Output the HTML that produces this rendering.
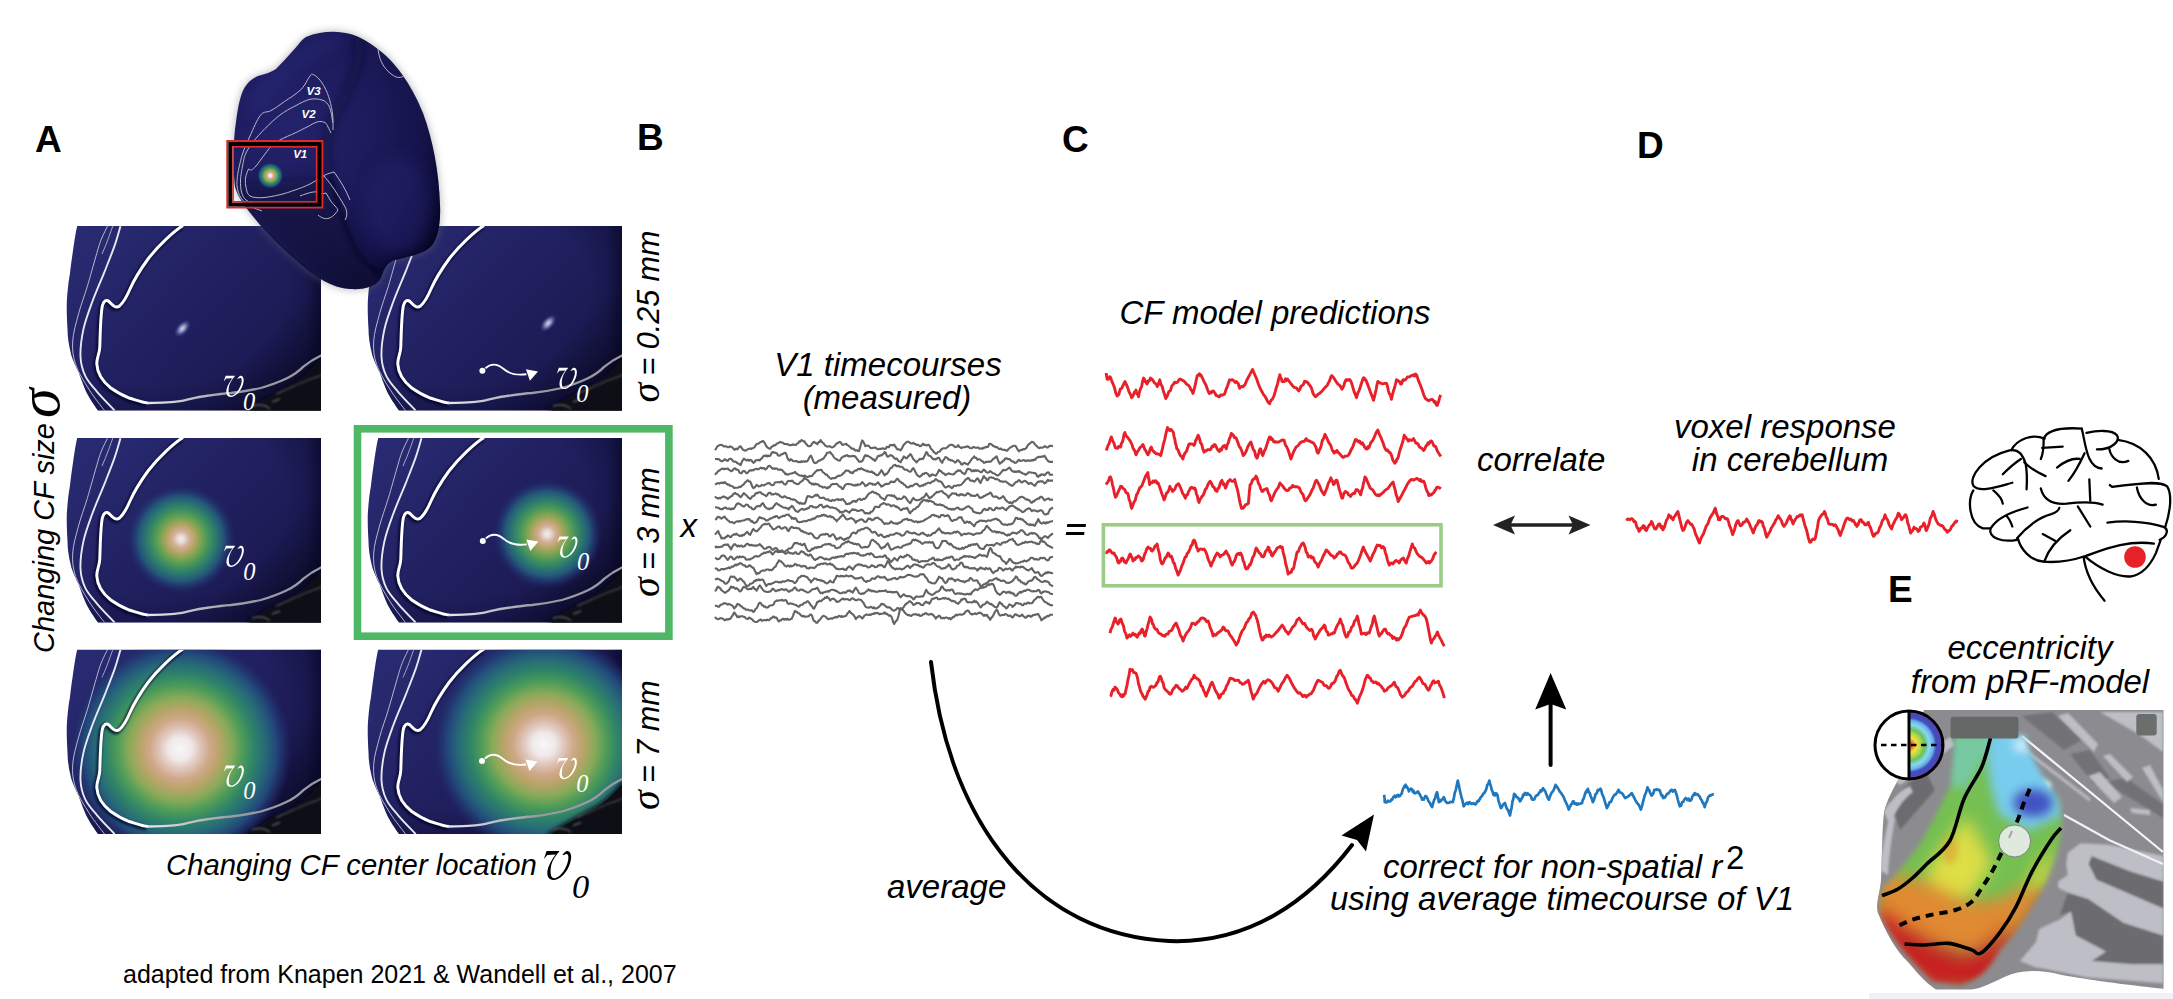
<!DOCTYPE html>
<html><head><meta charset="utf-8"><style>
html,body{margin:0;padding:0;background:#fff;width:2173px;height:999px;overflow:hidden}
svg{display:block}
</style></head><body>
<svg width="2173" height="999" viewBox="0 0 2173 999">
<defs><clipPath id="pclip"><path d="M11.2,0 H255 V184.5 H32 C26,176 21,168 19.4,163.9 C16,156 14,150 12.6,146.3 C8,137 5.5,131 4.7,126.8 C2.5,118 1.5,110 1.5,103 C0.8,92 0.6,82 0.8,76 C1.5,65 2.5,55 3.8,48.7 C5,38 6.5,28 7.7,19.4 C8.8,12 10,5 11.2,0 Z"/></clipPath><linearGradient id="navy" x1="0" y1="0" x2="1" y2="0.7">
<stop offset="0" stop-color="#2a2c74"/><stop offset="0.45" stop-color="#222263"/><stop offset="0.8" stop-color="#1c1b55"/><stop offset="1" stop-color="#121238"/></linearGradient><radialGradient id="vign" cx="0.35" cy="0.35" r="0.85">
<stop offset="0.6" stop-color="#000020" stop-opacity="0"/><stop offset="1" stop-color="#000010" stop-opacity="0.55"/></radialGradient><linearGradient id="lowg" gradientUnits="userSpaceOnUse" x1="80" y1="0" x2="170" y2="0"><stop offset="0" stop-color="#e8e8ee"/><stop offset="1" stop-color="#9a9aa2"/></linearGradient><filter id="blur1" x="-20%" y="-20%" width="140%" height="140%"><feGaussianBlur stdDeviation="1"/></filter><filter id="blur2" x="-50%" y="-50%" width="200%" height="200%"><feGaussianBlur stdDeviation="2"/></filter><filter id="blur4" x="-50%" y="-50%" width="200%" height="200%"><feGaussianBlur stdDeviation="4"/></filter><filter id="blur8" x="-50%" y="-50%" width="200%" height="200%"><feGaussianBlur stdDeviation="8"/></filter><radialGradient id="gs" cx="0.5" cy="0.5" r="0.5">
<stop offset="0" stop-color="#f8f6f6"/><stop offset="0.1" stop-color="#f0eaea"/><stop offset="0.18" stop-color="#e0c6bc"/><stop offset="0.27" stop-color="#cfa888"/><stop offset="0.36" stop-color="#b8a468"/>
<stop offset="0.46" stop-color="#88aa58"/><stop offset="0.56" stop-color="#4e9c58"/><stop offset="0.66" stop-color="#2f8468"/><stop offset="0.76" stop-color="#276a78"/><stop offset="0.86" stop-color="#22487a"/><stop offset="0.94" stop-color="#21306c" stop-opacity="0.6"/><stop offset="1" stop-color="#202264" stop-opacity="0"/></radialGradient><path id="vglyph" d="M150,228 C165,190 178,140 192,100 L402,100 L400,112 C340,180 290,260 272,330 C258,390 255,450 265,500 C275,540 300,555 330,552 C400,540 480,450 525,340 C550,280 560,230 555,190 C552,160 540,145 520,150 C495,158 470,170 455,165 C480,140 500,110 525,100 C575,90 605,140 602,210 C598,300 550,420 470,500 C410,560 350,585 300,582 C240,578 205,530 205,470 C205,390 250,290 330,175 L345,160 L205,165 C185,185 170,215 150,228 Z"/><radialGradient id="gm" cx="0.5" cy="0.5" r="0.5">
<stop offset="0" stop-color="#f2eeee"/><stop offset="0.06" stop-color="#e8dcd8"/><stop offset="0.15" stop-color="#d4ae98"/><stop offset="0.26" stop-color="#b4a464"/><stop offset="0.37" stop-color="#7aa452"/>
<stop offset="0.5" stop-color="#44955a"/><stop offset="0.63" stop-color="#2c7a6e"/><stop offset="0.77" stop-color="#245679"/><stop offset="0.9" stop-color="#21336e" stop-opacity="0.6"/><stop offset="1" stop-color="#202264" stop-opacity="0"/></radialGradient><linearGradient id="redge" x1="0" y1="0" x2="1" y2="0"><stop offset="0" stop-color="#000018" stop-opacity="0"/><stop offset="1" stop-color="#000018" stop-opacity="0.45"/></linearGradient><radialGradient id="gt" cx="0.5" cy="0.5" r="0.5">
<stop offset="0" stop-color="#d8d8e4"/><stop offset="0.4" stop-color="#9a9cc8" stop-opacity="0.85"/><stop offset="0.75" stop-color="#4a50a0" stop-opacity="0.5"/><stop offset="1" stop-color="#3a40a0" stop-opacity="0"/></radialGradient><clipPath id="bclip"><path d="M306,37 C318,32 332,31 342,32.5 C356,34 368,41 379,50 C398,64 414,90 423,113 C433,140 439,172 440,205 C441,226 437,243 428,249 C418,256 400,258 392,261 C385,265 383,272 381,278 C377,286 365,290 350,289 C333,288 316,278 299,263 C284,250 268,235 256,220 C246,208 238,197 235,187 C233,170 233,140 236,122 C238,105 241,93 245,87 C248,82 252,79 258,76 C265,74 272,72 276,69 C283,62 292,52 298,45 C301,41 303,39 306,37 Z"/></clipPath><radialGradient id="bgrad" cx="0.3" cy="0.38" r="0.75">
<stop offset="0" stop-color="#23236c"/><stop offset="0.45" stop-color="#1d1b5c"/><stop offset="0.75" stop-color="#16144c"/><stop offset="0.92" stop-color="#0f0d3a"/><stop offset="1" stop-color="#0c0a2c"/></radialGradient><clipPath id="eclip"><path d="M1924,710 H2163.5 V988.8 C2120,984 2090,980 2062,975 C2045,971 2030,969 2012,974 C1998,979 1985,988 1971,989.6 H1936 C1925,982 1919,975 1908,962 C1895,950 1885,930 1878,913 C1875,905 1880,893 1881,880 C1882,860 1882,830 1884,812 C1887,800 1893,789 1897,782 C1908,760 1917,735 1924,710 Z"/></clipPath><clipPath id="bandclip"><path d="M1954,735 L2025,735 C2030,760 2045,780 2060,800 C2064,830 2060,850 2045,885 C2030,910 2015,935 2000,950 C1990,968 1980,980 1960,985 L1933,982 C1915,965 1895,945 1880,915 C1878,895 1882,888 1888,883 C1898,872 1910,858 1920,844 C1927,832 1938,812 1950,787 C1953,770 1954,750 1955,735 Z"/></clipPath><filter id="bandblur" x="-10%" y="-10%" width="120%" height="120%"><feGaussianBlur stdDeviation="2.5"/></filter><linearGradient id="bandg" gradientUnits="userSpaceOnUse" x1="2035" y1="740" x2="1915" y2="975">
<stop offset="0" stop-color="#84d4ee"/><stop offset="0.2" stop-color="#70c8a8"/><stop offset="0.35" stop-color="#68c050"/><stop offset="0.52" stop-color="#c8dc40"/><stop offset="0.66" stop-color="#e2b030"/><stop offset="0.8" stop-color="#d05a24"/><stop offset="1" stop-color="#c41c24"/></linearGradient><radialGradient id="polg" gradientUnits="userSpaceOnUse" cx="1909" cy="745" r="34">
<stop offset="0" stop-color="#e01818"/><stop offset="0.1" stop-color="#f07020"/><stop offset="0.22" stop-color="#f4e040"/><stop offset="0.36" stop-color="#a8d848"/><stop offset="0.46" stop-color="#68c060"/><stop offset="0.6" stop-color="#88d8f0"/><stop offset="0.72" stop-color="#68b0e8"/><stop offset="0.8" stop-color="#4050c0"/><stop offset="0.9" stop-color="#4848b8"/><stop offset="1" stop-color="#7840b0"/></radialGradient></defs>
<rect width="2173" height="999" fill="#fff"/>
<g transform="translate(66,226)"><g clip-path="url(#pclip)"><rect x="-1" y="-1" width="258" height="187" fill="url(#navy)"/><rect x="-1" y="-1" width="258" height="187" fill="url(#vign)"/><rect x="240" y="-1" width="17" height="187" fill="url(#redge)"/></g><g clip-path="url(#pclip)"><ellipse cx="116.4" cy="102.5" rx="6" ry="10.5" transform="rotate(42 116.4 102.5)" fill="url(#gt)"/></g><g clip-path="url(#pclip)"><path d="M178,186 C195,174 212,166 228,157 C240,150 248,141 257,130 V186 Z" fill="#0d0d17" filter="url(#blur2)"/><path d="M182,186 C197,176 212,168 228,159 C240,152 248,143 257,132 V186 Z" fill="#0e0e16"/><path d="M186,180 C194,178 200,179 204,183 M206,176 L214,173" stroke="#5a5a60" stroke-width="1.5" fill="none" filter="url(#blur1)"/><path d="M210,168 C222,163 230,159 242,154 C248,152 252,151 257,148" stroke="#55555c" stroke-width="1.2" fill="none" filter="url(#blur1)"/><path d="M41.8,-0.5 C40.67,1.92 36.97,8.92 35,14 C33.03,19.08 32.28,22.27 30,30 C27.72,37.73 24.2,50.78 21.3,60.4 C18.4,70.02 15.03,78.6 12.6,87.7 C10.17,96.8 7.2,106.53 6.7,115 C6.2,123.47 6.83,130.35 9.6,138.5 C12.37,146.65 18.42,156.15 23.3,163.9 C28.18,171.65 36.3,181.48 38.9,185" stroke="#c8c8dc" stroke-width="0.9" fill="none"/><path d="M47,-0.5 C46,2.25 42.83,11.25 41,16 C39.17,20.75 36.83,26 36,28" stroke="#c8c8dc" stroke-width="0.8" fill="none"/><path d="M54.5,0.2 C53.53,3.4 51.3,11.97 48.7,19.4 C46.1,26.83 42.65,35.37 38.9,44.8 C35.15,54.23 29.78,66.23 26.2,76 C22.62,85.77 19.35,94.28 17.4,103.4 C15.45,112.52 14.17,122.9 14.5,130.7 C14.83,138.5 16.63,144.35 19.4,150.2 C22.17,156.05 26.22,160.07 31.1,165.8 C35.98,171.53 45.77,181.47 48.7,184.6" stroke="#e8e8f0" stroke-width="1.9" fill="none"/><path d="M117,-0.5 C108,5 92,20 82,33 C74,44 68,54 64,63 C61,70 58,76 53.5,80 C49.5,83 46.5,79 43,75.5 C40,73 37.5,75 36.3,80 C34.5,90 34.3,105 33.8,121 C33.5,128 30.5,132 30.8,138 C31.2,146 36,155 44.8,162 C52,167 58,170 62.3,171.7 C70,174 76,176.5 81.9,177" stroke="#05052a" stroke-width="5" fill="none" opacity="0.7" filter="url(#blur1)" transform="translate(-1.2,1.5)"/><path d="M117,-0.5 C108,5 92,20 82,33 C74,44 68,54 64,63 C61,70 58,76 53.5,80 C49.5,83 46.5,79 43,75.5 C40,73 37.5,75 36.3,80 C34.5,90 34.3,105 33.8,121 C33.5,128 30.5,132 30.8,138 C31.2,146 36,155 44.8,162 C52,167 58,170 62.3,171.7 C70,174 76,176.5 81.9,177" stroke="#ffffff" stroke-width="3" fill="none"/><path d="M81.9,177 C90,177 96,176.5 101,176.3 C108,176 112,175.5 114,175.2 C122,174 130,171 139.5,170 C150,168.5 157,167.5 165,167 C175,166 186,164 194.8,162 C205,159 213,156 220.4,152.5 C228,149 233,145 237.4,140.6 C243,136 249,132 257,128.5" stroke="url(#lowg)" stroke-width="2.3" fill="none"/></g><use href="#vglyph" transform="translate(157.8,149.5) scale(0.044) translate(-150,-95)" fill="#fff"/><text x="177.1" y="183.5" font-family="Liberation Serif" font-style="italic" font-size="24.5" fill="#fff">0</text></g><g transform="translate(367,226)"><g clip-path="url(#pclip)"><rect x="-1" y="-1" width="258" height="187" fill="url(#navy)"/><rect x="-1" y="-1" width="258" height="187" fill="url(#vign)"/><rect x="240" y="-1" width="17" height="187" fill="url(#redge)"/></g><g clip-path="url(#pclip)"><ellipse cx="181.2" cy="97.2" rx="6" ry="10.5" transform="rotate(42 181.2 97.2)" fill="url(#gt)"/></g><g clip-path="url(#pclip)"><path d="M178,186 C195,174 212,166 228,157 C240,150 248,141 257,130 V186 Z" fill="#0d0d17" filter="url(#blur2)"/><path d="M182,186 C197,176 212,168 228,159 C240,152 248,143 257,132 V186 Z" fill="#0e0e16"/><path d="M186,180 C194,178 200,179 204,183 M206,176 L214,173" stroke="#5a5a60" stroke-width="1.5" fill="none" filter="url(#blur1)"/><path d="M210,168 C222,163 230,159 242,154 C248,152 252,151 257,148" stroke="#55555c" stroke-width="1.2" fill="none" filter="url(#blur1)"/><path d="M41.8,-0.5 C40.67,1.92 36.97,8.92 35,14 C33.03,19.08 32.28,22.27 30,30 C27.72,37.73 24.2,50.78 21.3,60.4 C18.4,70.02 15.03,78.6 12.6,87.7 C10.17,96.8 7.2,106.53 6.7,115 C6.2,123.47 6.83,130.35 9.6,138.5 C12.37,146.65 18.42,156.15 23.3,163.9 C28.18,171.65 36.3,181.48 38.9,185" stroke="#c8c8dc" stroke-width="0.9" fill="none"/><path d="M47,-0.5 C46,2.25 42.83,11.25 41,16 C39.17,20.75 36.83,26 36,28" stroke="#c8c8dc" stroke-width="0.8" fill="none"/><path d="M54.5,0.2 C53.53,3.4 51.3,11.97 48.7,19.4 C46.1,26.83 42.65,35.37 38.9,44.8 C35.15,54.23 29.78,66.23 26.2,76 C22.62,85.77 19.35,94.28 17.4,103.4 C15.45,112.52 14.17,122.9 14.5,130.7 C14.83,138.5 16.63,144.35 19.4,150.2 C22.17,156.05 26.22,160.07 31.1,165.8 C35.98,171.53 45.77,181.47 48.7,184.6" stroke="#e8e8f0" stroke-width="1.9" fill="none"/><path d="M117,-0.5 C108,5 92,20 82,33 C74,44 68,54 64,63 C61,70 58,76 53.5,80 C49.5,83 46.5,79 43,75.5 C40,73 37.5,75 36.3,80 C34.5,90 34.3,105 33.8,121 C33.5,128 30.5,132 30.8,138 C31.2,146 36,155 44.8,162 C52,167 58,170 62.3,171.7 C70,174 76,176.5 81.9,177" stroke="#05052a" stroke-width="5" fill="none" opacity="0.7" filter="url(#blur1)" transform="translate(-1.2,1.5)"/><path d="M117,-0.5 C108,5 92,20 82,33 C74,44 68,54 64,63 C61,70 58,76 53.5,80 C49.5,83 46.5,79 43,75.5 C40,73 37.5,75 36.3,80 C34.5,90 34.3,105 33.8,121 C33.5,128 30.5,132 30.8,138 C31.2,146 36,155 44.8,162 C52,167 58,170 62.3,171.7 C70,174 76,176.5 81.9,177" stroke="#ffffff" stroke-width="3" fill="none"/><path d="M81.9,177 C90,177 96,176.5 101,176.3 C108,176 112,175.5 114,175.2 C122,174 130,171 139.5,170 C150,168.5 157,167.5 165,167 C175,166 186,164 194.8,162 C205,159 213,156 220.4,152.5 C228,149 233,145 237.4,140.6 C243,136 249,132 257,128.5" stroke="url(#lowg)" stroke-width="2.3" fill="none"/></g><use href="#vglyph" transform="translate(190,141.6) scale(0.044) translate(-150,-95)" fill="#fff"/><text x="209.3" y="175.6" font-family="Liberation Serif" font-style="italic" font-size="24.5" fill="#fff">0</text><g transform="translate(115.4,144.8)"><circle cx="0" cy="0" r="3" fill="#fff"/><path d="M3,-2.5 C9,-8 15,-7 21,-2 C26,2.5 32,5 44,3.5" stroke="#fff" stroke-width="1.9" fill="none"/><path d="M55.6,0.6 L43.5,-1.5 L47.5,10 Z" fill="#fff"/></g></g><g transform="translate(66,438)"><g clip-path="url(#pclip)"><rect x="-1" y="-1" width="258" height="187" fill="url(#navy)"/><rect x="-1" y="-1" width="258" height="187" fill="url(#vign)"/><rect x="240" y="-1" width="17" height="187" fill="url(#redge)"/></g><g clip-path="url(#pclip)"><circle cx="115" cy="101" r="55" fill="url(#gm)"/></g><g clip-path="url(#pclip)"><path d="M178,186 C195,174 212,166 228,157 C240,150 248,141 257,130 V186 Z" fill="#0d0d17" filter="url(#blur2)"/><path d="M182,186 C197,176 212,168 228,159 C240,152 248,143 257,132 V186 Z" fill="#0e0e16"/><path d="M186,180 C194,178 200,179 204,183 M206,176 L214,173" stroke="#5a5a60" stroke-width="1.5" fill="none" filter="url(#blur1)"/><path d="M210,168 C222,163 230,159 242,154 C248,152 252,151 257,148" stroke="#55555c" stroke-width="1.2" fill="none" filter="url(#blur1)"/><path d="M41.8,-0.5 C40.67,1.92 36.97,8.92 35,14 C33.03,19.08 32.28,22.27 30,30 C27.72,37.73 24.2,50.78 21.3,60.4 C18.4,70.02 15.03,78.6 12.6,87.7 C10.17,96.8 7.2,106.53 6.7,115 C6.2,123.47 6.83,130.35 9.6,138.5 C12.37,146.65 18.42,156.15 23.3,163.9 C28.18,171.65 36.3,181.48 38.9,185" stroke="#c8c8dc" stroke-width="0.9" fill="none"/><path d="M47,-0.5 C46,2.25 42.83,11.25 41,16 C39.17,20.75 36.83,26 36,28" stroke="#c8c8dc" stroke-width="0.8" fill="none"/><path d="M54.5,0.2 C53.53,3.4 51.3,11.97 48.7,19.4 C46.1,26.83 42.65,35.37 38.9,44.8 C35.15,54.23 29.78,66.23 26.2,76 C22.62,85.77 19.35,94.28 17.4,103.4 C15.45,112.52 14.17,122.9 14.5,130.7 C14.83,138.5 16.63,144.35 19.4,150.2 C22.17,156.05 26.22,160.07 31.1,165.8 C35.98,171.53 45.77,181.47 48.7,184.6" stroke="#e8e8f0" stroke-width="1.9" fill="none"/><path d="M117,-0.5 C108,5 92,20 82,33 C74,44 68,54 64,63 C61,70 58,76 53.5,80 C49.5,83 46.5,79 43,75.5 C40,73 37.5,75 36.3,80 C34.5,90 34.3,105 33.8,121 C33.5,128 30.5,132 30.8,138 C31.2,146 36,155 44.8,162 C52,167 58,170 62.3,171.7 C70,174 76,176.5 81.9,177" stroke="#05052a" stroke-width="5" fill="none" opacity="0.7" filter="url(#blur1)" transform="translate(-1.2,1.5)"/><path d="M117,-0.5 C108,5 92,20 82,33 C74,44 68,54 64,63 C61,70 58,76 53.5,80 C49.5,83 46.5,79 43,75.5 C40,73 37.5,75 36.3,80 C34.5,90 34.3,105 33.8,121 C33.5,128 30.5,132 30.8,138 C31.2,146 36,155 44.8,162 C52,167 58,170 62.3,171.7 C70,174 76,176.5 81.9,177" stroke="#ffffff" stroke-width="3" fill="none"/><path d="M81.9,177 C90,177 96,176.5 101,176.3 C108,176 112,175.5 114,175.2 C122,174 130,171 139.5,170 C150,168.5 157,167.5 165,167 C175,166 186,164 194.8,162 C205,159 213,156 220.4,152.5 C228,149 233,145 237.4,140.6 C243,136 249,132 257,128.5" stroke="url(#lowg)" stroke-width="2.3" fill="none"/></g><use href="#vglyph" transform="translate(158,107.5) scale(0.044) translate(-150,-95)" fill="#fff"/><text x="177.3" y="141.5" font-family="Liberation Serif" font-style="italic" font-size="24.5" fill="#fff">0</text></g><g transform="translate(367,438)"><g clip-path="url(#pclip)"><rect x="-1" y="-1" width="258" height="187" fill="url(#navy)"/><rect x="-1" y="-1" width="258" height="187" fill="url(#vign)"/><rect x="240" y="-1" width="17" height="187" fill="url(#redge)"/></g><g clip-path="url(#pclip)"><circle cx="180.2" cy="96" r="55" fill="url(#gm)"/></g><g clip-path="url(#pclip)"><path d="M178,186 C195,174 212,166 228,157 C240,150 248,141 257,130 V186 Z" fill="#0d0d17" filter="url(#blur2)"/><path d="M182,186 C197,176 212,168 228,159 C240,152 248,143 257,132 V186 Z" fill="#0e0e16"/><path d="M186,180 C194,178 200,179 204,183 M206,176 L214,173" stroke="#5a5a60" stroke-width="1.5" fill="none" filter="url(#blur1)"/><path d="M210,168 C222,163 230,159 242,154 C248,152 252,151 257,148" stroke="#55555c" stroke-width="1.2" fill="none" filter="url(#blur1)"/><path d="M41.8,-0.5 C40.67,1.92 36.97,8.92 35,14 C33.03,19.08 32.28,22.27 30,30 C27.72,37.73 24.2,50.78 21.3,60.4 C18.4,70.02 15.03,78.6 12.6,87.7 C10.17,96.8 7.2,106.53 6.7,115 C6.2,123.47 6.83,130.35 9.6,138.5 C12.37,146.65 18.42,156.15 23.3,163.9 C28.18,171.65 36.3,181.48 38.9,185" stroke="#c8c8dc" stroke-width="0.9" fill="none"/><path d="M47,-0.5 C46,2.25 42.83,11.25 41,16 C39.17,20.75 36.83,26 36,28" stroke="#c8c8dc" stroke-width="0.8" fill="none"/><path d="M54.5,0.2 C53.53,3.4 51.3,11.97 48.7,19.4 C46.1,26.83 42.65,35.37 38.9,44.8 C35.15,54.23 29.78,66.23 26.2,76 C22.62,85.77 19.35,94.28 17.4,103.4 C15.45,112.52 14.17,122.9 14.5,130.7 C14.83,138.5 16.63,144.35 19.4,150.2 C22.17,156.05 26.22,160.07 31.1,165.8 C35.98,171.53 45.77,181.47 48.7,184.6" stroke="#e8e8f0" stroke-width="1.9" fill="none"/><path d="M117,-0.5 C108,5 92,20 82,33 C74,44 68,54 64,63 C61,70 58,76 53.5,80 C49.5,83 46.5,79 43,75.5 C40,73 37.5,75 36.3,80 C34.5,90 34.3,105 33.8,121 C33.5,128 30.5,132 30.8,138 C31.2,146 36,155 44.8,162 C52,167 58,170 62.3,171.7 C70,174 76,176.5 81.9,177" stroke="#05052a" stroke-width="5" fill="none" opacity="0.7" filter="url(#blur1)" transform="translate(-1.2,1.5)"/><path d="M117,-0.5 C108,5 92,20 82,33 C74,44 68,54 64,63 C61,70 58,76 53.5,80 C49.5,83 46.5,79 43,75.5 C40,73 37.5,75 36.3,80 C34.5,90 34.3,105 33.8,121 C33.5,128 30.5,132 30.8,138 C31.2,146 36,155 44.8,162 C52,167 58,170 62.3,171.7 C70,174 76,176.5 81.9,177" stroke="#ffffff" stroke-width="3" fill="none"/><path d="M81.9,177 C90,177 96,176.5 101,176.3 C108,176 112,175.5 114,175.2 C122,174 130,171 139.5,170 C150,168.5 157,167.5 165,167 C175,166 186,164 194.8,162 C205,159 213,156 220.4,152.5 C228,149 233,145 237.4,140.6 C243,136 249,132 257,128.5" stroke="url(#lowg)" stroke-width="2.3" fill="none"/></g><use href="#vglyph" transform="translate(190.6,98.3) scale(0.044) translate(-150,-95)" fill="#fff"/><text x="209.9" y="132.3" font-family="Liberation Serif" font-style="italic" font-size="24.5" fill="#fff">0</text><g transform="translate(115.8,102.9)"><circle cx="0" cy="0" r="3" fill="#fff"/><path d="M3,-2.5 C9,-8 15,-7 21,-2 C26,2.5 32,5 44,3.5" stroke="#fff" stroke-width="1.9" fill="none"/><path d="M55.6,0.6 L43.5,-1.5 L47.5,10 Z" fill="#fff"/></g></g><g transform="translate(66,649.5)"><g clip-path="url(#pclip)"><rect x="-1" y="-1" width="258" height="187" fill="url(#navy)"/><rect x="-1" y="-1" width="258" height="187" fill="url(#vign)"/><rect x="240" y="-1" width="17" height="187" fill="url(#redge)"/></g><g clip-path="url(#pclip)"><circle cx="114" cy="99.5" r="112" fill="url(#gs)"/></g><g clip-path="url(#pclip)"><path d="M178,186 C195,174 212,166 228,157 C240,150 248,141 257,130 V186 Z" fill="#0d0d17" filter="url(#blur2)"/><path d="M182,186 C197,176 212,168 228,159 C240,152 248,143 257,132 V186 Z" fill="#0e0e16"/><path d="M186,180 C194,178 200,179 204,183 M206,176 L214,173" stroke="#5a5a60" stroke-width="1.5" fill="none" filter="url(#blur1)"/><path d="M210,168 C222,163 230,159 242,154 C248,152 252,151 257,148" stroke="#55555c" stroke-width="1.2" fill="none" filter="url(#blur1)"/><path d="M41.8,-0.5 C40.67,1.92 36.97,8.92 35,14 C33.03,19.08 32.28,22.27 30,30 C27.72,37.73 24.2,50.78 21.3,60.4 C18.4,70.02 15.03,78.6 12.6,87.7 C10.17,96.8 7.2,106.53 6.7,115 C6.2,123.47 6.83,130.35 9.6,138.5 C12.37,146.65 18.42,156.15 23.3,163.9 C28.18,171.65 36.3,181.48 38.9,185" stroke="#c8c8dc" stroke-width="0.9" fill="none"/><path d="M47,-0.5 C46,2.25 42.83,11.25 41,16 C39.17,20.75 36.83,26 36,28" stroke="#c8c8dc" stroke-width="0.8" fill="none"/><path d="M54.5,0.2 C53.53,3.4 51.3,11.97 48.7,19.4 C46.1,26.83 42.65,35.37 38.9,44.8 C35.15,54.23 29.78,66.23 26.2,76 C22.62,85.77 19.35,94.28 17.4,103.4 C15.45,112.52 14.17,122.9 14.5,130.7 C14.83,138.5 16.63,144.35 19.4,150.2 C22.17,156.05 26.22,160.07 31.1,165.8 C35.98,171.53 45.77,181.47 48.7,184.6" stroke="#e8e8f0" stroke-width="1.9" fill="none"/><path d="M117,-0.5 C108,5 92,20 82,33 C74,44 68,54 64,63 C61,70 58,76 53.5,80 C49.5,83 46.5,79 43,75.5 C40,73 37.5,75 36.3,80 C34.5,90 34.3,105 33.8,121 C33.5,128 30.5,132 30.8,138 C31.2,146 36,155 44.8,162 C52,167 58,170 62.3,171.7 C70,174 76,176.5 81.9,177" stroke="#05052a" stroke-width="5" fill="none" opacity="0.7" filter="url(#blur1)" transform="translate(-1.2,1.5)"/><path d="M117,-0.5 C108,5 92,20 82,33 C74,44 68,54 64,63 C61,70 58,76 53.5,80 C49.5,83 46.5,79 43,75.5 C40,73 37.5,75 36.3,80 C34.5,90 34.3,105 33.8,121 C33.5,128 30.5,132 30.8,138 C31.2,146 36,155 44.8,162 C52,167 58,170 62.3,171.7 C70,174 76,176.5 81.9,177" stroke="#ffffff" stroke-width="3" fill="none"/><path d="M81.9,177 C90,177 96,176.5 101,176.3 C108,176 112,175.5 114,175.2 C122,174 130,171 139.5,170 C150,168.5 157,167.5 165,167 C175,166 186,164 194.8,162 C205,159 213,156 220.4,152.5 C228,149 233,145 237.4,140.6 C243,136 249,132 257,128.5" stroke="url(#lowg)" stroke-width="2.3" fill="none"/></g><use href="#vglyph" transform="translate(158,115.9) scale(0.044) translate(-150,-95)" fill="#fff"/><text x="177.3" y="149.9" font-family="Liberation Serif" font-style="italic" font-size="24.5" fill="#fff">0</text></g><g transform="translate(367,649.5)"><g clip-path="url(#pclip)"><rect x="-1" y="-1" width="258" height="187" fill="url(#navy)"/><rect x="-1" y="-1" width="258" height="187" fill="url(#vign)"/><rect x="240" y="-1" width="17" height="187" fill="url(#redge)"/></g><g clip-path="url(#pclip)"><circle cx="176.8" cy="95" r="112" fill="url(#gs)"/></g><g clip-path="url(#pclip)"><path d="M178,186 C195,174 212,166 228,157 C240,150 248,141 257,130 V186 Z" fill="#0d0d17" filter="url(#blur2)"/><path d="M182,186 C197,176 212,168 228,159 C240,152 248,143 257,132 V186 Z" fill="#0e0e16"/><path d="M186,180 C194,178 200,179 204,183 M206,176 L214,173" stroke="#5a5a60" stroke-width="1.5" fill="none" filter="url(#blur1)"/><path d="M210,168 C222,163 230,159 242,154 C248,152 252,151 257,148" stroke="#55555c" stroke-width="1.2" fill="none" filter="url(#blur1)"/><path d="M41.8,-0.5 C40.67,1.92 36.97,8.92 35,14 C33.03,19.08 32.28,22.27 30,30 C27.72,37.73 24.2,50.78 21.3,60.4 C18.4,70.02 15.03,78.6 12.6,87.7 C10.17,96.8 7.2,106.53 6.7,115 C6.2,123.47 6.83,130.35 9.6,138.5 C12.37,146.65 18.42,156.15 23.3,163.9 C28.18,171.65 36.3,181.48 38.9,185" stroke="#c8c8dc" stroke-width="0.9" fill="none"/><path d="M47,-0.5 C46,2.25 42.83,11.25 41,16 C39.17,20.75 36.83,26 36,28" stroke="#c8c8dc" stroke-width="0.8" fill="none"/><path d="M54.5,0.2 C53.53,3.4 51.3,11.97 48.7,19.4 C46.1,26.83 42.65,35.37 38.9,44.8 C35.15,54.23 29.78,66.23 26.2,76 C22.62,85.77 19.35,94.28 17.4,103.4 C15.45,112.52 14.17,122.9 14.5,130.7 C14.83,138.5 16.63,144.35 19.4,150.2 C22.17,156.05 26.22,160.07 31.1,165.8 C35.98,171.53 45.77,181.47 48.7,184.6" stroke="#e8e8f0" stroke-width="1.9" fill="none"/><path d="M117,-0.5 C108,5 92,20 82,33 C74,44 68,54 64,63 C61,70 58,76 53.5,80 C49.5,83 46.5,79 43,75.5 C40,73 37.5,75 36.3,80 C34.5,90 34.3,105 33.8,121 C33.5,128 30.5,132 30.8,138 C31.2,146 36,155 44.8,162 C52,167 58,170 62.3,171.7 C70,174 76,176.5 81.9,177" stroke="#05052a" stroke-width="5" fill="none" opacity="0.7" filter="url(#blur1)" transform="translate(-1.2,1.5)"/><path d="M117,-0.5 C108,5 92,20 82,33 C74,44 68,54 64,63 C61,70 58,76 53.5,80 C49.5,83 46.5,79 43,75.5 C40,73 37.5,75 36.3,80 C34.5,90 34.3,105 33.8,121 C33.5,128 30.5,132 30.8,138 C31.2,146 36,155 44.8,162 C52,167 58,170 62.3,171.7 C70,174 76,176.5 81.9,177" stroke="#ffffff" stroke-width="3" fill="none"/><path d="M81.9,177 C90,177 96,176.5 101,176.3 C108,176 112,175.5 114,175.2 C122,174 130,171 139.5,170 C150,168.5 157,167.5 165,167 C175,166 186,164 194.8,162 C205,159 213,156 220.4,152.5 C228,149 233,145 237.4,140.6 C243,136 249,132 257,128.5" stroke="url(#lowg)" stroke-width="2.3" fill="none"/></g><use href="#vglyph" transform="translate(190,108.2) scale(0.044) translate(-150,-95)" fill="#fff"/><text x="209.3" y="142.2" font-family="Liberation Serif" font-style="italic" font-size="24.5" fill="#fff">0</text><g transform="translate(115,111.5)"><circle cx="0" cy="0" r="3" fill="#fff"/><path d="M3,-2.5 C9,-8 15,-7 21,-2 C26,2.5 32,5 44,3.5" stroke="#fff" stroke-width="1.9" fill="none"/><path d="M55.6,0.6 L43.5,-1.5 L47.5,10 Z" fill="#fff"/></g></g>
<path d="M306,37 C318,32 332,31 342,32.5 C356,34 368,41 379,50 C398,64 414,90 423,113 C433,140 439,172 440,205 C441,226 437,243 428,249 C418,256 400,258 392,261 C385,265 383,272 381,278 C377,286 365,290 350,289 C333,288 316,278 299,263 C284,250 268,235 256,220 C246,208 238,197 235,187 C233,170 233,140 236,122 C238,105 241,93 245,87 C248,82 252,79 258,76 C265,74 272,72 276,69 C283,62 292,52 298,45 C301,41 303,39 306,37 Z" fill="#707070" opacity="0.55" filter="url(#blur4)"/><g clip-path="url(#bclip)"><rect x="220" y="25" width="230" height="270" fill="url(#bgrad)"/><path d="M357,38 C366,60 346,95 334,116 C327,130 325,150 328,172" stroke="#08082a" stroke-width="8" fill="none" opacity="0.45" filter="url(#blur4)"/><path d="M330,176 C338,206 346,236 360,258 C368,268 378,272 386,272" stroke="#05051c" stroke-width="4" fill="none" opacity="0.65" filter="url(#blur2)"/><path d="M236,185 L330,178 C340,215 350,245 368,265 L380,292 L335,292 C300,262 265,230 236,200 Z" fill="#080826" opacity="0.4" filter="url(#blur8)"/><ellipse cx="398" cy="205" rx="32" ry="48" fill="#2a2a7c" opacity="0.35" filter="url(#blur8)"/><path d="M440,120 C446,170 447,220 430,250 C416,262 396,262 384,270" stroke="#06061e" stroke-width="10" fill="none" opacity="0.5" filter="url(#blur4)"/><path d="M250,110 C270,80 300,50 340,40" stroke="#2e3084" stroke-width="14" fill="none" opacity="0.4" filter="url(#blur8)"/></g><g clip-path="url(#bclip)" fill="none" stroke="#b8b8c8" stroke-width="1"><path d="M248.5,169 C249,169.15 250.25,170.4 251.5,169.9 C252.75,169.4 253.75,168.65 256,166 C258.25,163.35 262.5,157.23 265,154 C267.5,150.77 268.5,148.95 271,146.6 C273.5,144.25 276,142.17 280,139.9 C284,137.63 290.5,135.15 295,133 C299.5,130.85 303.23,128.87 307,127 C310.77,125.13 314.6,122.53 317.6,121.8 C320.6,121.07 323.27,121.73 325,122.6 C326.73,123.47 327,125.27 328,127 C329,128.73 330.5,132 331,133"/><path d="M248.5,169 C248,170.5 245.87,174.72 245.5,178 C245.13,181.28 245.55,185.7 246.3,188.7 C247.05,191.7 247.38,194.5 250,196 C252.62,197.5 257,197.92 262,197.7 C267,197.48 274.5,195.98 280,194.7 C285.5,193.42 290,191.78 295,190 C300,188.22 305,186.5 310,184 C315,181.5 321,177 325,175 C329,173 332.5,172.5 334,172"/><path d="M242.5,166 C243,164 243.75,158 245.5,154 C247.25,150 249.75,146.23 253,142 C256.25,137.77 260.5,133.1 265,128.6 C269.5,124.1 275,118.77 280,115 C285,111.23 290,108.62 295,106 C300,103.38 305.5,100.3 310,99.3 C314.5,98.3 319,99.13 322,100 C325,100.87 326.5,102.5 328,104.5 C329.5,106.5 330.22,108.98 331,112 C331.78,115.02 332.42,120.83 332.7,122.6"/><path d="M242.5,166 C242.17,168.33 240.67,175.67 240.5,180 C240.33,184.33 240.58,188.67 241.5,192 C242.42,195.33 243.58,198 246,200 C248.42,202 252,203.17 256,204 C260,204.83 267.67,204.83 270,205"/><path d="M238,172 C238.75,169 240.5,160 242.5,154 C244.5,148 246.98,142.5 250,136 C253.02,129.5 257.1,119.23 260.6,115 C264.1,110.77 267,112.85 271,110.6 C275,108.35 279.6,105.02 284.6,101.5 C289.6,97.98 296.77,93.75 301,89.5 C305.23,85.25 308,78.5 310,76 C312,73.5 311.5,74 313,74.5 C314.5,75 317,76.75 319,79 C321,81.25 323.22,84.5 325,88 C326.78,91.5 328.42,95.5 329.7,100 C330.98,104.5 332.15,110 332.7,115 C333.25,120 332.95,127.5 333,130"/><path d="M238,172 C237.83,174.33 236.5,181.67 237,186 C237.5,190.33 238.83,194.67 241,198 C243.17,201.33 246.5,203.83 250,206 C253.5,208.17 260,210.17 262,211"/><path d="M300,196 C310,192 318,190 322,194 L326,193 L329,198 C332,204 336,206 338,210 C333,218 326,222 318,215"/><path d="M324,176 C332,185 338,195 344,205 C347,210 348,215 345,220"/><path d="M334,172 C340,180 346,190 350,200"/><path d="M378,42 C377,55 382,70 396,77 C400,78 404,77 406,74"/></g><circle cx="270.3" cy="175.5" r="13" fill="url(#gs)"/><rect x="227.3" y="141" width="95.1" height="66.5" fill="none" stroke="#e02a2a" stroke-width="2"/><rect x="230.3" y="144" width="89.1" height="60.5" fill="none" stroke="#000" stroke-width="4"/><rect x="233.1" y="146.8" width="83.5" height="55" fill="none" stroke="#e02a2a" stroke-width="1.6"/><g font-family="Liberation Sans" font-weight="bold" font-style="italic" font-size="11.5" fill="#fff"><text x="293.2" y="158">V1</text><text x="301.5" y="118">V2</text><text x="306.6" y="94.8">V3</text></g><g font-family="Liberation Sans" font-weight="bold" font-size="37" fill="#000"><text x="35" y="152">A</text><text x="637" y="150">B</text><text x="1062" y="152">C</text><text x="1637" y="158">D</text><text x="1888" y="602">E</text></g><g font-family="Liberation Sans" font-style="italic" font-size="33" fill="#000"><text x="888" y="376" text-anchor="middle">V1 timecourses</text><text x="887" y="409" text-anchor="middle">(measured)</text><text x="1275" y="324" text-anchor="middle">CF model predictions</text><text x="1477" y="471">correlate</text><text x="1785" y="438" text-anchor="middle">voxel response</text><text x="1790" y="471" text-anchor="middle">in cerebellum</text><text x="2030" y="659" text-anchor="middle">eccentricity</text><text x="2030" y="693" text-anchor="middle">from pRF-model</text><text x="887" y="898">average</text><text x="1383" y="878">correct for non-spatial r</text><text x="1330" y="910">using average timecourse of V1</text><text x="680.5" y="537">x</text></g><text x="1726" y="869" font-family="Liberation Sans" font-size="33">2</text><path d="M1067.3,524 L1086,524 L1085.6,527 L1066.9,527 Z M1066.3,532 L1084.5,532 L1084.1,535 L1065.6,535 Z" fill="#000"/><text x="123" y="983" font-family="Liberation Sans" font-size="25">adapted from Knapen 2021 &amp; Wandell et al., 2007</text><text x="166" y="875" font-family="Liberation Sans" font-style="italic" font-size="29.3">Changing CF center location</text><use href="#vglyph" transform="translate(544,850.7) scale(0.06007) translate(-150,-95)" fill="#000"/><text x="572" y="898.2" font-family="Liberation Serif" font-style="italic" font-size="34.5">0</text><text transform="translate(54,653) rotate(-90)" font-family="Liberation Sans" font-style="italic" font-size="29">Changing CF size</text><text transform="translate(58.5,418) rotate(-90)" font-family="Liberation Serif" font-style="italic" font-size="60">σ</text><text transform="translate(658.5,402.5) rotate(-90)" font-family="Liberation Serif" font-style="italic" font-size="40">σ</text><text transform="translate(658.5,375.5) rotate(-90)" font-family="Liberation Sans" font-style="italic" font-size="30.5">= 0.25 mm</text><text transform="translate(658.5,597) rotate(-90)" font-family="Liberation Serif" font-style="italic" font-size="40">σ</text><text transform="translate(658.5,570) rotate(-90)" font-family="Liberation Sans" font-style="italic" font-size="30.5">= 3 mm</text><text transform="translate(658.5,810) rotate(-90)" font-family="Liberation Serif" font-style="italic" font-size="40">σ</text><text transform="translate(658.5,783) rotate(-90)" font-family="Liberation Sans" font-style="italic" font-size="30.5">= 7 mm</text><g fill="none" stroke="#636367" stroke-width="2.1" stroke-linejoin="round"><path d="M715,450.2 L716.1,448.6 L717.1,446.6 L718.2,445.9 L719.3,445.2 L720.3,445 L721.4,444.9 L722.5,445.2 L723.5,446.3 L724.6,446.6 L725.7,446.1 L726.7,446.7 L727.8,447.3 L728.9,447.3 L729.9,446.3 L731,446.7 L732.1,447.3 L733.1,448.2 L734.2,449.6 L735.3,449.4 L736.3,448.6 L737.4,449.3 L738.5,447.9 L739.5,446.6 L740.6,446.3 L741.7,447.9 L742.7,449.5 L743.8,450 L744.9,450.6 L745.9,450.4 L747,449.9 L748.1,449 L749.1,448.8 L750.2,448.4 L751.3,449 L752.3,448.2 L753.4,448 L754.5,447.1 L755.5,445.6 L756.6,444.1 L757.7,443.8 L758.7,443.6 L759.8,442.5 L760.9,441.9 L761.9,441.6 L763,440.8 L764.1,442.2 L765.1,443.6 L766.2,446 L767.3,447.3 L768.3,448 L769.4,448.7 L770.5,448.6 L771.5,446.7 L772.6,446.5 L773.7,445.2 L774.7,445.5 L775.8,444.8 L776.9,443.5 L777.9,443.3 L779,442.7 L780.1,441.9 L781.1,442.4 L782.2,442.6 L783.3,442.9 L784.3,444 L785.4,444 L786.5,444.1 L787.5,444.1 L788.6,444.8 L789.7,445.2 L790.7,445.1 L791.8,445 L792.9,444.3 L793.9,444.7 L795,444.9 L796.1,445 L797.1,443.5 L798.2,443.3 L799.3,441.4 L800.3,441.6 L801.4,440 L802.5,440.6 L803.5,441.5 L804.6,441.4 L805.7,443.4 L806.7,444.4 L807.8,445.9 L808.9,446.2 L809.9,446.2 L811,445.5 L812.1,443.7 L813.1,442.5 L814.2,441.8 L815.3,443.1 L816.3,443.1 L817.4,444.3 L818.5,442.1 L819.5,442.2 L820.6,440 L821.7,441.8 L822.7,442.8 L823.8,443.5 L824.9,445.3 L825.9,446 L827,446.5 L828.1,446.6 L829.1,446.1 L830.2,446.5 L831.3,447.3 L832.3,447.4 L833.4,446.9 L834.5,446.1 L835.5,445 L836.6,443.3 L837.7,443.4 L838.7,442.3 L839.8,441.9 L840.9,442.6 L841.9,444.5 L843,444.9 L844.1,444.3 L845.1,444.2 L846.2,443.7 L847.3,445.1 L848.3,445.5 L849.4,446.5 L850.5,447.3 L851.5,448.7 L852.6,448.6 L853.7,448.7 L854.7,450 L855.8,450.7 L856.9,450.1 L857.9,451 L859,451.1 L860.1,447.4 L861.1,443.5 L862.2,440.4 L863.3,441.7 L864.3,443.8 L865.4,446.2 L866.5,445.8 L867.5,445.5 L868.6,445.7 L869.7,446.9 L870.7,447.9 L871.8,448.1 L872.9,447.9 L873.9,447.8 L875,447.4 L876.1,448.1 L877.1,448.9 L878.2,449.2 L879.3,448.9 L880.3,448.9 L881.4,448.9 L882.5,448.2 L883.5,448.5 L884.6,448.9 L885.7,448.8 L886.7,446.9 L887.8,447.1 L888.9,447.3 L889.9,445.1 L891,445.3 L892.1,444.9 L893.1,445.4 L894.2,444.6 L895.3,446.5 L896.3,447.8 L897.4,449.4 L898.5,449.4 L899.5,449.5 L900.6,450.4 L901.7,448.9 L902.7,446.8 L903.8,444.7 L904.9,443.9 L905.9,442.5 L907,441.9 L908.1,441.6 L909.1,442.1 L910.2,443.1 L911.3,443.5 L912.3,443.5 L913.4,442.8 L914.5,443.9 L915.5,444 L916.6,445.1 L917.7,444.7 L918.7,445.2 L919.8,446.2 L920.9,445.9 L921.9,444.9 L923,443.7 L924.1,445 L925.1,444.7 L926.2,445.4 L927.3,445.2 L928.3,444.7 L929.4,445.5 L930.5,447.8 L931.5,449.3 L932.6,450.3 L933.7,451.9 L934.7,452.8 L935.8,453.8 L936.9,453.4 L937.9,452 L939,451.8 L940.1,451.1 L941.1,449.5 L942.2,448.8 L943.3,448.3 L944.3,448.2 L945.4,448.4 L946.5,447.8 L947.5,447.2 L948.6,445.9 L949.7,445.2 L950.7,444.8 L951.8,444.8 L952.9,445.3 L953.9,445.8 L955,447.2 L956.1,446.8 L957.1,446.6 L958.2,445.1 L959.3,446.9 L960.3,447.3 L961.4,448.1 L962.5,447.4 L963.5,447.2 L964.6,447.2 L965.7,446.8 L966.7,446.6 L967.8,446.4 L968.9,446.9 L969.9,447.9 L971,448.2 L972.1,448.2 L973.1,447 L974.2,447 L975.3,447.8 L976.3,447.7 L977.4,447.6 L978.5,447.6 L979.5,448.8 L980.6,448.5 L981.7,448.2 L982.7,448.7 L983.8,447.6 L984.9,447.7 L985.9,446.9 L987,447.1 L988.1,446.8 L989.1,444.1 L990.2,443.7 L991.3,444.3 L992.3,445.1 L993.4,446.1 L994.5,446.3 L995.5,447.3 L996.6,447 L997.7,447.7 L998.7,448.7 L999.8,449 L1000.9,448.5 L1001.9,449.6 L1003,449.8 L1004.1,449.9 L1005.1,449.7 L1006.2,450.6 L1007.3,450.6 L1008.3,449.2 L1009.4,448.3 L1010.5,447.4 L1011.5,446.8 L1012.6,446.3 L1013.7,445.7 L1014.7,445.8 L1015.8,446.2 L1016.9,448.3 L1017.9,449.9 L1019,451.3 L1020.1,450.2 L1021.1,449.9 L1022.2,450 L1023.3,449.1 L1024.3,449.3 L1025.4,448.8 L1026.5,447.7 L1027.5,445.8 L1028.6,444.3 L1029.7,443.8 L1030.7,442.8 L1031.8,441.8 L1032.9,442 L1033.9,442.9 L1035,444.4 L1036.1,445.5 L1037.1,446.4 L1038.2,447.6 L1039.3,448.1 L1040.3,447.4 L1041.4,447.8 L1042.5,447.6 L1043.5,447.3 L1044.6,446.1 L1045.7,446.7 L1046.7,447.4 L1047.8,447.5 L1048.9,446.4 L1049.9,445.7 L1053,446"/><path d="M715,459 L716.1,459 L717.1,459.1 L718.2,459 L719.3,459.4 L720.3,460.5 L721.4,461.1 L722.5,461.1 L723.5,460.6 L724.6,459.3 L725.7,459.8 L726.7,460.6 L727.8,460.7 L728.9,459.4 L729.9,458.8 L731,458.8 L732.1,459.8 L733.1,461.2 L734.2,461.7 L735.3,461.6 L736.3,462.1 L737.4,463.1 L738.5,463.8 L739.5,464.1 L740.6,465.1 L741.7,462.4 L742.7,460.3 L743.8,458.7 L744.9,459.2 L745.9,460.3 L747,460.4 L748.1,459.7 L749.1,460.6 L750.2,459.9 L751.3,460.2 L752.3,461.5 L753.4,462.9 L754.5,462.3 L755.5,460.4 L756.6,460.3 L757.7,460.1 L758.7,459.9 L759.8,460.5 L760.9,458.7 L761.9,458.4 L763,456.5 L764.1,455.6 L765.1,456.1 L766.2,455.4 L767.3,456.4 L768.3,455.6 L769.4,456.3 L770.5,455.4 L771.5,453.1 L772.6,452 L773.7,452.7 L774.7,452.6 L775.8,452.8 L776.9,453.5 L777.9,455.3 L779,455.7 L780.1,455.5 L781.1,454.4 L782.2,454.2 L783.3,453.8 L784.3,452.9 L785.4,452.7 L786.5,454.8 L787.5,458.2 L788.6,459.8 L789.7,460.6 L790.7,459.2 L791.8,459.8 L792.9,460.9 L793.9,461.2 L795,461.3 L796.1,460.9 L797.1,461.3 L798.2,462.3 L799.3,461.8 L800.3,462.2 L801.4,461.2 L802.5,462 L803.5,461.2 L804.6,461.8 L805.7,461.3 L806.7,461.6 L807.8,460.5 L808.9,458.4 L809.9,456.6 L811,455.6 L812.1,457.9 L813.1,460.7 L814.2,462.7 L815.3,463.1 L816.3,462.8 L817.4,462 L818.5,460.7 L819.5,460.4 L820.6,460.4 L821.7,459.1 L822.7,459.1 L823.8,458.2 L824.9,456.3 L825.9,455.3 L827,452.9 L828.1,452.8 L829.1,452.5 L830.2,452 L831.3,453.8 L832.3,454.5 L833.4,456.5 L834.5,458 L835.5,458.8 L836.6,459.1 L837.7,460.1 L838.7,460.5 L839.8,460.6 L840.9,458.8 L841.9,457.4 L843,456.8 L844.1,456.1 L845.1,456.2 L846.2,455.4 L847.3,455.1 L848.3,456.4 L849.4,456 L850.5,456.5 L851.5,456.2 L852.6,455.8 L853.7,456.2 L854.7,456.1 L855.8,457.1 L856.9,459.1 L857.9,459.7 L859,461.7 L860.1,461.5 L861.1,461.7 L862.2,461.1 L863.3,459.3 L864.3,456.6 L865.4,455.1 L866.5,456.1 L867.5,455.6 L868.6,456.4 L869.7,456.9 L870.7,457.6 L871.8,458.4 L872.9,459.6 L873.9,459.4 L875,461 L876.1,459.5 L877.1,457.5 L878.2,455.7 L879.3,456.1 L880.3,455.4 L881.4,455.5 L882.5,454.4 L883.5,453.9 L884.6,452 L885.7,452.9 L886.7,455.7 L887.8,456.8 L888.9,456.2 L889.9,455.4 L891,455.2 L892.1,455.7 L893.1,456.6 L894.2,458 L895.3,459 L896.3,458.4 L897.4,459.3 L898.5,461.1 L899.5,461.4 L900.6,462.3 L901.7,460 L902.7,458.8 L903.8,456.4 L904.9,457.1 L905.9,458.3 L907,458.3 L908.1,456.3 L909.1,455.8 L910.2,454.1 L911.3,455.1 L912.3,457.1 L913.4,459.3 L914.5,460.3 L915.5,461.2 L916.6,462.5 L917.7,460.9 L918.7,460.2 L919.8,458.8 L920.9,459.3 L921.9,458.8 L923,459.1 L924.1,456.8 L925.1,454.9 L926.2,452.1 L927.3,452.9 L928.3,455.4 L929.4,455.8 L930.5,456 L931.5,457.5 L932.6,458.6 L933.7,459.4 L934.7,458.8 L935.8,459.5 L936.9,458.6 L937.9,457.8 L939,457.7 L940.1,460.2 L941.1,461.7 L942.2,462.8 L943.3,460.2 L944.3,459.1 L945.4,457.1 L946.5,457.4 L947.5,458.1 L948.6,459.8 L949.7,459.5 L950.7,460.4 L951.8,460.2 L952.9,461 L953.9,461.4 L955,462.6 L956.1,462 L957.1,460.4 L958.2,460.3 L959.3,461.5 L960.3,462.5 L961.4,464.5 L962.5,464.5 L963.5,463.2 L964.6,462.8 L965.7,463.8 L966.7,463.8 L967.8,464.6 L968.9,463 L969.9,461.8 L971,460.1 L972.1,458.5 L973.1,457.8 L974.2,456.4 L975.3,458 L976.3,457.9 L977.4,459.7 L978.5,459.3 L979.5,459.2 L980.6,460 L981.7,461 L982.7,461.3 L983.8,462.8 L984.9,462.6 L985.9,461.7 L987,461.9 L988.1,461.9 L989.1,461.5 L990.2,461.8 L991.3,461.1 L992.3,460.1 L993.4,458.5 L994.5,458.5 L995.5,457 L996.6,456.3 L997.7,459.4 L998.7,461.9 L999.8,463.8 L1000.9,462.5 L1001.9,462.4 L1003,460.6 L1004.1,460.5 L1005.1,458.5 L1006.2,458.2 L1007.3,458.9 L1008.3,459.1 L1009.4,459 L1010.5,460 L1011.5,461 L1012.6,461.6 L1013.7,461.6 L1014.7,463 L1015.8,462.8 L1016.9,462.2 L1017.9,460.4 L1019,459.9 L1020.1,460.9 L1021.1,460.8 L1022.2,460.7 L1023.3,460.1 L1024.3,460.3 L1025.4,461.2 L1026.5,460.4 L1027.5,460.9 L1028.6,460.4 L1029.7,460.6 L1030.7,460.8 L1031.8,460 L1032.9,460.6 L1033.9,459.5 L1035,459.9 L1036.1,458.5 L1037.1,457.4 L1038.2,457.1 L1039.3,456.9 L1040.3,456.9 L1041.4,456.9 L1042.5,456.3 L1043.5,456.6 L1044.6,455.7 L1045.7,457.5 L1046.7,459.4 L1047.8,460.6 L1048.9,461.6 L1049.9,461.9 L1053,461.9"/><path d="M715,474.8 L716.1,473.3 L717.1,472.9 L718.2,470.7 L719.3,470.7 L720.3,469.7 L721.4,469.1 L722.5,468.5 L723.5,469.1 L724.6,468.9 L725.7,468.9 L726.7,468.8 L727.8,468.5 L728.9,469.9 L729.9,470.3 L731,471.2 L732.1,471 L733.1,469.6 L734.2,468.6 L735.3,468.4 L736.3,469.7 L737.4,469.6 L738.5,470.2 L739.5,472.6 L740.6,473.2 L741.7,473.1 L742.7,471.2 L743.8,470.9 L744.9,471.2 L745.9,472.8 L747,473.3 L748.1,472.2 L749.1,471 L750.2,470.1 L751.3,470.6 L752.3,470 L753.4,470.4 L754.5,469.2 L755.5,469.3 L756.6,468.7 L757.7,469.2 L758.7,469.2 L759.8,468.3 L760.9,467.6 L761.9,468.5 L763,468 L764.1,468.1 L765.1,469.4 L766.2,469 L767.3,467.7 L768.3,466.2 L769.4,465.7 L770.5,466.5 L771.5,467.8 L772.6,468.8 L773.7,468.2 L774.7,469 L775.8,468.4 L776.9,468.5 L777.9,469.6 L779,469.7 L780.1,469.4 L781.1,469.9 L782.2,470 L783.3,471.6 L784.3,472.3 L785.4,474.1 L786.5,473.9 L787.5,474.8 L788.6,474.3 L789.7,473.9 L790.7,473.5 L791.8,473.5 L792.9,473.1 L793.9,472.7 L795,471.8 L796.1,473.3 L797.1,473.8 L798.2,474.6 L799.3,475.4 L800.3,475.8 L801.4,475.4 L802.5,476.1 L803.5,476.1 L804.6,475.5 L805.7,476.3 L806.7,476.8 L807.8,477 L808.9,476.6 L809.9,475.9 L811,476.3 L812.1,476 L813.1,474.2 L814.2,473.3 L815.3,471.9 L816.3,471.2 L817.4,470 L818.5,470.3 L819.5,470.3 L820.6,469.7 L821.7,470.1 L822.7,472.1 L823.8,472.6 L824.9,473.9 L825.9,474.6 L827,474.5 L828.1,476.5 L829.1,477.2 L830.2,478.4 L831.3,478.9 L832.3,478.2 L833.4,478 L834.5,478.1 L835.5,478 L836.6,476.8 L837.7,476.3 L838.7,475.6 L839.8,475.9 L840.9,475.4 L841.9,474.9 L843,473.3 L844.1,473 L845.1,471.3 L846.2,470.4 L847.3,470.7 L848.3,470.6 L849.4,471.5 L850.5,472.7 L851.5,472.4 L852.6,473.3 L853.7,471.7 L854.7,470.7 L855.8,470.4 L856.9,470.5 L857.9,469.1 L859,468.7 L860.1,469.3 L861.1,468.2 L862.2,469 L863.3,469.4 L864.3,470.3 L865.4,470.3 L866.5,471.3 L867.5,470.8 L868.6,471.8 L869.7,471.7 L870.7,472.1 L871.8,471.4 L872.9,473 L873.9,472.6 L875,474.2 L876.1,474.6 L877.1,475.3 L878.2,474.9 L879.3,473.5 L880.3,472.2 L881.4,470.2 L882.5,471.6 L883.5,473.7 L884.6,475.4 L885.7,473.7 L886.7,474.1 L887.8,472.7 L888.9,471.1 L889.9,468.9 L891,467.7 L892.1,467.6 L893.1,465.6 L894.2,465.3 L895.3,464.8 L896.3,466.2 L897.4,466.1 L898.5,465.7 L899.5,466.8 L900.6,466.8 L901.7,466.9 L902.7,467.4 L903.8,468.9 L904.9,469.6 L905.9,469.8 L907,469.9 L908.1,470.8 L909.1,471.5 L910.2,471.8 L911.3,471 L912.3,468.9 L913.4,468.2 L914.5,470 L915.5,472.3 L916.6,474.1 L917.7,475.6 L918.7,476.1 L919.8,476.8 L920.9,475.7 L921.9,475.2 L923,473.7 L924.1,474 L925.1,472.9 L926.2,473 L927.3,473.6 L928.3,474.3 L929.4,476.2 L930.5,476.2 L931.5,474.6 L932.6,474.5 L933.7,475 L934.7,475.3 L935.8,475.7 L936.9,474 L937.9,472.5 L939,469.8 L940.1,471 L941.1,471.1 L942.2,472.6 L943.3,473.3 L944.3,473.8 L945.4,475.1 L946.5,474.3 L947.5,474.2 L948.6,473.2 L949.7,473.8 L950.7,474.1 L951.8,474.2 L952.9,474.4 L953.9,474.2 L955,473 L956.1,471.6 L957.1,471.4 L958.2,470.1 L959.3,470.9 L960.3,470.4 L961.4,471.6 L962.5,473.3 L963.5,473.2 L964.6,474.2 L965.7,472.6 L966.7,470.1 L967.8,468.7 L968.9,469.1 L969.9,469.2 L971,470.4 L972.1,471.4 L973.1,470.2 L974.2,471.2 L975.3,470.2 L976.3,470.9 L977.4,470.2 L978.5,471 L979.5,471.3 L980.6,472.3 L981.7,472.1 L982.7,470.8 L983.8,469.5 L984.9,470.4 L985.9,471.8 L987,472.4 L988.1,472.7 L989.1,472.1 L990.2,471.1 L991.3,471.6 L992.3,473 L993.4,473.3 L994.5,473.5 L995.5,474.4 L996.6,475.1 L997.7,475.6 L998.7,474.9 L999.8,474.2 L1000.9,472.6 L1001.9,471.5 L1003,470.1 L1004.1,469.9 L1005.1,470.3 L1006.2,469.9 L1007.3,469.2 L1008.3,468.3 L1009.4,467.6 L1010.5,468.7 L1011.5,470.6 L1012.6,471.2 L1013.7,472 L1014.7,471.3 L1015.8,472 L1016.9,471.4 L1017.9,471.9 L1019,470.9 L1020.1,472 L1021.1,472.5 L1022.2,473 L1023.3,473.8 L1024.3,473.7 L1025.4,474.8 L1026.5,474.1 L1027.5,473.5 L1028.6,472.3 L1029.7,472.3 L1030.7,472.4 L1031.8,472.7 L1032.9,472.7 L1033.9,473.1 L1035,473 L1036.1,473.9 L1037.1,476.2 L1038.2,477 L1039.3,475.4 L1040.3,475.6 L1041.4,474.2 L1042.5,474.7 L1043.5,474.6 L1044.6,475.4 L1045.7,474 L1046.7,473 L1047.8,472.3 L1048.9,472.6 L1049.9,474.7 L1053,474.7"/><path d="M715,484.5 L716.1,484.1 L717.1,483.2 L718.2,483.1 L719.3,483.6 L720.3,482.8 L721.4,482.9 L722.5,482.6 L723.5,483.1 L724.6,482.1 L725.7,483 L726.7,484 L727.8,484.7 L728.9,484.4 L729.9,485.8 L731,485.7 L732.1,486.3 L733.1,486.7 L734.2,488 L735.3,487.7 L736.3,487.8 L737.4,487.7 L738.5,487.5 L739.5,486.6 L740.6,487.1 L741.7,485.9 L742.7,485.1 L743.8,484.4 L744.9,482.5 L745.9,482.1 L747,480.5 L748.1,480.3 L749.1,481.5 L750.2,481.5 L751.3,484 L752.3,486.6 L753.4,488.2 L754.5,487.5 L755.5,486.3 L756.6,484.9 L757.7,485.6 L758.7,486.5 L759.8,486.3 L760.9,485.8 L761.9,484.9 L763,485.2 L764.1,485.4 L765.1,484.7 L766.2,484.1 L767.3,483.4 L768.3,483.4 L769.4,482.9 L770.5,484.3 L771.5,485 L772.6,485.1 L773.7,484.9 L774.7,482.9 L775.8,482.2 L776.9,482.3 L777.9,482.2 L779,482 L780.1,482.5 L781.1,481.5 L782.2,481.5 L783.3,483.2 L784.3,484.1 L785.4,484.6 L786.5,483.7 L787.5,481.4 L788.6,480.8 L789.7,481 L790.7,481.3 L791.8,480.5 L792.9,481.2 L793.9,482.8 L795,483.1 L796.1,483.7 L797.1,484.2 L798.2,484 L799.3,483.3 L800.3,482.1 L801.4,481.4 L802.5,480.8 L803.5,479.5 L804.6,477.6 L805.7,478.9 L806.7,479.4 L807.8,480.1 L808.9,481.5 L809.9,482.8 L811,483.3 L812.1,484.4 L813.1,483.6 L814.2,484.6 L815.3,483.7 L816.3,484.4 L817.4,484.1 L818.5,484.6 L819.5,486.1 L820.6,486.3 L821.7,486.6 L822.7,487.6 L823.8,487.3 L824.9,487 L825.9,487.7 L827,488.5 L828.1,487.2 L829.1,487.7 L830.2,486.1 L831.3,484.8 L832.3,484 L833.4,484.1 L834.5,484 L835.5,484 L836.6,483.8 L837.7,484.6 L838.7,486 L839.8,486.8 L840.9,486.9 L841.9,488.9 L843,488.9 L844.1,486.9 L845.1,485.1 L846.2,484.2 L847.3,484 L848.3,483.9 L849.4,484.3 L850.5,484.3 L851.5,484.2 L852.6,485.2 L853.7,485.1 L854.7,485.7 L855.8,484.7 L856.9,485.5 L857.9,484.2 L859,484.7 L860.1,484.5 L861.1,483.6 L862.2,482 L863.3,483.3 L864.3,484.2 L865.4,486.1 L866.5,485.6 L867.5,484.9 L868.6,483.8 L869.7,483.1 L870.7,483.7 L871.8,483.6 L872.9,484.6 L873.9,484.2 L875,485 L876.1,484.1 L877.1,483.1 L878.2,482.3 L879.3,484.3 L880.3,484.9 L881.4,486.6 L882.5,485.8 L883.5,485.6 L884.6,484.4 L885.7,484.2 L886.7,483.7 L887.8,484.1 L888.9,483.7 L889.9,482.7 L891,481.4 L892.1,482 L893.1,481.8 L894.2,482.2 L895.3,480.9 L896.3,479.8 L897.4,478.7 L898.5,479.7 L899.5,481.4 L900.6,481.7 L901.7,483 L902.7,483.1 L903.8,484.6 L904.9,484.9 L905.9,486.2 L907,487.3 L908.1,487.4 L909.1,487.1 L910.2,486.1 L911.3,485.7 L912.3,486.2 L913.4,485.3 L914.5,484.3 L915.5,484.3 L916.6,483.6 L917.7,484.3 L918.7,485.7 L919.8,486.4 L920.9,486 L921.9,485.2 L923,485.7 L924.1,484.4 L925.1,484.8 L926.2,483.5 L927.3,483.2 L928.3,482.6 L929.4,483.2 L930.5,483.2 L931.5,482 L932.6,481.4 L933.7,481.2 L934.7,480.4 L935.8,479 L936.9,479.8 L937.9,480.8 L939,481.4 L940.1,481.4 L941.1,481.8 L942.2,482.9 L943.3,485 L944.3,486.4 L945.4,487.5 L946.5,487.2 L947.5,486.6 L948.6,485.9 L949.7,486.4 L950.7,487.3 L951.8,488 L952.9,487.4 L953.9,485.8 L955,485.8 L956.1,486 L957.1,485.2 L958.2,485.3 L959.3,485.4 L960.3,485.1 L961.4,484.6 L962.5,483.4 L963.5,482.2 L964.6,481.1 L965.7,479.4 L966.7,479 L967.8,477.9 L968.9,478.3 L969.9,480.3 L971,480.7 L972.1,480.5 L973.1,481 L974.2,481.7 L975.3,480.8 L976.3,479.4 L977.4,478.3 L978.5,479.4 L979.5,481.8 L980.6,482.9 L981.7,480.1 L982.7,478.5 L983.8,476 L984.9,477.8 L985.9,478.2 L987,480.2 L988.1,479.9 L989.1,477.8 L990.2,477.5 L991.3,477.3 L992.3,477.7 L993.4,477.9 L994.5,478.7 L995.5,479.3 L996.6,478.9 L997.7,479.5 L998.7,479.7 L999.8,481 L1000.9,481.4 L1001.9,481.3 L1003,481.9 L1004.1,481.6 L1005.1,481.5 L1006.2,481.5 L1007.3,483 L1008.3,483.2 L1009.4,484.7 L1010.5,484.7 L1011.5,485.7 L1012.6,485.7 L1013.7,484.6 L1014.7,483.3 L1015.8,482.1 L1016.9,482 L1017.9,481 L1019,480 L1020.1,480.8 L1021.1,482.3 L1022.2,482.4 L1023.3,481.5 L1024.3,480.8 L1025.4,481 L1026.5,482 L1027.5,482.6 L1028.6,484 L1029.7,483.3 L1030.7,483 L1031.8,483.6 L1032.9,484.5 L1033.9,485.2 L1035,485.8 L1036.1,483.7 L1037.1,482.7 L1038.2,481.6 L1039.3,481.8 L1040.3,481.2 L1041.4,481.4 L1042.5,481.4 L1043.5,482.3 L1044.6,483.4 L1045.7,482.8 L1046.7,481.3 L1047.8,479.9 L1048.9,480.9 L1049.9,480.5 L1053,480.6"/><path d="M715,496.4 L716.1,497.6 L717.1,498 L718.2,498.6 L719.3,497.9 L720.3,498.4 L721.4,497.5 L722.5,497.1 L723.5,496.4 L724.6,496.9 L725.7,497.6 L726.7,497.8 L727.8,499.1 L728.9,497.9 L729.9,497.1 L731,496.3 L732.1,495.9 L733.1,494.2 L734.2,493.5 L735.3,493 L736.3,494.2 L737.4,494.2 L738.5,495 L739.5,496.3 L740.6,497.2 L741.7,496.1 L742.7,494.6 L743.8,493.2 L744.9,494 L745.9,495 L747,495.9 L748.1,497.4 L749.1,497.7 L750.2,499 L751.3,498 L752.3,496.3 L753.4,496 L754.5,495.5 L755.5,493.4 L756.6,493 L757.7,493.2 L758.7,492.3 L759.8,492.3 L760.9,492.4 L761.9,494 L763,494 L764.1,494.9 L765.1,495.3 L766.2,496.2 L767.3,495 L768.3,493.2 L769.4,492.8 L770.5,492.9 L771.5,494.5 L772.6,494.3 L773.7,494.4 L774.7,493.9 L775.8,493.4 L776.9,494.5 L777.9,494.3 L779,494.8 L780.1,496.4 L781.1,496.5 L782.2,497.5 L783.3,497.3 L784.3,496.1 L785.4,496.6 L786.5,497.5 L787.5,498 L788.6,498 L789.7,498.1 L790.7,499.2 L791.8,499.3 L792.9,499.7 L793.9,499.3 L795,499.9 L796.1,500.7 L797.1,502.2 L798.2,502.4 L799.3,503.6 L800.3,502.7 L801.4,503.8 L802.5,503.4 L803.5,503.6 L804.6,503.8 L805.7,501.7 L806.7,497.9 L807.8,496 L808.9,496.5 L809.9,496.4 L811,497.3 L812.1,497.2 L813.1,496.7 L814.2,496.1 L815.3,494.9 L816.3,495.7 L817.4,494.5 L818.5,496 L819.5,497.5 L820.6,498 L821.7,497.9 L822.7,497.7 L823.8,497.6 L824.9,498.8 L825.9,499.5 L827,499.6 L828.1,499.2 L829.1,500.6 L830.2,500.7 L831.3,501.1 L832.3,499.9 L833.4,500.4 L834.5,500.5 L835.5,499.9 L836.6,499.4 L837.7,499.1 L838.7,500.2 L839.8,499.5 L840.9,500.1 L841.9,499.3 L843,499.1 L844.1,501 L845.1,501.7 L846.2,504 L847.3,504.1 L848.3,503.6 L849.4,504 L850.5,502.7 L851.5,502.6 L852.6,501.1 L853.7,501.4 L854.7,500.8 L855.8,501.9 L856.9,500.9 L857.9,499.5 L859,499.2 L860.1,498.8 L861.1,500 L862.2,499.8 L863.3,498.8 L864.3,499 L865.4,498.3 L866.5,496.8 L867.5,495.4 L868.6,493.8 L869.7,493.1 L870.7,492.7 L871.8,491.8 L872.9,491.6 L873.9,492.6 L875,493 L876.1,492.8 L877.1,494.2 L878.2,494.2 L879.3,495 L880.3,496.9 L881.4,497.8 L882.5,498.5 L883.5,498.8 L884.6,500 L885.7,498.2 L886.7,496.1 L887.8,495.2 L888.9,495.2 L889.9,495.3 L891,495.8 L892.1,495.3 L893.1,496.4 L894.2,495.5 L895.3,497.3 L896.3,497.8 L897.4,499.3 L898.5,498.5 L899.5,498.6 L900.6,499.1 L901.7,498.7 L902.7,498 L903.8,496.4 L904.9,496.8 L905.9,497.9 L907,499.5 L908.1,501.2 L909.1,502 L910.2,503.2 L911.3,501.3 L912.3,499.3 L913.4,497.8 L914.5,499.3 L915.5,500 L916.6,500.1 L917.7,500.3 L918.7,499.9 L919.8,499.7 L920.9,499.1 L921.9,497.8 L923,497.7 L924.1,496.9 L925.1,495.6 L926.2,493.4 L927.3,495.1 L928.3,496.5 L929.4,498.5 L930.5,497.3 L931.5,497.4 L932.6,496 L933.7,495.2 L934.7,493.8 L935.8,493 L936.9,491.8 L937.9,492.5 L939,491.7 L940.1,491.5 L941.1,491.3 L942.2,491.1 L943.3,492.8 L944.3,493.2 L945.4,494.1 L946.5,494.6 L947.5,495.9 L948.6,497.7 L949.7,495.7 L950.7,495 L951.8,493.6 L952.9,493.2 L953.9,493.6 L955,493.7 L956.1,493.4 L957.1,495.3 L958.2,495.1 L959.3,495.6 L960.3,494.2 L961.4,494.7 L962.5,494.2 L963.5,495.2 L964.6,495.4 L965.7,495.3 L966.7,494 L967.8,493 L968.9,494 L969.9,494.3 L971,495.8 L972.1,495.3 L973.1,495.9 L974.2,495.7 L975.3,495.9 L976.3,495.3 L977.4,494.4 L978.5,496 L979.5,497.6 L980.6,498 L981.7,497.3 L982.7,497.3 L983.8,496 L984.9,495.9 L985.9,494.9 L987,494.7 L988.1,494 L989.1,493.8 L990.2,492.5 L991.3,493.3 L992.3,495.8 L993.4,496.7 L994.5,496.6 L995.5,496.6 L996.6,496.5 L997.7,497.6 L998.7,498.4 L999.8,498.6 L1000.9,497.9 L1001.9,497.3 L1003,496.1 L1004.1,497.3 L1005.1,499.3 L1006.2,500.5 L1007.3,501.6 L1008.3,502.2 L1009.4,503 L1010.5,502.2 L1011.5,503.2 L1012.6,502.8 L1013.7,501.5 L1014.7,501.1 L1015.8,501.1 L1016.9,500 L1017.9,498.8 L1019,498.2 L1020.1,497.1 L1021.1,497.1 L1022.2,496.7 L1023.3,497.4 L1024.3,498 L1025.4,499 L1026.5,499.7 L1027.5,499.3 L1028.6,500.2 L1029.7,500.4 L1030.7,502.4 L1031.8,502.9 L1032.9,501.4 L1033.9,501.7 L1035,500.2 L1036.1,499.6 L1037.1,498.9 L1038.2,498.4 L1039.3,498.6 L1040.3,496.8 L1041.4,496.7 L1042.5,497.6 L1043.5,499 L1044.6,500.4 L1045.7,499.5 L1046.7,499.2 L1047.8,498.6 L1048.9,498.5 L1049.9,499.8 L1053,499.6"/><path d="M715,507.2 L716.1,507.3 L717.1,507.6 L718.2,507.8 L719.3,508.3 L720.3,509.3 L721.4,509.1 L722.5,509.1 L723.5,508.2 L724.6,507.7 L725.7,507.4 L726.7,508.5 L727.8,508.8 L728.9,508.4 L729.9,509 L731,509.4 L732.1,508.4 L733.1,509 L734.2,508.3 L735.3,506.5 L736.3,504.6 L737.4,503.6 L738.5,503.4 L739.5,503.9 L740.6,504.5 L741.7,505.5 L742.7,506 L743.8,506.6 L744.9,505.9 L745.9,504.7 L747,504.6 L748.1,505.2 L749.1,506.9 L750.2,507.4 L751.3,507.6 L752.3,509.1 L753.4,509.4 L754.5,509.1 L755.5,507.6 L756.6,506.4 L757.7,506.4 L758.7,505.8 L759.8,506.4 L760.9,505.3 L761.9,503.7 L763,503.2 L764.1,505.1 L765.1,506.9 L766.2,507.8 L767.3,508.7 L768.3,508.6 L769.4,509.3 L770.5,508.3 L771.5,508.4 L772.6,508.1 L773.7,506.2 L774.7,505.2 L775.8,503.6 L776.9,503.3 L777.9,504.4 L779,504.8 L780.1,505.6 L781.1,506.1 L782.2,506.9 L783.3,507.4 L784.3,507.7 L785.4,507.6 L786.5,508.3 L787.5,508.3 L788.6,509.5 L789.7,507.5 L790.7,507.5 L791.8,505.8 L792.9,506.6 L793.9,508.3 L795,510 L796.1,511.3 L797.1,511.5 L798.2,511.9 L799.3,510.6 L800.3,509.8 L801.4,509.2 L802.5,508.7 L803.5,509.7 L804.6,509.8 L805.7,508.8 L806.7,509 L807.8,508.1 L808.9,508.1 L809.9,506.2 L811,506 L812.1,506 L813.1,507.3 L814.2,507.3 L815.3,507.4 L816.3,507.6 L817.4,507 L818.5,506.5 L819.5,505 L820.6,504.7 L821.7,504.9 L822.7,506.9 L823.8,507.6 L824.9,506.5 L825.9,506.7 L827,505.6 L828.1,506.2 L829.1,507.1 L830.2,507.7 L831.3,507.4 L832.3,507.4 L833.4,507.8 L834.5,508.1 L835.5,508.3 L836.6,508.8 L837.7,510.2 L838.7,510.4 L839.8,512.3 L840.9,511.8 L841.9,512.7 L843,511.8 L844.1,511.6 L845.1,510.5 L846.2,510.5 L847.3,511.4 L848.3,511.7 L849.4,512.7 L850.5,511.2 L851.5,510.3 L852.6,509.2 L853.7,509.9 L854.7,509.8 L855.8,509.9 L856.9,510.7 L857.9,511.1 L859,510.7 L860.1,510.5 L861.1,510 L862.2,510 L863.3,511.1 L864.3,512.4 L865.4,513.5 L866.5,513 L867.5,513.4 L868.6,513.2 L869.7,513.5 L870.7,511.9 L871.8,511.9 L872.9,510.7 L873.9,509.1 L875,506.7 L876.1,506.7 L877.1,506.7 L878.2,507.2 L879.3,507 L880.3,504.9 L881.4,504.3 L882.5,503.8 L883.5,503.1 L884.6,503.3 L885.7,504.3 L886.7,504.7 L887.8,504.3 L888.9,504.6 L889.9,504.9 L891,506.3 L892.1,505.6 L893.1,505.5 L894.2,505.4 L895.3,506.6 L896.3,506.4 L897.4,507.4 L898.5,507.6 L899.5,508.8 L900.6,510.1 L901.7,509.9 L902.7,508.9 L903.8,508.5 L904.9,508.6 L905.9,508.8 L907,507.8 L908.1,509.6 L909.1,512.2 L910.2,513.3 L911.3,511.4 L912.3,511 L913.4,509.3 L914.5,509.3 L915.5,508.6 L916.6,507.3 L917.7,507 L918.7,505.8 L919.8,504.3 L920.9,502.4 L921.9,501.9 L923,500 L924.1,500.2 L925.1,500 L926.2,500.9 L927.3,500.2 L928.3,501.6 L929.4,500.9 L930.5,501 L931.5,501.3 L932.6,502 L933.7,502.3 L934.7,504.1 L935.8,504.1 L936.9,504.8 L937.9,504.9 L939,504.7 L940.1,504.3 L941.1,505.3 L942.2,505.1 L943.3,505.5 L944.3,506.2 L945.4,507.2 L946.5,507.2 L947.5,508.3 L948.6,508.9 L949.7,509.1 L950.7,508.9 L951.8,509.7 L952.9,508.9 L953.9,509.6 L955,508.9 L956.1,508.2 L957.1,507.7 L958.2,507.6 L959.3,509 L960.3,509.5 L961.4,509.3 L962.5,509.8 L963.5,508.7 L964.6,508.5 L965.7,507.6 L966.7,506.8 L967.8,506.4 L968.9,506.2 L969.9,507.2 L971,508.2 L972.1,508.7 L973.1,511.3 L974.2,512 L975.3,512.3 L976.3,512.9 L977.4,512.7 L978.5,513.1 L979.5,513.5 L980.6,512.9 L981.7,512.3 L982.7,510.5 L983.8,509.2 L984.9,508.8 L985.9,510.1 L987,509.6 L988.1,509.9 L989.1,508 L990.2,508.3 L991.3,508.6 L992.3,510 L993.4,510.2 L994.5,510 L995.5,508.1 L996.6,507.5 L997.7,508.4 L998.7,508.2 L999.8,508.7 L1000.9,508.3 L1001.9,507.5 L1003,507.7 L1004.1,508.9 L1005.1,509.6 L1006.2,510.2 L1007.3,508.2 L1008.3,507.9 L1009.4,506.3 L1010.5,506.2 L1011.5,505.7 L1012.6,505.4 L1013.7,506.5 L1014.7,506.7 L1015.8,508.2 L1016.9,508 L1017.9,509.6 L1019,509.3 L1020.1,510.3 L1021.1,510.9 L1022.2,512.1 L1023.3,511.9 L1024.3,511.4 L1025.4,510.4 L1026.5,509.2 L1027.5,509 L1028.6,508.3 L1029.7,508.5 L1030.7,509.7 L1031.8,511.2 L1032.9,510.4 L1033.9,510.4 L1035,510.5 L1036.1,511 L1037.1,511.4 L1038.2,511.4 L1039.3,510.7 L1040.3,510.3 L1041.4,510.4 L1042.5,511.1 L1043.5,513.3 L1044.6,514.2 L1045.7,514.6 L1046.7,514 L1047.8,514 L1048.9,511.8 L1049.9,509.4 L1053,507.5"/><path d="M715,519.6 L716.1,519.3 L717.1,517.5 L718.2,516.7 L719.3,517.4 L720.3,517.6 L721.4,518.7 L722.5,518.1 L723.5,517.1 L724.6,516.5 L725.7,518.2 L726.7,519.1 L727.8,520.4 L728.9,521 L729.9,522.1 L731,522.3 L732.1,522 L733.1,522.8 L734.2,523.3 L735.3,522.2 L736.3,521.5 L737.4,521.3 L738.5,521.8 L739.5,520.9 L740.6,521.4 L741.7,520.7 L742.7,520.5 L743.8,520.5 L744.9,520 L745.9,519.4 L747,519 L748.1,519.6 L749.1,519 L750.2,520.1 L751.3,521.7 L752.3,521.1 L753.4,522.6 L754.5,523.2 L755.5,522.3 L756.6,522.1 L757.7,520.1 L758.7,518.3 L759.8,517 L760.9,517.9 L761.9,518.1 L763,518.4 L764.1,518.7 L765.1,519.4 L766.2,520.6 L767.3,520.4 L768.3,520 L769.4,519.2 L770.5,518.2 L771.5,518.4 L772.6,517.8 L773.7,516.8 L774.7,517.1 L775.8,516.1 L776.9,516.1 L777.9,517.2 L779,518.2 L780.1,517.4 L781.1,516.7 L782.2,516.4 L783.3,515.7 L784.3,516.1 L785.4,515.5 L786.5,514.7 L787.5,514.8 L788.6,514.6 L789.7,516 L790.7,516.7 L791.8,518.6 L792.9,517.9 L793.9,519 L795,518.1 L796.1,518.7 L797.1,521 L798.2,521.9 L799.3,522.3 L800.3,522 L801.4,521.9 L802.5,521.5 L803.5,521.4 L804.6,520.9 L805.7,521.4 L806.7,521.1 L807.8,520.4 L808.9,519.9 L809.9,520.4 L811,519.2 L812.1,519.6 L813.1,518.3 L814.2,518.7 L815.3,518.2 L816.3,516.9 L817.4,516.1 L818.5,516.6 L819.5,516.1 L820.6,516.2 L821.7,515 L822.7,515.6 L823.8,514.5 L824.9,515.6 L825.9,515.4 L827,516.4 L828.1,516.9 L829.1,516.3 L830.2,515.9 L831.3,517.2 L832.3,517 L833.4,517.5 L834.5,519.1 L835.5,519.5 L836.6,521.3 L837.7,519.8 L838.7,519.2 L839.8,517.8 L840.9,516.8 L841.9,515.6 L843,514.7 L844.1,516.1 L845.1,517.5 L846.2,519.3 L847.3,519.4 L848.3,519.1 L849.4,518.7 L850.5,518.3 L851.5,518 L852.6,518.8 L853.7,519.5 L854.7,520.9 L855.8,522.8 L856.9,521.1 L857.9,521 L859,520.2 L860.1,519.8 L861.1,519.3 L862.2,519.5 L863.3,520.4 L864.3,521.8 L865.4,522 L866.5,521.5 L867.5,519.9 L868.6,518.3 L869.7,518.9 L870.7,518.9 L871.8,520.3 L872.9,519.8 L873.9,519.5 L875,518.1 L876.1,518 L877.1,517.6 L878.2,518 L879.3,518.9 L880.3,519.4 L881.4,520.2 L882.5,521.7 L883.5,522.7 L884.6,524.1 L885.7,523.3 L886.7,523.6 L887.8,523.6 L888.9,523.5 L889.9,522.9 L891,521.3 L892.1,522.3 L893.1,523.2 L894.2,523.2 L895.3,523.6 L896.3,523.2 L897.4,524.1 L898.5,522.8 L899.5,523 L900.6,521.9 L901.7,521.6 L902.7,520 L903.8,519.8 L904.9,519.3 L905.9,519.3 L907,518.8 L908.1,520.1 L909.1,519.7 L910.2,520.2 L911.3,520 L912.3,520.9 L913.4,521.6 L914.5,521.9 L915.5,521.3 L916.6,521.6 L917.7,522.5 L918.7,521.6 L919.8,522.1 L920.9,521.5 L921.9,521.2 L923,521.2 L924.1,520.3 L925.1,519.8 L926.2,519 L927.3,518.4 L928.3,517.8 L929.4,517.1 L930.5,516.7 L931.5,515.3 L932.6,515.1 L933.7,514.8 L934.7,515.8 L935.8,515.5 L936.9,516.3 L937.9,516.2 L939,517.5 L940.1,516.9 L941.1,515 L942.2,515 L943.3,515 L944.3,516.2 L945.4,515.9 L946.5,515.9 L947.5,515.1 L948.6,515.7 L949.7,517.6 L950.7,519.7 L951.8,520.9 L952.9,520.9 L953.9,520 L955,519.7 L956.1,519.8 L957.1,519.1 L958.2,518 L959.3,517.2 L960.3,517.7 L961.4,517.2 L962.5,519.8 L963.5,521 L964.6,522.9 L965.7,522.8 L966.7,521.5 L967.8,521.8 L968.9,522.6 L969.9,521.9 L971,523.1 L972.1,524.2 L973.1,525 L974.2,526.3 L975.3,524.2 L976.3,522.9 L977.4,522 L978.5,521.9 L979.5,520.5 L980.6,520.7 L981.7,520.5 L982.7,521.1 L983.8,520.8 L984.9,521 L985.9,521.7 L987,521 L988.1,520.5 L989.1,520.4 L990.2,520.7 L991.3,520.4 L992.3,519.7 L993.4,519.4 L994.5,519.3 L995.5,518.7 L996.6,518.8 L997.7,520 L998.7,519.9 L999.8,521.1 L1000.9,522.2 L1001.9,523.9 L1003,524.4 L1004.1,524.9 L1005.1,524.3 L1006.2,524.8 L1007.3,525.1 L1008.3,524.4 L1009.4,524.3 L1010.5,524.4 L1011.5,523.8 L1012.6,523.7 L1013.7,522 L1014.7,520.2 L1015.8,517.8 L1016.9,517.7 L1017.9,519 L1019,519 L1020.1,518.5 L1021.1,519.7 L1022.2,519.1 L1023.3,520.3 L1024.3,521.4 L1025.4,522 L1026.5,523.4 L1027.5,524.2 L1028.6,524.2 L1029.7,525.1 L1030.7,524.2 L1031.8,525.2 L1032.9,524.6 L1033.9,525.6 L1035,525.6 L1036.1,523 L1037.1,521.9 L1038.2,519.1 L1039.3,521.1 L1040.3,522.7 L1041.4,523.5 L1042.5,523.4 L1043.5,522.3 L1044.6,522.8 L1045.7,523.6 L1046.7,522.2 L1047.8,522.9 L1048.9,522.2 L1049.9,521.7 L1053,521"/><path d="M715,534.7 L716.1,533.3 L717.1,532.1 L718.2,531 L719.3,534.2 L720.3,535.4 L721.4,538.5 L722.5,537.8 L723.5,538.2 L724.6,538.5 L725.7,536.7 L726.7,537 L727.8,535.3 L728.9,535.9 L729.9,537 L731,537.1 L732.1,535.4 L733.1,535 L734.2,534.1 L735.3,534.7 L736.3,533.6 L737.4,534.6 L738.5,535.3 L739.5,536 L740.6,535.6 L741.7,536 L742.7,534.7 L743.8,535.2 L744.9,534.1 L745.9,533 L747,531.9 L748.1,532.9 L749.1,534.4 L750.2,534.9 L751.3,532.6 L752.3,530.4 L753.4,528.9 L754.5,530.5 L755.5,530.7 L756.6,531.5 L757.7,530.7 L758.7,529.4 L759.8,528.3 L760.9,527.3 L761.9,525.4 L763,524.9 L764.1,524.1 L765.1,523.9 L766.2,524.3 L767.3,524.2 L768.3,523.5 L769.4,524.2 L770.5,526.4 L771.5,526.9 L772.6,529.1 L773.7,529.4 L774.7,528.9 L775.8,528.4 L776.9,527.3 L777.9,526.7 L779,526.4 L780.1,527.4 L781.1,528.7 L782.2,528.6 L783.3,528 L784.3,527.3 L785.4,527.3 L786.5,528 L787.5,530.3 L788.6,531.1 L789.7,529.1 L790.7,527.5 L791.8,526.8 L792.9,527.5 L793.9,528 L795,528 L796.1,527.7 L797.1,528.3 L798.2,528.4 L799.3,528.5 L800.3,530.1 L801.4,531.2 L802.5,530.8 L803.5,532.1 L804.6,532.3 L805.7,532.6 L806.7,533.2 L807.8,533.5 L808.9,534.1 L809.9,533.3 L811,533.4 L812.1,534.3 L813.1,535.3 L814.2,537.3 L815.3,537.7 L816.3,538.3 L817.4,538.5 L818.5,537.7 L819.5,536 L820.6,534.9 L821.7,534.5 L822.7,534.6 L823.8,534.3 L824.9,534.6 L825.9,533.8 L827,534 L828.1,534.5 L829.1,536.3 L830.2,536.5 L831.3,535.3 L832.3,534.5 L833.4,534.3 L834.5,536 L835.5,537.9 L836.6,539.6 L837.7,538.5 L838.7,538.7 L839.8,537.5 L840.9,537.5 L841.9,538.7 L843,539.3 L844.1,540 L845.1,538.7 L846.2,539.2 L847.3,537.8 L848.3,538.4 L849.4,537.3 L850.5,536.2 L851.5,533.8 L852.6,533 L853.7,532.5 L854.7,532.7 L855.8,533.6 L856.9,532.5 L857.9,530.7 L859,530.2 L860.1,530.4 L861.1,529.2 L862.2,529.3 L863.3,528.9 L864.3,528.6 L865.4,527.7 L866.5,527.7 L867.5,527.7 L868.6,528.9 L869.7,529.3 L870.7,530.9 L871.8,532.2 L872.9,532.6 L873.9,532 L875,531.8 L876.1,532.9 L877.1,534.4 L878.2,535.7 L879.3,535.6 L880.3,534.5 L881.4,534.6 L882.5,536 L883.5,536.9 L884.6,537.1 L885.7,536.9 L886.7,535.9 L887.8,536.1 L888.9,536.1 L889.9,534.7 L891,534.7 L892.1,534.7 L893.1,534.8 L894.2,534.3 L895.3,533.6 L896.3,533 L897.4,533.3 L898.5,533.7 L899.5,533.8 L900.6,535 L901.7,535.7 L902.7,535.5 L903.8,535.1 L904.9,533.9 L905.9,532.2 L907,531.3 L908.1,531.5 L909.1,532.8 L910.2,532.7 L911.3,533.3 L912.3,533.5 L913.4,532.9 L914.5,532.7 L915.5,533.4 L916.6,534.1 L917.7,534.5 L918.7,534.8 L919.8,534.4 L920.9,533.3 L921.9,533.4 L923,532.6 L924.1,534.1 L925.1,534.3 L926.2,535.2 L927.3,536 L928.3,534.9 L929.4,535.7 L930.5,535.2 L931.5,534.7 L932.6,533.2 L933.7,533.1 L934.7,533 L935.8,531.7 L936.9,530.8 L937.9,529.4 L939,528.3 L940.1,530.2 L941.1,531.2 L942.2,532.8 L943.3,532.4 L944.3,533.2 L945.4,533.4 L946.5,533 L947.5,533.3 L948.6,533 L949.7,533.6 L950.7,533.5 L951.8,533.2 L952.9,533.1 L953.9,532.1 L955,531.9 L956.1,532.6 L957.1,531.3 L958.2,531.9 L959.3,532.8 L960.3,533.6 L961.4,535.5 L962.5,534.6 L963.5,534.2 L964.6,533.6 L965.7,534.3 L966.7,533.9 L967.8,533.5 L968.9,533.3 L969.9,533.6 L971,534 L972.1,534.1 L973.1,535 L974.2,534.5 L975.3,534.1 L976.3,533.4 L977.4,533.5 L978.5,533.2 L979.5,533.5 L980.6,533.1 L981.7,532.8 L982.7,530.8 L983.8,530.1 L984.9,529.2 L985.9,526.8 L987,525.8 L988.1,527.4 L989.1,528.1 L990.2,529.6 L991.3,530.4 L992.3,531.5 L993.4,531.7 L994.5,531.3 L995.5,531.6 L996.6,532.6 L997.7,531.9 L998.7,532.5 L999.8,532.1 L1000.9,532.6 L1001.9,533.3 L1003,532.8 L1004.1,533.6 L1005.1,534.6 L1006.2,534.9 L1007.3,535.7 L1008.3,534.4 L1009.4,535.1 L1010.5,534.2 L1011.5,533.4 L1012.6,532.5 L1013.7,533.1 L1014.7,532.8 L1015.8,533.4 L1016.9,533.6 L1017.9,532.5 L1019,532.2 L1020.1,530.9 L1021.1,530.2 L1022.2,530.3 L1023.3,531.4 L1024.3,532.2 L1025.4,534.1 L1026.5,534.6 L1027.5,535.1 L1028.6,534.7 L1029.7,533.3 L1030.7,533.6 L1031.8,532.8 L1032.9,533.8 L1033.9,533 L1035,533.5 L1036.1,533.9 L1037.1,535.1 L1038.2,536.1 L1039.3,538.2 L1040.3,537.9 L1041.4,540 L1042.5,538 L1043.5,537.2 L1044.6,536.3 L1045.7,536.2 L1046.7,537.2 L1047.8,538 L1048.9,536.7 L1049.9,535.6 L1053,533.3"/><path d="M715,547.6 L716.1,546.6 L717.1,547.4 L718.2,546.8 L719.3,547.3 L720.3,547 L721.4,546.6 L722.5,546.4 L723.5,545 L724.6,544.9 L725.7,544.6 L726.7,544.9 L727.8,544.3 L728.9,546.3 L729.9,547 L731,549.5 L732.1,547.2 L733.1,545.7 L734.2,544.2 L735.3,544.4 L736.3,545.4 L737.4,546.4 L738.5,545.6 L739.5,546.5 L740.6,545.7 L741.7,545.6 L742.7,546.9 L743.8,546.4 L744.9,546.1 L745.9,544.4 L747,543.8 L748.1,543.7 L749.1,545.3 L750.2,545.1 L751.3,544.9 L752.3,545.5 L753.4,545.2 L754.5,545.7 L755.5,545.5 L756.6,545.6 L757.7,545.4 L758.7,544.9 L759.8,544.1 L760.9,545.5 L761.9,546 L763,547.7 L764.1,548.6 L765.1,548.7 L766.2,548.6 L767.3,547.3 L768.3,547.3 L769.4,546.8 L770.5,547.4 L771.5,549 L772.6,550 L773.7,549.1 L774.7,548.3 L775.8,548 L776.9,548.4 L777.9,550.3 L779,550.8 L780.1,551.1 L781.1,550.9 L782.2,552 L783.3,551.8 L784.3,552.3 L785.4,551.2 L786.5,550.2 L787.5,550.1 L788.6,548.5 L789.7,548.5 L790.7,548.4 L791.8,547.7 L792.9,545.7 L793.9,543.9 L795,542.9 L796.1,543.4 L797.1,542.9 L798.2,543.6 L799.3,544.2 L800.3,543.7 L801.4,545 L802.5,545.3 L803.5,544.1 L804.6,543.9 L805.7,546.9 L806.7,549 L807.8,550.7 L808.9,551.1 L809.9,551 L811,550.1 L812.1,548.7 L813.1,549.2 L814.2,548.1 L815.3,547.3 L816.3,548 L817.4,546.9 L818.5,547.5 L819.5,546.9 L820.6,547 L821.7,546.5 L822.7,545.2 L823.8,544.9 L824.9,544.4 L825.9,544.3 L827,544.4 L828.1,543.9 L829.1,544.4 L830.2,543.9 L831.3,545.3 L832.3,545.5 L833.4,545.8 L834.5,545.9 L835.5,547.9 L836.6,548.3 L837.7,547.9 L838.7,547.5 L839.8,547.5 L840.9,545.8 L841.9,544.4 L843,543.6 L844.1,543.7 L845.1,542.4 L846.2,541.9 L847.3,542.3 L848.3,541 L849.4,541.8 L850.5,542.7 L851.5,542.9 L852.6,543.1 L853.7,544 L854.7,543.9 L855.8,543.9 L856.9,544.6 L857.9,544 L859,544.5 L860.1,546.1 L861.1,547.5 L862.2,547.8 L863.3,547.2 L864.3,547.1 L865.4,546.9 L866.5,547.1 L867.5,547.3 L868.6,546.4 L869.7,544.7 L870.7,541.5 L871.8,540 L872.9,539.7 L873.9,540.9 L875,541.5 L876.1,542.2 L877.1,543.6 L878.2,544 L879.3,545.6 L880.3,547.2 L881.4,548.7 L882.5,547.9 L883.5,546.9 L884.6,547.1 L885.7,545.6 L886.7,544.5 L887.8,543.2 L888.9,545.4 L889.9,548 L891,549.7 L892.1,549.3 L893.1,549 L894.2,548.1 L895.3,547.6 L896.3,547.5 L897.4,546.9 L898.5,546.9 L899.5,547.8 L900.6,547.8 L901.7,547.5 L902.7,545.9 L903.8,545.5 L904.9,545.2 L905.9,544.7 L907,544.4 L908.1,544.5 L909.1,543.5 L910.2,543.7 L911.3,542.5 L912.3,540.4 L913.4,539.6 L914.5,540.5 L915.5,539.6 L916.6,540.4 L917.7,540.6 L918.7,541.4 L919.8,541.6 L920.9,542.7 L921.9,543.6 L923,543.7 L924.1,542.6 L925.1,542.2 L926.2,542.4 L927.3,542.3 L928.3,542.6 L929.4,541.9 L930.5,542.7 L931.5,542.6 L932.6,542 L933.7,544 L934.7,546.6 L935.8,547.9 L936.9,548.1 L937.9,548.2 L939,547.5 L940.1,545.8 L941.1,543.8 L942.2,541.1 L943.3,541.1 L944.3,541 L945.4,540.9 L946.5,541.3 L947.5,543.3 L948.6,543.4 L949.7,544.7 L950.7,543.6 L951.8,544.9 L952.9,546.2 L953.9,547.2 L955,547.3 L956.1,548 L957.1,548.7 L958.2,548.4 L959.3,549.2 L960.3,548.9 L961.4,548.7 L962.5,547.6 L963.5,548.7 L964.6,547.9 L965.7,546.7 L966.7,547.1 L967.8,546.5 L968.9,545.1 L969.9,546 L971,544.7 L972.1,544.4 L973.1,544.9 L974.2,544.1 L975.3,544.7 L976.3,543.8 L977.4,544.3 L978.5,546.1 L979.5,547.7 L980.6,548.4 L981.7,548.9 L982.7,548.8 L983.8,548.9 L984.9,546.8 L985.9,545.7 L987,544.7 L988.1,545.3 L989.1,545.2 L990.2,545 L991.3,545 L992.3,544.8 L993.4,545.8 L994.5,545 L995.5,543.8 L996.6,543.1 L997.7,543.4 L998.7,543.7 L999.8,544.8 L1000.9,544.7 L1001.9,542.9 L1003,542.7 L1004.1,542.1 L1005.1,542.6 L1006.2,541.8 L1007.3,541.6 L1008.3,540.7 L1009.4,539.9 L1010.5,539.5 L1011.5,539.5 L1012.6,538.8 L1013.7,540.9 L1014.7,541.2 L1015.8,543.6 L1016.9,544.5 L1017.9,545 L1019,544.8 L1020.1,544 L1021.1,544 L1022.2,542.9 L1023.3,542.7 L1024.3,542.9 L1025.4,541.7 L1026.5,542.5 L1027.5,542.4 L1028.6,542 L1029.7,542 L1030.7,541.7 L1031.8,541.6 L1032.9,542.4 L1033.9,542.5 L1035,542.7 L1036.1,543.8 L1037.1,543.4 L1038.2,544.3 L1039.3,543.8 L1040.3,541.4 L1041.4,541 L1042.5,541.7 L1043.5,541.2 L1044.6,542.1 L1045.7,543.3 L1046.7,544.7 L1047.8,545.5 L1048.9,546 L1049.9,546.5 L1053,548.1"/><path d="M715,558 L716.1,558.3 L717.1,559.3 L718.2,559 L719.3,558.7 L720.3,557.8 L721.4,556 L722.5,555.5 L723.5,555.6 L724.6,555.8 L725.7,557.3 L726.7,558.6 L727.8,560 L728.9,558.5 L729.9,557 L731,556.5 L732.1,557.3 L733.1,559.1 L734.2,559.5 L735.3,558.4 L736.3,557.4 L737.4,556.7 L738.5,557.6 L739.5,556.4 L740.6,557.3 L741.7,556.9 L742.7,556.6 L743.8,557.1 L744.9,557.6 L745.9,559.5 L747,559.7 L748.1,559.4 L749.1,559.4 L750.2,559.5 L751.3,558.5 L752.3,558.2 L753.4,557.6 L754.5,556.4 L755.5,556.5 L756.6,556.1 L757.7,556.6 L758.7,556.5 L759.8,555.7 L760.9,554.8 L761.9,553.7 L763,553.7 L764.1,552.6 L765.1,552.9 L766.2,552.8 L767.3,551.9 L768.3,552.2 L769.4,551.2 L770.5,551.9 L771.5,553.3 L772.6,554.5 L773.7,553.1 L774.7,552 L775.8,550.9 L776.9,551.5 L777.9,552.1 L779,551.9 L780.1,552 L781.1,551 L782.2,550.4 L783.3,552.3 L784.3,552.4 L785.4,553.8 L786.5,553.5 L787.5,552.7 L788.6,551.9 L789.7,553.1 L790.7,553.1 L791.8,553.4 L792.9,553.6 L793.9,553.4 L795,552.4 L796.1,552.4 L797.1,553.8 L798.2,554 L799.3,553.7 L800.3,552.3 L801.4,551.1 L802.5,551.9 L803.5,552 L804.6,553.3 L805.7,554.4 L806.7,554.3 L807.8,555.4 L808.9,555.6 L809.9,554.3 L811,554.9 L812.1,556.7 L813.1,558.1 L814.2,559.6 L815.3,559.9 L816.3,558.9 L817.4,559 L818.5,557.9 L819.5,557.2 L820.6,557 L821.7,557.6 L822.7,557.9 L823.8,558.6 L824.9,559.5 L825.9,558.5 L827,559.2 L828.1,559.4 L829.1,559.2 L830.2,559.4 L831.3,558.2 L832.3,557.6 L833.4,557.5 L834.5,557.9 L835.5,557.1 L836.6,557.5 L837.7,556.6 L838.7,556.9 L839.8,556.4 L840.9,556.4 L841.9,556.1 L843,556.7 L844.1,556.3 L845.1,554.6 L846.2,553.9 L847.3,553.8 L848.3,554.2 L849.4,553.3 L850.5,553.5 L851.5,553.1 L852.6,553.4 L853.7,552.7 L854.7,553.1 L855.8,553.2 L856.9,553.9 L857.9,553.1 L859,554.1 L860.1,555.3 L861.1,555.6 L862.2,555.3 L863.3,555.8 L864.3,555.3 L865.4,555.3 L866.5,554.1 L867.5,553.7 L868.6,553.9 L869.7,554.7 L870.7,553.2 L871.8,553.9 L872.9,554.4 L873.9,556.3 L875,557 L876.1,557.3 L877.1,557.3 L878.2,556.9 L879.3,556.8 L880.3,556.5 L881.4,556.8 L882.5,557 L883.5,556.4 L884.6,555.3 L885.7,555.7 L886.7,558.1 L887.8,558.4 L888.9,559.2 L889.9,560.6 L891,562 L892.1,560.8 L893.1,559.9 L894.2,558 L895.3,558.6 L896.3,559.8 L897.4,560.7 L898.5,558.6 L899.5,557.3 L900.6,556.2 L901.7,557.1 L902.7,557 L903.8,557.4 L904.9,555.9 L905.9,556.3 L907,554.6 L908.1,555.1 L909.1,555.4 L910.2,556.8 L911.3,557.1 L912.3,559.4 L913.4,559.6 L914.5,559.5 L915.5,560.5 L916.6,560.4 L917.7,560.4 L918.7,562.2 L919.8,562 L920.9,561.4 L921.9,561 L923,561.3 L924.1,561.3 L925.1,561.1 L926.2,561.3 L927.3,561.1 L928.3,560.7 L929.4,559.5 L930.5,559.3 L931.5,559 L932.6,557.8 L933.7,557.9 L934.7,560.2 L935.8,560.3 L936.9,559.3 L937.9,560.4 L939,559.4 L940.1,560 L941.1,560.1 L942.2,560.1 L943.3,559.5 L944.3,558.5 L945.4,558.7 L946.5,557.6 L947.5,557.9 L948.6,557.4 L949.7,557.6 L950.7,556.7 L951.8,556.5 L952.9,557.4 L953.9,559.8 L955,560.3 L956.1,559.5 L957.1,559.5 L958.2,559.7 L959.3,559.4 L960.3,558.1 L961.4,558.1 L962.5,556.9 L963.5,557 L964.6,555.8 L965.7,556.7 L966.7,556.3 L967.8,556.2 L968.9,556.9 L969.9,556.2 L971,556.8 L972.1,557 L973.1,557.1 L974.2,557.9 L975.3,557.9 L976.3,556.8 L977.4,556.2 L978.5,555.7 L979.5,554.5 L980.6,554.8 L981.7,555.6 L982.7,555.6 L983.8,555.4 L984.9,555.6 L985.9,556.1 L987,556.9 L988.1,553.4 L989.1,550.4 L990.2,548 L991.3,549 L992.3,551.8 L993.4,553.2 L994.5,553.2 L995.5,554.1 L996.6,555.1 L997.7,555.7 L998.7,556.1 L999.8,556.1 L1000.9,557.9 L1001.9,559.7 L1003,561.1 L1004.1,561.5 L1005.1,562.3 L1006.2,564 L1007.3,562.3 L1008.3,561.3 L1009.4,558.9 L1010.5,559.3 L1011.5,560.7 L1012.6,562.2 L1013.7,562.9 L1014.7,562.8 L1015.8,563.6 L1016.9,563.3 L1017.9,563.2 L1019,562.7 L1020.1,562.5 L1021.1,561.7 L1022.2,561.6 L1023.3,561.4 L1024.3,560.5 L1025.4,560.9 L1026.5,561.4 L1027.5,560.6 L1028.6,560.2 L1029.7,559 L1030.7,557.8 L1031.8,557.7 L1032.9,557.8 L1033.9,559.2 L1035,559.4 L1036.1,558.8 L1037.1,559.6 L1038.2,559.5 L1039.3,559.4 L1040.3,557.9 L1041.4,557.9 L1042.5,558.4 L1043.5,557.9 L1044.6,557.9 L1045.7,559.3 L1046.7,560 L1047.8,560.4 L1048.9,559.8 L1049.9,557.4 L1053,556.7"/><path d="M715,567.8 L716.1,568.6 L717.1,568.8 L718.2,570.5 L719.3,570.2 L720.3,569.9 L721.4,569 L722.5,569 L723.5,569.5 L724.6,569 L725.7,568.8 L726.7,568.3 L727.8,568.3 L728.9,567.4 L729.9,568.1 L731,567.3 L732.1,566.4 L733.1,566.7 L734.2,565.8 L735.3,564.6 L736.3,565.5 L737.4,564.2 L738.5,564.4 L739.5,563.4 L740.6,563 L741.7,563.8 L742.7,564.9 L743.8,565.4 L744.9,565.4 L745.9,566.9 L747,566.8 L748.1,566.5 L749.1,565.3 L750.2,565.6 L751.3,566.6 L752.3,567.6 L753.4,567.8 L754.5,569.9 L755.5,572.1 L756.6,574.2 L757.7,573.1 L758.7,573.5 L759.8,572.5 L760.9,571.3 L761.9,570.9 L763,570.3 L764.1,570.7 L765.1,570.5 L766.2,569.5 L767.3,569.5 L768.3,569.5 L769.4,570.2 L770.5,569.8 L771.5,570.3 L772.6,569.5 L773.7,568.1 L774.7,567.1 L775.8,566.4 L776.9,563.7 L777.9,562.4 L779,560.3 L780.1,561.2 L781.1,561.4 L782.2,562.6 L783.3,563.5 L784.3,565.2 L785.4,566.1 L786.5,566.6 L787.5,565.4 L788.6,565.7 L789.7,566.7 L790.7,565.5 L791.8,566.4 L792.9,565.8 L793.9,565.4 L795,563.9 L796.1,564.2 L797.1,565.5 L798.2,565.2 L799.3,565.2 L800.3,565.8 L801.4,566.6 L802.5,566.4 L803.5,565.7 L804.6,566.2 L805.7,566.3 L806.7,568.2 L807.8,568.3 L808.9,568.6 L809.9,567.5 L811,567.6 L812.1,567.8 L813.1,567.7 L814.2,568.1 L815.3,567.2 L816.3,566.1 L817.4,565 L818.5,564.6 L819.5,564.7 L820.6,563.7 L821.7,563.7 L822.7,564.1 L823.8,563.2 L824.9,563.6 L825.9,563.3 L827,564.4 L828.1,564.2 L829.1,564.1 L830.2,563.4 L831.3,564.8 L832.3,564.4 L833.4,565.5 L834.5,566.5 L835.5,567.8 L836.6,568.9 L837.7,568.9 L838.7,569.1 L839.8,569.2 L840.9,569 L841.9,569 L843,568.6 L844.1,569.7 L845.1,569.4 L846.2,569.9 L847.3,567.9 L848.3,566.9 L849.4,566.3 L850.5,567.7 L851.5,567.9 L852.6,569.7 L853.7,568.6 L854.7,566.8 L855.8,565.5 L856.9,565.2 L857.9,564.2 L859,564.7 L860.1,564.3 L861.1,565.1 L862.2,565.1 L863.3,565.9 L864.3,566 L865.4,565.6 L866.5,566.2 L867.5,567.4 L868.6,567.2 L869.7,567.1 L870.7,566.4 L871.8,565.1 L872.9,565.9 L873.9,566.1 L875,567.2 L876.1,567 L877.1,566.8 L878.2,565.5 L879.3,565 L880.3,565.5 L881.4,565 L882.5,565.7 L883.5,566.9 L884.6,567.3 L885.7,565.2 L886.7,563.3 L887.8,560.9 L888.9,562 L889.9,564.5 L891,565.9 L892.1,567.6 L893.1,567.9 L894.2,568.9 L895.3,569.4 L896.3,568.6 L897.4,569 L898.5,568.8 L899.5,568.6 L900.6,568.8 L901.7,569.5 L902.7,569.1 L903.8,568.7 L904.9,567.6 L905.9,566.9 L907,565.9 L908.1,565.9 L909.1,566.7 L910.2,568 L911.3,566.3 L912.3,566.1 L913.4,564.8 L914.5,564.4 L915.5,564.5 L916.6,564.9 L917.7,565 L918.7,565.6 L919.8,566.4 L920.9,566.2 L921.9,567.1 L923,567.7 L924.1,567 L925.1,565.5 L926.2,564.9 L927.3,564.3 L928.3,564.3 L929.4,564.7 L930.5,564.5 L931.5,564.3 L932.6,563 L933.7,563 L934.7,563.7 L935.8,564.9 L936.9,566.1 L937.9,566.6 L939,566.5 L940.1,567.5 L941.1,568.6 L942.2,568.8 L943.3,568.3 L944.3,568.1 L945.4,568.2 L946.5,566.5 L947.5,566.4 L948.6,564.4 L949.7,565.3 L950.7,567.3 L951.8,568.8 L952.9,569.5 L953.9,569 L955,568.5 L956.1,567.9 L957.1,565.7 L958.2,565.4 L959.3,565 L960.3,563 L961.4,562.6 L962.5,563.4 L963.5,566.1 L964.6,567.3 L965.7,566.6 L966.7,567.5 L967.8,566.9 L968.9,568.1 L969.9,568.4 L971,568.5 L972.1,568.1 L973.1,568.6 L974.2,567.9 L975.3,568.7 L976.3,569.1 L977.4,570.6 L978.5,568.9 L979.5,569 L980.6,567.4 L981.7,568.3 L982.7,568.8 L983.8,568.6 L984.9,569.3 L985.9,567.8 L987,568.6 L988.1,569.2 L989.1,568.3 L990.2,568.6 L991.3,570.7 L992.3,572.2 L993.4,573.1 L994.5,571.9 L995.5,571 L996.6,571 L997.7,570.3 L998.7,568.1 L999.8,567.8 L1000.9,568.5 L1001.9,569.2 L1003,570.6 L1004.1,569.9 L1005.1,568.9 L1006.2,568.5 L1007.3,569.3 L1008.3,568.9 L1009.4,568.4 L1010.5,568.5 L1011.5,570.1 L1012.6,570.6 L1013.7,568.6 L1014.7,568.2 L1015.8,566.6 L1016.9,567.4 L1017.9,566.8 L1019,567.3 L1020.1,567.5 L1021.1,566.6 L1022.2,567 L1023.3,566.9 L1024.3,568.1 L1025.4,568.7 L1026.5,569.7 L1027.5,570 L1028.6,570.4 L1029.7,569.5 L1030.7,569.1 L1031.8,568.1 L1032.9,570.1 L1033.9,571.3 L1035,572.8 L1036.1,572.6 L1037.1,572.2 L1038.2,572.1 L1039.3,573.5 L1040.3,575.4 L1041.4,576 L1042.5,575.6 L1043.5,574.2 L1044.6,573.9 L1045.7,572.5 L1046.7,573.2 L1047.8,572 L1048.9,572.7 L1049.9,572.4 L1053,573.4"/><path d="M715,579 L716.1,579.3 L717.1,578.6 L718.2,579 L719.3,579.3 L720.3,580 L721.4,580.7 L722.5,581.3 L723.5,581.6 L724.6,583.3 L725.7,583.7 L726.7,583.4 L727.8,582.3 L728.9,581 L729.9,578 L731,576.4 L732.1,576.9 L733.1,576.7 L734.2,576.5 L735.3,578.2 L736.3,578.8 L737.4,580.7 L738.5,580.3 L739.5,578.7 L740.6,578.6 L741.7,579.6 L742.7,581 L743.8,581.4 L744.9,583.5 L745.9,585 L747,586.2 L748.1,585.7 L749.1,585.2 L750.2,583.7 L751.3,583.7 L752.3,583.1 L753.4,582.3 L754.5,580.7 L755.5,581 L756.6,579.8 L757.7,580.3 L758.7,579.4 L759.8,580.2 L760.9,579.7 L761.9,579.5 L763,579.7 L764.1,581.9 L765.1,583.7 L766.2,586.1 L767.3,584.6 L768.3,584.1 L769.4,583.9 L770.5,584.3 L771.5,583.6 L772.6,583.2 L773.7,582.7 L774.7,582.1 L775.8,581.6 L776.9,581.7 L777.9,582 L779,582.4 L780.1,582 L781.1,582.5 L782.2,581.4 L783.3,581.4 L784.3,581.8 L785.4,581.2 L786.5,580.8 L787.5,580.3 L788.6,580.1 L789.7,581 L790.7,581 L791.8,581.1 L792.9,581.2 L793.9,582.8 L795,583.1 L796.1,582 L797.1,580.6 L798.2,578.3 L799.3,577.2 L800.3,577.1 L801.4,575.8 L802.5,576 L803.5,575.7 L804.6,576.1 L805.7,576.8 L806.7,576.7 L807.8,577.9 L808.9,579.6 L809.9,580.1 L811,582.3 L812.1,580.7 L813.1,580 L814.2,578.4 L815.3,578.7 L816.3,578.8 L817.4,579.9 L818.5,580 L819.5,579.9 L820.6,580.7 L821.7,580.2 L822.7,581.2 L823.8,581.1 L824.9,582.5 L825.9,582.9 L827,583.5 L828.1,582.7 L829.1,581.9 L830.2,580.6 L831.3,581.9 L832.3,582.3 L833.4,582.5 L834.5,579.7 L835.5,578.7 L836.6,575.8 L837.7,575.9 L838.7,576.3 L839.8,576.5 L840.9,575.8 L841.9,576.3 L843,576.1 L844.1,576.5 L845.1,576.2 L846.2,575.3 L847.3,575.9 L848.3,576.4 L849.4,576.2 L850.5,575.8 L851.5,576 L852.6,576.5 L853.7,577.6 L854.7,578.4 L855.8,578.6 L856.9,578.3 L857.9,578.6 L859,578 L860.1,577.9 L861.1,577.3 L862.2,577.7 L863.3,579.6 L864.3,580.7 L865.4,581.5 L866.5,582 L867.5,580.8 L868.6,581 L869.7,580.8 L870.7,580 L871.8,578.6 L872.9,578.2 L873.9,578.7 L875,578.9 L876.1,577.5 L877.1,576.5 L878.2,576.2 L879.3,576.7 L880.3,577.6 L881.4,577.3 L882.5,577.6 L883.5,577.2 L884.6,576.8 L885.7,578.6 L886.7,579.2 L887.8,580.4 L888.9,579.7 L889.9,579.4 L891,579.5 L892.1,578.8 L893.1,578.3 L894.2,578.2 L895.3,577.9 L896.3,579.2 L897.4,579 L898.5,578.4 L899.5,577.3 L900.6,576.8 L901.7,577.5 L902.7,577.2 L903.8,577.2 L904.9,576.7 L905.9,576.1 L907,575.4 L908.1,574.7 L909.1,575.1 L910.2,574.8 L911.3,575.4 L912.3,575.7 L913.4,576.2 L914.5,576.6 L915.5,576.7 L916.6,576.3 L917.7,576.5 L918.7,575.9 L919.8,574.6 L920.9,574.3 L921.9,574.5 L923,574.1 L924.1,574.7 L925.1,576.9 L926.2,577.7 L927.3,579.1 L928.3,581.3 L929.4,582.2 L930.5,582.2 L931.5,583.3 L932.6,583.3 L933.7,583.2 L934.7,583.5 L935.8,582.5 L936.9,580.7 L937.9,579.2 L939,576.6 L940.1,577.5 L941.1,578.3 L942.2,578.1 L943.3,580.4 L944.3,581.8 L945.4,583.1 L946.5,582.3 L947.5,581 L948.6,578.8 L949.7,578.5 L950.7,579.1 L951.8,578.2 L952.9,579.2 L953.9,579.6 L955,581.2 L956.1,580 L957.1,579.7 L958.2,579.4 L959.3,580.5 L960.3,580.9 L961.4,581.1 L962.5,581.6 L963.5,581.1 L964.6,582.3 L965.7,581.5 L966.7,580.9 L967.8,580.6 L968.9,580.4 L969.9,578.1 L971,578.1 L972.1,579.3 L973.1,580.4 L974.2,580.7 L975.3,580.5 L976.3,580.2 L977.4,580.7 L978.5,583.2 L979.5,583.9 L980.6,586.6 L981.7,586 L982.7,585 L983.8,584.4 L984.9,584.2 L985.9,583.2 L987,582.8 L988.1,582.1 L989.1,580.6 L990.2,580.2 L991.3,580.6 L992.3,580.3 L993.4,579.6 L994.5,578.9 L995.5,578.5 L996.6,578.1 L997.7,579.6 L998.7,579.5 L999.8,580.2 L1000.9,581 L1001.9,581 L1003,580.5 L1004.1,580.8 L1005.1,581.4 L1006.2,582.8 L1007.3,582.7 L1008.3,582.9 L1009.4,582.8 L1010.5,582.1 L1011.5,581.8 L1012.6,580.9 L1013.7,579.5 L1014.7,578.4 L1015.8,576.4 L1016.9,576.9 L1017.9,579.3 L1019,580.4 L1020.1,580.4 L1021.1,582.2 L1022.2,582.3 L1023.3,583.4 L1024.3,583.2 L1025.4,584.5 L1026.5,583.8 L1027.5,582.7 L1028.6,581.2 L1029.7,581 L1030.7,580.5 L1031.8,580.6 L1032.9,579.5 L1033.9,577.5 L1035,576.8 L1036.1,577.5 L1037.1,578.9 L1038.2,579.6 L1039.3,580.2 L1040.3,581.4 L1041.4,581.6 L1042.5,582.1 L1043.5,581.7 L1044.6,580.8 L1045.7,581.5 L1046.7,581.3 L1047.8,581.8 L1048.9,582.5 L1049.9,584.6 L1053,586.2"/><path d="M715,591.3 L716.1,590.1 L717.1,587.5 L718.2,586.7 L719.3,587.6 L720.3,588.4 L721.4,590.2 L722.5,591 L723.5,591.7 L724.6,592.6 L725.7,592.7 L726.7,591.5 L727.8,591.1 L728.9,590 L729.9,588.7 L731,586.5 L732.1,587.6 L733.1,587 L734.2,587.7 L735.3,588.8 L736.3,588.1 L737.4,589 L738.5,589.7 L739.5,591.3 L740.6,591.4 L741.7,590 L742.7,587.9 L743.8,586.8 L744.9,587.2 L745.9,587.7 L747,588.6 L748.1,589.4 L749.1,589.1 L750.2,588.8 L751.3,589 L752.3,587.8 L753.4,586.9 L754.5,589 L755.5,589 L756.6,590.7 L757.7,588.8 L758.7,586.6 L759.8,585.4 L760.9,586.8 L761.9,588.4 L763,589.9 L764.1,591.1 L765.1,591.4 L766.2,591.8 L767.3,592 L768.3,591.9 L769.4,591.8 L770.5,591.3 L771.5,590.2 L772.6,588.6 L773.7,589.2 L774.7,590.4 L775.8,591.3 L776.9,590.8 L777.9,590 L779,590.5 L780.1,589.6 L781.1,589.2 L782.2,589.1 L783.3,589.8 L784.3,590.1 L785.4,589.4 L786.5,589.5 L787.5,590.6 L788.6,591.6 L789.7,591.5 L790.7,590.3 L791.8,590.5 L792.9,589.4 L793.9,588.3 L795,587.4 L796.1,588.7 L797.1,590.2 L798.2,590.5 L799.3,590.7 L800.3,589.5 L801.4,589.7 L802.5,589.6 L803.5,590.5 L804.6,591 L805.7,591.5 L806.7,592.3 L807.8,592.5 L808.9,592.2 L809.9,591.5 L811,590.4 L812.1,589.5 L813.1,589.2 L814.2,589 L815.3,588.9 L816.3,588.1 L817.4,587.6 L818.5,590.1 L819.5,591.6 L820.6,593.1 L821.7,592.6 L822.7,593.3 L823.8,592.2 L824.9,592.1 L825.9,591.5 L827,591.8 L828.1,591 L829.1,591.6 L830.2,590.4 L831.3,589.8 L832.3,589.8 L833.4,590 L834.5,590 L835.5,591.1 L836.6,590.8 L837.7,591.9 L838.7,592.5 L839.8,593.1 L840.9,593.2 L841.9,593.2 L843,592.4 L844.1,592.2 L845.1,592.9 L846.2,592.3 L847.3,590.9 L848.3,590.9 L849.4,590.3 L850.5,591.6 L851.5,591.3 L852.6,592.6 L853.7,591 L854.7,589.1 L855.8,587.6 L856.9,589.3 L857.9,590.6 L859,593.1 L860.1,593.6 L861.1,594 L862.2,593.3 L863.3,593.7 L864.3,593.2 L865.4,592.2 L866.5,591.3 L867.5,590.4 L868.6,589.3 L869.7,590.7 L870.7,590 L871.8,591.5 L872.9,590.7 L873.9,591.4 L875,591.3 L876.1,591.9 L877.1,591.7 L878.2,591.6 L879.3,590.7 L880.3,591.3 L881.4,591 L882.5,591 L883.5,591.1 L884.6,590.7 L885.7,590.3 L886.7,591.7 L887.8,591.9 L888.9,591.8 L889.9,591.9 L891,591.9 L892.1,592.5 L893.1,592 L894.2,592.5 L895.3,592 L896.3,591.7 L897.4,592.3 L898.5,594.4 L899.5,596.1 L900.6,597.4 L901.7,596 L902.7,595.4 L903.8,594.2 L904.9,595.3 L905.9,596 L907,596.3 L908.1,596.1 L909.1,596.3 L910.2,596.4 L911.3,597.2 L912.3,597.7 L913.4,599.4 L914.5,598.6 L915.5,597 L916.6,596.4 L917.7,596.8 L918.7,596.8 L919.8,596.7 L920.9,596.4 L921.9,596.3 L923,596.5 L924.1,594.7 L925.1,592.1 L926.2,589.8 L927.3,591.7 L928.3,593 L929.4,593.6 L930.5,594.2 L931.5,594.9 L932.6,594.8 L933.7,594.2 L934.7,593.3 L935.8,592.4 L936.9,591.7 L937.9,591.6 L939,590.9 L940.1,589.8 L941.1,587.3 L942.2,586.4 L943.3,588.1 L944.3,589.5 L945.4,590 L946.5,590.8 L947.5,590.2 L948.6,590 L949.7,590.6 L950.7,589.7 L951.8,589.5 L952.9,590.2 L953.9,592.4 L955,593.8 L956.1,594 L957.1,593.3 L958.2,593.5 L959.3,593.4 L960.3,593.6 L961.4,593.5 L962.5,593.9 L963.5,594.3 L964.6,594.4 L965.7,594.4 L966.7,594.1 L967.8,593.8 L968.9,594.4 L969.9,593.6 L971,594.3 L972.1,592.1 L973.1,591.3 L974.2,590.2 L975.3,589.4 L976.3,589.6 L977.4,590.1 L978.5,589.2 L979.5,588.3 L980.6,587.7 L981.7,588.1 L982.7,586.9 L983.8,587.6 L984.9,587.1 L985.9,586.8 L987,585.3 L988.1,584.3 L989.1,585.1 L990.2,584.1 L991.3,584.2 L992.3,583.7 L993.4,584.6 L994.5,587.2 L995.5,590.4 L996.6,592.2 L997.7,593.7 L998.7,593.8 L999.8,594.9 L1000.9,594 L1001.9,593.1 L1003,591.7 L1004.1,591.5 L1005.1,592.2 L1006.2,593 L1007.3,592.1 L1008.3,592.4 L1009.4,591.7 L1010.5,593.1 L1011.5,592.6 L1012.6,593.6 L1013.7,593.5 L1014.7,595.4 L1015.8,595.7 L1016.9,595.5 L1017.9,593.9 L1019,593 L1020.1,591.8 L1021.1,592.7 L1022.2,591.6 L1023.3,591.4 L1024.3,590.6 L1025.4,590.9 L1026.5,590 L1027.5,589.6 L1028.6,589.9 L1029.7,590 L1030.7,590.9 L1031.8,591.4 L1032.9,591.5 L1033.9,591 L1035,591.2 L1036.1,591.3 L1037.1,590.8 L1038.2,589.9 L1039.3,590.3 L1040.3,592.5 L1041.4,593.5 L1042.5,592.1 L1043.5,591.9 L1044.6,591.3 L1045.7,591.5 L1046.7,591.6 L1047.8,592.1 L1048.9,592.2 L1049.9,593.4 L1053,594.2"/><path d="M715,606.1 L716.1,605.7 L717.1,606 L718.2,606.8 L719.3,606.6 L720.3,605 L721.4,604.6 L722.5,604.3 L723.5,603.4 L724.6,603.4 L725.7,603.3 L726.7,603.9 L727.8,604.7 L728.9,604 L729.9,604.3 L731,604.9 L732.1,605.6 L733.1,606.6 L734.2,608.4 L735.3,607.3 L736.3,606 L737.4,603.9 L738.5,604.3 L739.5,604.8 L740.6,606.1 L741.7,606.3 L742.7,607.6 L743.8,608.4 L744.9,608.5 L745.9,609.8 L747,609.8 L748.1,609.6 L749.1,610.2 L750.2,610.6 L751.3,610.3 L752.3,610.8 L753.4,612 L754.5,611.1 L755.5,608.9 L756.6,608.4 L757.7,606.2 L758.7,603.8 L759.8,602.6 L760.9,603.1 L761.9,605.1 L763,605.3 L764.1,606.8 L765.1,606.4 L766.2,607.6 L767.3,607.5 L768.3,607 L769.4,605.7 L770.5,605.5 L771.5,605.2 L772.6,605.1 L773.7,604.4 L774.7,601.9 L775.8,601.2 L776.9,600.4 L777.9,600.7 L779,600.4 L780.1,600.2 L781.1,600.1 L782.2,599.9 L783.3,600.7 L784.3,600.4 L785.4,600 L786.5,600.6 L787.5,603.1 L788.6,604 L789.7,603.5 L790.7,603.3 L791.8,603.9 L792.9,603.9 L793.9,604.4 L795,604.7 L796.1,605 L797.1,605.9 L798.2,606.5 L799.3,606.6 L800.3,605.1 L801.4,604.8 L802.5,604.8 L803.5,603.3 L804.6,602.7 L805.7,602.7 L806.7,601.6 L807.8,601.1 L808.9,602.4 L809.9,603.6 L811,605.5 L812.1,606.3 L813.1,608.3 L814.2,608.7 L815.3,606.1 L816.3,604.5 L817.4,601.7 L818.5,601.9 L819.5,600.6 L820.6,601.2 L821.7,600.7 L822.7,599.5 L823.8,599.1 L824.9,597.5 L825.9,598 L827,596.7 L828.1,597.8 L829.1,598.4 L830.2,600.4 L831.3,599.5 L832.3,598.9 L833.4,598.6 L834.5,599.3 L835.5,600.2 L836.6,601.9 L837.7,601.5 L838.7,601.6 L839.8,600.8 L840.9,599.8 L841.9,599 L843,598.5 L844.1,599.6 L845.1,599.1 L846.2,599.3 L847.3,599.1 L848.3,599.5 L849.4,600.2 L850.5,599.8 L851.5,598.7 L852.6,598.2 L853.7,598.9 L854.7,599.8 L855.8,600.2 L856.9,600.2 L857.9,599.5 L859,599.4 L860.1,599.7 L861.1,600 L862.2,601.4 L863.3,602.5 L864.3,604.4 L865.4,606.5 L866.5,607.3 L867.5,607.5 L868.6,607.6 L869.7,607.5 L870.7,606.7 L871.8,607.3 L872.9,608.3 L873.9,607.4 L875,608.4 L876.1,608.5 L877.1,608 L878.2,607.5 L879.3,606.4 L880.3,605.4 L881.4,603.8 L882.5,604.3 L883.5,604.1 L884.6,605.2 L885.7,606.1 L886.7,607 L887.8,607.5 L888.9,607.4 L889.9,607.4 L891,608.5 L892.1,609.8 L893.1,610.5 L894.2,610.8 L895.3,609.9 L896.3,609.3 L897.4,607.9 L898.5,608.2 L899.5,609.5 L900.6,609.4 L901.7,609 L902.7,608.1 L903.8,606.9 L904.9,604.9 L905.9,604.1 L907,603.1 L908.1,602.6 L909.1,601.4 L910.2,601.2 L911.3,602.5 L912.3,603.2 L913.4,605 L914.5,604.4 L915.5,604.2 L916.6,602.8 L917.7,603.3 L918.7,603 L919.8,603.6 L920.9,604.7 L921.9,605 L923,605.2 L924.1,603.5 L925.1,602.4 L926.2,601.6 L927.3,602.9 L928.3,602.5 L929.4,603.8 L930.5,602.1 L931.5,599.7 L932.6,598.6 L933.7,598.8 L934.7,598.2 L935.8,597.7 L936.9,597.5 L937.9,599.2 L939,599.3 L940.1,599 L941.1,598.8 L942.2,598.4 L943.3,598 L944.3,598.6 L945.4,597.8 L946.5,598.6 L947.5,599 L948.6,598.6 L949.7,599.7 L950.7,600.2 L951.8,601.2 L952.9,600.7 L953.9,601.4 L955,601.3 L956.1,602.8 L957.1,603.2 L958.2,604 L959.3,602.4 L960.3,601.7 L961.4,599.4 L962.5,599.8 L963.5,598.8 L964.6,598.6 L965.7,599.1 L966.7,601.7 L967.8,602.4 L968.9,602.2 L969.9,602.3 L971,602.3 L972.1,602.5 L973.1,602 L974.2,600.7 L975.3,602.1 L976.3,601.4 L977.4,602.6 L978.5,604.3 L979.5,606 L980.6,607.5 L981.7,606.4 L982.7,604.8 L983.8,604.6 L984.9,604.2 L985.9,603 L987,601.6 L988.1,602.6 L989.1,603.3 L990.2,604.1 L991.3,603.9 L992.3,605 L993.4,605.6 L994.5,606.7 L995.5,607 L996.6,607.6 L997.7,606.4 L998.7,603.9 L999.8,602.1 L1000.9,603.7 L1001.9,603.9 L1003,605.7 L1004.1,606.3 L1005.1,606.9 L1006.2,608.5 L1007.3,607.6 L1008.3,606 L1009.4,604.4 L1010.5,604.9 L1011.5,605.3 L1012.6,606.9 L1013.7,605.7 L1014.7,605.1 L1015.8,603.1 L1016.9,603.1 L1017.9,603.3 L1019,603.7 L1020.1,603.6 L1021.1,604.2 L1022.2,605.2 L1023.3,605.1 L1024.3,603.6 L1025.4,603.6 L1026.5,604 L1027.5,602.6 L1028.6,602.6 L1029.7,603.4 L1030.7,603.3 L1031.8,603.2 L1032.9,602.2 L1033.9,600.3 L1035,599.5 L1036.1,598.5 L1037.1,597.2 L1038.2,596.7 L1039.3,597.5 L1040.3,596.8 L1041.4,597.1 L1042.5,599 L1043.5,600.4 L1044.6,601.7 L1045.7,602.2 L1046.7,602.6 L1047.8,603.9 L1048.9,603.9 L1049.9,604.9 L1053,605.5"/><path d="M715,616.9 L716.1,618.4 L717.1,618.9 L718.2,619.3 L719.3,618.6 L720.3,618.1 L721.4,618.4 L722.5,618.5 L723.5,619.2 L724.6,620.3 L725.7,619.9 L726.7,619.1 L727.8,619.7 L728.9,619 L729.9,619.1 L731,617.8 L732.1,616.1 L733.1,614.6 L734.2,612.5 L735.3,613.8 L736.3,615.3 L737.4,617.1 L738.5,616.3 L739.5,617.2 L740.6,616.3 L741.7,616.2 L742.7,616.3 L743.8,616.9 L744.9,617 L745.9,618.5 L747,618.7 L748.1,618.9 L749.1,617.5 L750.2,618.1 L751.3,618.8 L752.3,619.5 L753.4,620.8 L754.5,621.6 L755.5,622 L756.6,622 L757.7,621.6 L758.7,620.6 L759.8,619.9 L760.9,619.5 L761.9,620.8 L763,620.4 L764.1,620 L765.1,620 L766.2,620.4 L767.3,619.5 L768.3,620.3 L769.4,620 L770.5,618.3 L771.5,618.5 L772.6,617 L773.7,616.5 L774.7,617.8 L775.8,617.4 L776.9,618.1 L777.9,620.4 L779,621.5 L780.1,620.3 L781.1,620.4 L782.2,619.1 L783.3,618.7 L784.3,619.6 L785.4,618.8 L786.5,619.7 L787.5,618.7 L788.6,619.8 L789.7,619.7 L790.7,619 L791.8,618.7 L792.9,616.1 L793.9,613.1 L795,610.9 L796.1,612 L797.1,611.9 L798.2,613.3 L799.3,613.3 L800.3,614.7 L801.4,615.6 L802.5,616.5 L803.5,615.9 L804.6,616.8 L805.7,616.6 L806.7,616.5 L807.8,616.5 L808.9,616 L809.9,614.8 L811,614.5 L812.1,615.9 L813.1,619.3 L814.2,621.1 L815.3,621.5 L816.3,622.8 L817.4,622.8 L818.5,620.9 L819.5,620.1 L820.6,618.9 L821.7,617.2 L822.7,616.3 L823.8,615.8 L824.9,616.4 L825.9,616.8 L827,618.3 L828.1,619.2 L829.1,618.7 L830.2,618.7 L831.3,618.2 L832.3,618.7 L833.4,617.7 L834.5,617.6 L835.5,616.9 L836.6,617.5 L837.7,617 L838.7,615.9 L839.8,616 L840.9,617 L841.9,616.1 L843,616.9 L844.1,616.3 L845.1,616.1 L846.2,615.7 L847.3,613.6 L848.3,612.8 L849.4,611 L850.5,612.4 L851.5,613.5 L852.6,614.1 L853.7,615.3 L854.7,616.6 L855.8,619 L856.9,617.7 L857.9,617.1 L859,616 L860.1,616.5 L861.1,617.3 L862.2,618.4 L863.3,617.4 L864.3,615.7 L865.4,615.1 L866.5,614.4 L867.5,614.8 L868.6,615 L869.7,614.5 L870.7,615 L871.8,614.1 L872.9,613.9 L873.9,613.9 L875,612.9 L876.1,613.4 L877.1,612.8 L878.2,613.2 L879.3,614.1 L880.3,613.9 L881.4,613.7 L882.5,613.7 L883.5,613.4 L884.6,612.3 L885.7,613.9 L886.7,613.6 L887.8,614.6 L888.9,615.7 L889.9,615.2 L891,616.1 L892.1,618.2 L893.1,622 L894.2,624 L895.3,621.8 L896.3,620.9 L897.4,619.5 L898.5,615.7 L899.5,611.3 L900.6,608 L901.7,609.5 L902.7,609.6 L903.8,611.2 L904.9,612.8 L905.9,613.8 L907,614.5 L908.1,615.3 L909.1,614.9 L910.2,615.8 L911.3,615.9 L912.3,614.9 L913.4,614.4 L914.5,614.2 L915.5,614.4 L916.6,614.2 L917.7,615.1 L918.7,614.5 L919.8,615.9 L920.9,615.9 L921.9,615.4 L923,614.4 L924.1,614.3 L925.1,613.4 L926.2,613.1 L927.3,614.3 L928.3,614.6 L929.4,614.4 L930.5,614.2 L931.5,613.9 L932.6,614.6 L933.7,615.6 L934.7,616.8 L935.8,618.6 L936.9,617 L937.9,616.7 L939,615.5 L940.1,616.4 L941.1,618.1 L942.2,618.3 L943.3,617.7 L944.3,618.5 L945.4,617.5 L946.5,617.5 L947.5,617.9 L948.6,618.6 L949.7,618 L950.7,619.3 L951.8,618.4 L952.9,617 L953.9,617.2 L955,615.6 L956.1,614.7 L957.1,615.4 L958.2,614.6 L959.3,614.5 L960.3,614.4 L961.4,614.9 L962.5,614.3 L963.5,614.1 L964.6,613.1 L965.7,611.4 L966.7,611.3 L967.8,610.3 L968.9,611.2 L969.9,613.1 L971,613.8 L972.1,614.5 L973.1,614 L974.2,613.7 L975.3,613.2 L976.3,614.1 L977.4,613.8 L978.5,612.8 L979.5,612.9 L980.6,612.7 L981.7,613.8 L982.7,614.6 L983.8,615.9 L984.9,614.8 L985.9,615.6 L987,614.9 L988.1,617 L989.1,617.9 L990.2,619.8 L991.3,617.8 L992.3,616.9 L993.4,615.1 L994.5,612.6 L995.5,611.1 L996.6,609.7 L997.7,611 L998.7,613.8 L999.8,615.5 L1000.9,615.5 L1001.9,615 L1003,614.9 L1004.1,615 L1005.1,614.1 L1006.2,614.3 L1007.3,614.9 L1008.3,616 L1009.4,615.7 L1010.5,615.6 L1011.5,616.9 L1012.6,617.5 L1013.7,616.1 L1014.7,614.6 L1015.8,614.2 L1016.9,615.2 L1017.9,615.3 L1019,616.1 L1020.1,616.3 L1021.1,615.4 L1022.2,614.5 L1023.3,616.3 L1024.3,616.7 L1025.4,617.9 L1026.5,617.4 L1027.5,615.9 L1028.6,616 L1029.7,615.6 L1030.7,616.9 L1031.8,616.3 L1032.9,615 L1033.9,615.3 L1035,614.5 L1036.1,614.6 L1037.1,614.1 L1038.2,614.1 L1039.3,616.2 L1040.3,617.6 L1041.4,620.3 L1042.5,619.3 L1043.5,618.8 L1044.6,617.4 L1045.7,617.7 L1046.7,616.3 L1047.8,615.9 L1048.9,616.2 L1049.9,614.8 L1053,614.8"/></g><g fill="none" stroke="#e8202a" stroke-width="2.9" stroke-linejoin="round"><path d="M1106.2,373 L1106.3,374.4 L1106.5,375.2 L1106.7,376.8 L1106.9,377 L1107,379 L1107.7,379.4 L1108.4,379.1 L1109.1,378.3 L1109.8,376.7 L1110.4,377.3 L1111.8,381.1 L1113.2,384.3 L1114.5,387.8 L1115.9,393.4 L1117.2,396 L1118.8,394.4 L1120.3,389 L1121.8,388.2 L1123.4,384.7 L1124.9,381.5 L1126.3,384.4 L1127.6,387.4 L1129,391.7 L1130.4,394.3 L1131.7,397.7 L1132.6,396.6 L1133.4,395.1 L1134.3,392.1 L1135.1,392.3 L1136,390 L1136.5,392.6 L1137,394 L1137.5,394.4 L1138,394.3 L1138.5,396.8 L1139.5,391.8 L1140.6,388.4 L1141.6,386.7 L1142.6,381.3 L1143.6,378.1 L1144.3,379 L1145,381.5 L1145.7,381.2 L1146.4,383 L1147,384.1 L1147.7,382.7 L1148.4,380.6 L1149.1,380.7 L1149.8,380.2 L1150.4,378.1 L1151.8,378.9 L1153.2,380.8 L1154.5,383 L1155.9,383.7 L1157.3,386.6 L1157.8,385.3 L1158.3,384.7 L1158.8,382.9 L1159.3,381.3 L1159.8,379.8 L1161,384.5 L1162.2,386.4 L1163.4,391.2 L1164.6,394.5 L1165.8,398.5 L1167.3,395.9 L1168.8,391.7 L1170.4,390.6 L1171.9,385.9 L1173.4,384.1 L1174.8,382.2 L1176.2,382.8 L1177.5,382.2 L1178.9,379.8 L1180.2,379 L1181.8,379.9 L1183.3,380.7 L1184.8,381.9 L1186.4,384 L1187.9,384.9 L1188.9,385.8 L1189.9,387.3 L1191,389.9 L1192,390.9 L1193,393.4 L1193.9,390.2 L1194.7,387.1 L1195.6,383.4 L1196.4,379.1 L1197.3,375.6 L1198,375 L1198.6,375 L1199.3,373.8 L1200,375.4 L1200.7,374.7 L1202.4,378 L1204.1,381.7 L1205.8,384.8 L1207.5,389.6 L1209.2,393.4 L1209.9,393.1 L1210.6,392.1 L1211.2,392.9 L1211.9,391.8 L1212.6,390.9 L1213.8,391.4 L1215,393.3 L1216.2,395.5 L1217.4,395.7 L1218.6,396.8 L1219.7,396.6 L1220.9,394.7 L1222.1,395.3 L1223.3,394.7 L1224.5,394.3 L1225.5,391.1 L1226.6,388.3 L1227.6,385.8 L1228.6,382.8 L1229.6,379.8 L1231,380.1 L1232.3,379.6 L1233.7,380.7 L1235.1,382.4 L1236.4,381.5 L1237.1,382.7 L1237.8,383 L1238.5,384.3 L1239.2,387.1 L1239.8,388.3 L1240.5,386.8 L1241.2,386.6 L1241.9,386.3 L1242.6,386.8 L1243.2,386.6 L1245.1,384.5 L1247,379.8 L1248.9,376.3 L1250.7,372.8 L1252.6,369.6 L1254.5,374 L1256.4,378.3 L1258.2,383.5 L1260.1,388.3 L1262,391.7 L1263.5,394.6 L1265,396.3 L1266.6,399.3 L1268.1,402.3 L1269.6,403.7 L1270.5,401.2 L1271.3,399.9 L1272.2,399.4 L1273,398 L1273.9,396 L1275.1,392.1 L1276.3,387.7 L1277.5,384.1 L1278.7,378.9 L1279.9,374.7 L1280.4,376.9 L1280.9,378.6 L1281.4,378.6 L1281.9,381.1 L1282.4,381.5 L1283.4,381.6 L1284.5,381.5 L1285.5,378.8 L1286.5,380.5 L1287.5,379 L1289.7,382 L1291.9,384.9 L1294.2,387.4 L1296.4,387.9 L1298.6,390.9 L1299.8,389.5 L1301,386.2 L1302.2,385.5 L1303.4,384.5 L1304.5,381.5 L1305.4,381.2 L1306.2,382.1 L1307.1,382 L1307.9,382.8 L1308.8,384.1 L1310.2,385.9 L1311.5,388.1 L1312.9,393 L1314.2,395.3 L1315.6,396.8 L1318,394.4 L1320.4,392.7 L1322.8,390.2 L1325.1,387.4 L1327.5,384.9 L1328.4,382.8 L1329.2,381.6 L1330.1,379.4 L1330.9,376.8 L1331.8,375.6 L1333.8,377.9 L1335.9,381.3 L1337.9,384.1 L1340,385.7 L1342,389.2 L1342.7,387.8 L1343.4,386.7 L1344,385 L1344.7,382.8 L1345.4,380.7 L1346.4,379.5 L1347.5,380.5 L1348.5,379.6 L1349.5,379.5 L1350.5,380.7 L1351.7,383.4 L1352.9,387.4 L1354.1,391.6 L1355.3,394.6 L1356.5,397.7 L1357.8,393.2 L1359.2,390.4 L1360.6,386 L1361.9,382 L1363.3,378.1 L1363.8,377.8 L1364.3,378.6 L1364.8,378.7 L1365.3,380.1 L1365.8,379.8 L1367.4,383.9 L1368.9,387.8 L1370.4,392 L1372,396.1 L1373.5,400.3 L1374.4,397 L1375.2,393.3 L1376.1,389.8 L1376.9,385 L1377.8,381.5 L1379.5,382.6 L1381.2,383.4 L1382.9,383.8 L1384.6,383.4 L1386.3,383.2 L1387.3,385.3 L1388.3,390.6 L1389.3,393.8 L1390.4,394.9 L1391.4,399.4 L1392.4,395 L1393.4,391.1 L1394.4,388.3 L1395.5,384 L1396.5,379.8 L1397.3,380.1 L1398.2,380.7 L1399,381.5 L1399.9,382.2 L1400.7,384.1 L1401.3,384 L1401.8,383.5 L1402.3,380.8 L1402.8,381.3 L1403.3,379.8 L1405.3,380 L1407.4,377 L1409.4,376.9 L1411.5,375.6 L1413.5,374.7 L1414.2,376.1 L1414.9,376 L1415.6,374 L1416.2,374.6 L1416.9,375.6 L1418.6,381.1 L1420.3,384.9 L1422,389.4 L1423.7,394.8 L1425.4,398.5 L1427.1,399.7 L1428.8,400.8 L1430.5,399.6 L1432.2,399.4 L1433.9,401.1 L1434.6,402.5 L1435.3,401.6 L1436,403.8 L1436.7,405.4 L1437.4,405.4 L1438,403 L1438.7,401.5 L1439.4,398.4 L1440.1,396.3 L1440.8,395.1"/><path d="M1106.2,450.5 L1107.2,447.7 L1108.2,445.2 L1109.2,443.4 L1110.3,439.5 L1111.3,436.9 L1112.1,439.1 L1113,441.5 L1113.8,442.7 L1114.7,445.8 L1115.5,447.9 L1116.6,448.1 L1117.6,448.4 L1118.6,446.4 L1119.6,446.8 L1120.6,447.1 L1121.5,443.1 L1122.4,442.1 L1123.2,438.9 L1124.1,434.3 L1124.9,432.6 L1125.8,435.2 L1126.6,436.5 L1127.5,437.1 L1128.3,438.4 L1129.2,439.4 L1130.5,441.6 L1131.9,444.3 L1133.2,448.7 L1134.6,450.5 L1136,454.8 L1137.3,451.9 L1138.7,450 L1140.1,447.4 L1141.4,446.5 L1142.8,444.5 L1143.8,446.4 L1144.8,449.5 L1145.8,450.7 L1146.9,453.1 L1147.9,454.8 L1148.6,453.2 L1149.3,452.1 L1149.9,450 L1150.6,448.1 L1151.3,447.1 L1152.3,449.8 L1153.3,451.1 L1154.4,452.1 L1155.4,453.1 L1156.4,453.9 L1157.3,453.8 L1158.1,453.9 L1159,454.4 L1159.8,454.2 L1160.7,455.6 L1162,450.7 L1163.4,444.1 L1164.7,439.6 L1166.1,432.8 L1167.5,427.5 L1168.7,429.7 L1169.9,430.5 L1171,429.3 L1172.2,430.8 L1173.4,432.6 L1174.1,436.9 L1174.8,439 L1175.5,443.6 L1176.2,445.3 L1176.8,448.8 L1178,449.7 L1179.2,453.2 L1180.4,455.7 L1181.6,456.4 L1182.8,459 L1184,455 L1185.2,452.8 L1186.4,451.5 L1187.6,448.1 L1188.8,444.5 L1189.8,443.7 L1190.8,444.2 L1191.8,444 L1192.8,444.1 L1193.9,445.4 L1194.7,444.1 L1195.6,440.5 L1196.4,439.4 L1197.3,437.1 L1198.1,435.2 L1199.3,437.8 L1200.5,442.6 L1201.7,444.4 L1202.9,449.2 L1204.1,452.2 L1205.1,450.7 L1206.1,451 L1207.1,449.9 L1208.2,449.6 L1209.2,449.6 L1210.2,449.9 L1211.2,448.4 L1212.3,446.1 L1213.3,446.6 L1214.3,444.5 L1215.3,445.1 L1216.3,447 L1217.4,449.5 L1218.4,450.4 L1219.4,451.4 L1220.4,449.1 L1221.4,450.2 L1222.5,447 L1223.5,446 L1224.5,445.4 L1224.9,446.8 L1225.2,446.3 L1225.5,446.9 L1225.9,447 L1226.2,448.8 L1227.2,444.7 L1228.3,442.9 L1229.3,438.9 L1230.3,436.8 L1231.3,433.5 L1232.3,434.2 L1233.4,435.4 L1234.4,437.7 L1235.4,437.5 L1236.4,438.6 L1237.8,442.2 L1239.2,446.3 L1240.5,448 L1241.9,451.3 L1243.2,455.6 L1244.8,453.9 L1246.3,451 L1247.8,446.8 L1249.4,443.9 L1250.9,442 L1252.1,445.8 L1253.3,449.6 L1254.5,450.9 L1255.7,456.1 L1256.9,458.2 L1257.5,457.3 L1258.2,454.7 L1258.9,452.3 L1259.6,449.6 L1260.3,448.8 L1260.8,449 L1261.3,452.7 L1261.8,452.2 L1262.3,454.8 L1262.8,455.6 L1264.2,451.2 L1265.5,449 L1266.9,444.6 L1268.3,440.1 L1269.6,436.9 L1270.5,437.1 L1271.3,439.5 L1272.2,438.8 L1273,440.3 L1273.9,442 L1275.9,441.8 L1278,442.2 L1280,441.3 L1282.1,440 L1284.1,440.3 L1285.5,445.1 L1286.8,447 L1288.2,450.3 L1289.6,454.7 L1290.9,459 L1291.9,456.5 L1293,453.1 L1294,451 L1295,449.1 L1296,447.1 L1298.1,445.6 L1300.1,442.7 L1302.2,441.6 L1304.2,441.3 L1306.2,438.6 L1307.6,440.7 L1309,440.7 L1310.3,441.6 L1311.7,442.2 L1313.1,442.8 L1314.1,443.9 L1315.1,445.7 L1316.1,447.7 L1317.1,452.1 L1318.2,453.1 L1319.5,449.8 L1320.9,446.8 L1322.3,440.6 L1323.6,438.4 L1325,434.3 L1326.8,438 L1328.7,442.4 L1330.6,445.1 L1332.5,450.6 L1334.3,453.1 L1334.9,451.4 L1335.4,452.2 L1335.9,452.1 L1336.4,452.1 L1336.9,450.5 L1338.3,452.5 L1339.6,453.8 L1341,455.4 L1342.3,457 L1343.7,457.3 L1344.9,456.1 L1346.1,456.1 L1347.3,455.8 L1348.5,454.9 L1349.7,453.1 L1350.9,450.1 L1352,448.4 L1353.2,445.8 L1354.4,442.3 L1355.6,439.4 L1356.3,440.3 L1357,440.1 L1357.7,441.2 L1358.3,441.8 L1359,442 L1359.7,441.1 L1360.4,442.7 L1361.1,443.8 L1361.8,443.7 L1362.4,442.8 L1363.1,444.6 L1363.8,444.9 L1364.5,447 L1365.2,447.8 L1365.8,448.8 L1366.5,448.3 L1367.2,449 L1367.9,446.7 L1368.6,448.1 L1369.2,447.1 L1370.9,442.5 L1372.7,440.5 L1374.4,436.8 L1376.1,432.8 L1377.8,430.1 L1379.5,434.7 L1381.2,438.2 L1382.9,442.6 L1384.6,447.5 L1386.3,450.5 L1387,450.2 L1387.6,449.9 L1388.3,451 L1389,452.3 L1389.7,452.2 L1390.7,453.6 L1391.7,455.8 L1392.7,459.9 L1393.8,461.5 L1394.8,463.3 L1395.5,461.9 L1396.1,461.9 L1396.8,459.2 L1397.5,458.9 L1398.2,457.3 L1399.4,452.1 L1400.6,448.3 L1401.8,444.8 L1403,440.7 L1404.2,435.2 L1405,437.4 L1405.9,437.3 L1406.7,439 L1407.6,439.5 L1408.4,441.1 L1409.4,439.7 L1410.5,440.1 L1411.5,440.5 L1412.5,440 L1413.5,438.6 L1414.7,440.8 L1415.9,443.2 L1417.1,443.1 L1418.3,444.5 L1419.5,447.1 L1420.3,447.6 L1421.2,447.9 L1422,448.4 L1422.9,449.6 L1423.7,450.5 L1424.6,449.3 L1425.4,447.4 L1426.3,445.4 L1427.1,445.3 L1428,442.8 L1428.8,443.9 L1429.7,442.4 L1430.5,441.2 L1431.4,440.9 L1432.2,442 L1433.9,445.8 L1435.7,446.6 L1437.4,451.2 L1439.1,453.8 L1440.8,456.5"/><path d="M1106.2,484.6 L1107,483 L1107.9,481.9 L1108.7,480.4 L1109.6,477.5 L1110.4,476.9 L1111.5,479.7 L1112.5,484.8 L1113.5,488.6 L1114.5,494.1 L1115.5,497.3 L1116.6,495.6 L1117.6,493.2 L1118.6,490.9 L1119.6,488.9 L1120.6,486.3 L1122,486.7 L1123.4,488.8 L1124.7,489.5 L1126.1,492.8 L1127.5,493.1 L1128.3,495 L1129.2,500 L1130,501.2 L1130.9,505.8 L1131.7,508.4 L1132.9,504.9 L1134.1,502 L1135.3,500.1 L1136.5,494.9 L1137.7,493.1 L1139.7,487.9 L1141.8,486 L1143.8,480.8 L1145.8,475.7 L1147.9,472.6 L1148.2,476.3 L1148.6,478.6 L1148.9,478.8 L1149.3,482 L1149.6,484.6 L1150.4,482.9 L1151.3,482.7 L1152.1,482.8 L1153,481 L1153.9,481.2 L1154.7,482 L1155.6,480.7 L1156.4,481.3 L1157.3,483.3 L1158.1,482.9 L1159.3,486 L1160.5,489.5 L1161.7,493.3 L1162.9,496.4 L1164.1,499.9 L1165.3,496.9 L1166.5,493.2 L1167.6,492.3 L1168.8,490.2 L1170,486.3 L1170.5,488.5 L1171,488.7 L1171.6,489 L1172.1,490 L1172.6,491.4 L1173.8,490.3 L1175,488.8 L1176.2,485.8 L1177.3,484.6 L1178.5,483.7 L1179.9,486.3 L1181.3,489.5 L1182.6,493.2 L1184,495.3 L1185.4,498.2 L1186.4,494.9 L1187.4,494.9 L1188.4,491.9 L1189.4,490.1 L1190.5,488 L1191.3,487.3 L1192.2,487.8 L1193,487.7 L1193.9,488.7 L1194.7,488 L1195.6,489.8 L1196.4,493.9 L1197.3,495.8 L1198.1,500.1 L1199,502.5 L1200,499.4 L1201,498.1 L1202,496.4 L1203.1,495.3 L1204.1,493.1 L1205.3,489.5 L1206.5,488.2 L1207.7,485.2 L1208.8,483 L1210,481.2 L1211.4,483.1 L1212.8,486.4 L1214.1,487.2 L1215.5,490.5 L1216.9,491.4 L1217.9,488.3 L1218.9,488.1 L1219.9,484.4 L1220.9,481.7 L1222,480.3 L1222.6,482.5 L1223.3,484.4 L1224,483.6 L1224.7,485.8 L1225.4,488 L1226,487.3 L1226.7,484.8 L1227.4,483.2 L1228.1,481.2 L1228.8,481.2 L1230,479.6 L1231.2,480.8 L1232.3,481.4 L1233.5,481.1 L1234.7,479.5 L1236.1,485.3 L1237.5,489.8 L1238.8,496.4 L1240.2,503.4 L1241.5,508.4 L1242.9,508.3 L1244.3,506.7 L1245.6,504.6 L1247,504.4 L1248.4,503.3 L1248.7,499.5 L1249,496.1 L1249.4,491.4 L1249.7,489.5 L1250.1,484.6 L1251.2,483.9 L1252.4,480.3 L1253.6,478.9 L1254.8,478.7 L1256,476.1 L1257.2,478.5 L1258.4,483.3 L1259.6,485.3 L1260.8,488.8 L1262,491.4 L1263,491.4 L1264,489.6 L1265,489.3 L1266.1,488.7 L1267.1,488.8 L1267.9,491.7 L1268.8,494.1 L1269.6,495 L1270.5,499.4 L1271.3,500.8 L1273,497 L1274.7,492.9 L1276.4,489.9 L1278.2,487.7 L1279.9,482.9 L1281.4,484.6 L1282.9,486.3 L1284.5,488.6 L1286,490.2 L1287.5,490.5 L1288.5,490.2 L1289.6,488.3 L1290.6,487.7 L1291.6,487.5 L1292.6,485.4 L1294,486.7 L1295.3,486.7 L1296.7,486.6 L1298.1,487.1 L1299.4,488 L1300.6,491.1 L1301.8,493.3 L1303,494.4 L1304.2,498.7 L1305.4,500.8 L1306.6,499.9 L1307.8,497.8 L1309,496.2 L1310.2,494.3 L1311.4,491.4 L1312.4,489.3 L1313.4,487.7 L1314.4,484.4 L1315.4,481.5 L1316.5,480.3 L1318,482.8 L1319.5,485.6 L1321.1,490.1 L1322.6,492.4 L1324.1,494.8 L1325.5,491.5 L1326.8,488.3 L1328.2,483.6 L1329.6,481.3 L1330.9,477.8 L1331.4,479.6 L1332,480.2 L1332.5,481.2 L1333,483 L1333.5,484.6 L1334.2,483.3 L1334.9,483.3 L1335.5,481.1 L1336.2,480.1 L1336.9,480.3 L1337.9,483.4 L1338.9,488 L1340,491.7 L1341,495 L1342,498.2 L1342.7,498 L1343.4,495.1 L1344,492.9 L1344.7,492.7 L1345.4,491.4 L1346.4,492.3 L1347.5,492.6 L1348.5,494.9 L1349.5,495.1 L1350.5,496.5 L1351.9,494.4 L1353.2,493.3 L1354.6,493.6 L1356,489.8 L1357.3,489.7 L1358,490.3 L1358.7,491.2 L1359.4,492 L1360.1,493.6 L1360.7,494.8 L1361.6,490.5 L1362.4,488.7 L1363.3,484.1 L1364.1,481 L1365,476.9 L1366.2,478.4 L1367.4,481.6 L1368.6,484.3 L1369.8,487.3 L1370.9,488.8 L1372.3,489.5 L1373.7,491.4 L1375,493.8 L1376.4,495.1 L1377.8,495.6 L1378.3,494.8 L1378.8,495.4 L1379.3,495.8 L1379.8,494.7 L1380.3,494.8 L1382.9,492.7 L1385.4,490.1 L1388,488.4 L1390.5,484.7 L1393.1,482 L1394.1,486.4 L1395.1,489.5 L1396.1,494.4 L1397.2,497.2 L1398.2,501.6 L1400.6,497.3 L1403,492.7 L1405.3,488.3 L1407.7,483.6 L1410.1,480.3 L1411.8,479.4 L1413.5,480.1 L1415.2,479.2 L1416.9,478.4 L1418.6,479.5 L1419.6,480.6 L1420.7,479.6 L1421.7,481.6 L1422.7,481.1 L1423.7,481.2 L1424.8,483.8 L1425.8,487.9 L1426.8,490.9 L1427.8,492.3 L1428.8,495.6 L1429.7,494.2 L1430.5,495 L1431.4,495 L1432.2,493.9 L1433.1,493.1 L1433.9,492.6 L1434.8,490.5 L1435.7,489.8 L1436.5,487.7 L1437.4,487.1 L1438,487.2 L1438.7,487.5 L1439.4,487.8 L1440.1,488.2 L1440.8,488.8"/><path d="M1106,552 L1106.6,552.7 L1107.2,551.7 L1107.8,551.5 L1108.4,551.5 L1109,550 L1110,550 L1111,551.6 L1112,552.9 L1113,553.4 L1114,553 L1115,555.2 L1116,556.2 L1117,558.8 L1118,562.3 L1119,563 L1119.6,561 L1120.2,560.6 L1120.8,561.2 L1121.4,558.9 L1122,558 L1122.8,558.3 L1123.6,559.6 L1124.4,562.1 L1125.2,561.6 L1126,563 L1126.8,561.1 L1127.6,559.8 L1128.4,558.4 L1129.2,555.8 L1130,554 L1130.6,554.4 L1131.2,557 L1131.8,557 L1132.4,558.6 L1133,561 L1134,559.2 L1135,559.5 L1136,557.5 L1137.1,557.5 L1138.1,556 L1138.9,556.2 L1139.7,557 L1140.5,557.8 L1141.3,560.6 L1142.1,561 L1143.3,559.2 L1144.5,554.7 L1145.7,552 L1146.9,548.6 L1148.1,547 L1148.9,548.2 L1149.7,548.1 L1150.5,548.5 L1151.3,550.6 L1152.1,551 L1153.1,549.9 L1154.1,548.1 L1155.1,545.9 L1156.1,545.8 L1157.1,544 L1157.9,547.8 L1158.7,551.1 L1159.5,554 L1160.3,559.6 L1161.1,562 L1161.5,563.2 L1161.9,562.9 L1162.3,563.9 L1162.7,563.1 L1163.1,563 L1164.1,560.6 L1165.1,558 L1166.1,557.3 L1167.1,555.1 L1168.1,553 L1168.9,553.9 L1169.7,556.3 L1170.5,556.9 L1171.3,556 L1172.1,558 L1173.3,562.4 L1174.5,563.6 L1175.7,568.6 L1176.9,571.2 L1178.1,575.1 L1179.3,572.7 L1180.5,570.2 L1181.7,566.1 L1182.9,563.7 L1184.1,560 L1185.1,557.1 L1186.1,556.9 L1187.1,553.6 L1188.1,552.7 L1189.1,551 L1190.1,548.4 L1191.1,545.5 L1192.1,545.1 L1193.1,541.2 L1194.1,540 L1194.9,541.6 L1195.7,543.4 L1196.5,547.1 L1197.3,548.3 L1198.1,551 L1199.3,549.5 L1200.5,549 L1201.7,549.1 L1202.9,549.5 L1204.1,549 L1205.5,551.2 L1206.9,554.6 L1208.3,559.7 L1209.7,562.7 L1211.1,566.1 L1212.3,562.5 L1213.5,560.4 L1214.7,557.3 L1215.9,555.1 L1217.1,553 L1217.7,553.5 L1218.3,553.9 L1218.9,554.7 L1219.5,555.5 L1220.1,557 L1221.3,555.3 L1222.5,554.8 L1223.7,554.4 L1224.9,552.6 L1226.1,551 L1227.3,553.7 L1228.5,555.4 L1229.8,558.6 L1231,562.6 L1232.2,565.1 L1233.2,562.6 L1234.2,561.5 L1235.2,559.5 L1236.2,555.7 L1237.2,554 L1238,553.7 L1238.8,553.5 L1239.6,554.5 L1240.4,553 L1241.2,554 L1242.2,556.5 L1243.2,561 L1244.2,562.7 L1245.2,567.3 L1246.2,569.1 L1247,568 L1247.8,568.3 L1248.6,566.6 L1249.4,564.8 L1250.2,565.1 L1251.4,561.8 L1252.6,557.5 L1253.8,555.9 L1255,552 L1256.2,548 L1257.6,549.9 L1259,552.7 L1260.4,553.6 L1261.8,556.5 L1263.2,557 L1264.2,555.6 L1265.2,552.2 L1266.2,550.5 L1267.2,549.9 L1268.2,547 L1269,547.8 L1269.8,551.9 L1270.6,551.2 L1271.4,554.9 L1272.2,556 L1273.2,554.7 L1274.2,552.6 L1275.2,551.5 L1276.2,549.8 L1277.2,548 L1278.2,547.5 L1279.2,547.1 L1280.2,546.3 L1281.2,547.6 L1282.2,547 L1283.4,553.4 L1284.6,557.5 L1285.8,564.2 L1287,568.4 L1288.2,574.1 L1289.2,572.4 L1290.2,572.8 L1291.2,572.2 L1292.2,569 L1293.2,569.1 L1294,566.6 L1294.8,561.8 L1295.6,559.6 L1296.4,554.9 L1297.2,552 L1298.4,551.5 L1299.6,548 L1300.8,545.9 L1302,543.7 L1303.2,543 L1304.2,544.9 L1305.2,547.6 L1306.2,552.3 L1307.2,553 L1308.2,557 L1309,556 L1309.8,556.4 L1310.6,556.1 L1311.4,557.8 L1312.2,557 L1313.4,557.8 L1314.6,561.5 L1315.8,562.7 L1317,564.1 L1318.2,567.1 L1319.8,562.9 L1321.5,560.3 L1323.1,556.2 L1324.7,553.2 L1326.3,550 L1327.9,551.3 L1329.5,553.3 L1331.1,555.4 L1332.7,555.9 L1334.3,558 L1335.3,557.1 L1336.3,556.2 L1337.3,553.9 L1338.3,553.9 L1339.3,552 L1340.7,552 L1342.1,554 L1343.5,554.7 L1344.9,555.1 L1346.3,557 L1347.3,559.7 L1348.3,562.4 L1349.3,563.6 L1350.3,565.5 L1351.3,568.1 L1352.5,568.1 L1353.7,567.3 L1354.9,565.4 L1356.1,564.2 L1357.3,563 L1358.5,560.2 L1359.7,557.2 L1360.9,553.9 L1362.1,550.3 L1363.3,547 L1364.7,550.5 L1366.1,553.3 L1367.5,555.8 L1368.9,558.3 L1370.3,561 L1371.7,557.5 L1373.1,553.9 L1374.5,551.5 L1375.9,547.7 L1377.3,545 L1378.7,545.6 L1380.1,545.4 L1381.5,547.9 L1382.9,546.5 L1384.3,548 L1385.3,552.4 L1386.3,555 L1387.3,559.3 L1388.3,562.6 L1389.3,565.1 L1390.5,563.4 L1391.7,562.9 L1392.9,563.9 L1394.1,562.3 L1395.3,561 L1396.1,560.4 L1396.9,561.2 L1397.7,561.2 L1398.5,562.1 L1399.3,563 L1400.1,560.9 L1400.9,559.8 L1401.7,558.9 L1402.5,559 L1403.3,558 L1403.9,559.6 L1404.5,560.1 L1405.1,561.5 L1405.7,562.4 L1406.3,563 L1407.5,558.3 L1408.7,556 L1409.9,551.6 L1411.1,547.6 L1412.3,544 L1413.5,547.4 L1414.8,548.3 L1416,551.1 L1417.2,553.6 L1418.4,555 L1420,556.6 L1421.6,557.3 L1423.2,559 L1424.8,560.9 L1426.4,563 L1427.2,562 L1428,562.4 L1428.8,561.3 L1429.6,562.9 L1430.4,562 L1431.6,560.7 L1432.8,558.4 L1434,555 L1435.2,553.3 L1436.4,552"/><path d="M1110,633.1 L1111,629.2 L1112,627.6 L1113,624.5 L1114,621.1 L1115,618.1 L1115.6,618.6 L1116.2,621.3 L1116.8,622.5 L1117.4,622.9 L1118,624.1 L1118.6,623.1 L1119.2,621.4 L1119.8,619.8 L1120.4,619.8 L1121,619.1 L1122.2,623.1 L1123.4,625.6 L1124.6,631.3 L1125.8,633.6 L1127,638.1 L1128.2,636.4 L1129.4,634.9 L1130.6,636.4 L1131.8,634.7 L1133,633.1 L1133.8,634.9 L1134.6,635 L1135.4,634.3 L1136.2,635.9 L1137.1,637.1 L1138.1,635.5 L1139.1,632.9 L1140.1,633.5 L1141.1,630.4 L1142.1,629.1 L1142.7,629.6 L1143.3,632.7 L1143.9,632.3 L1144.5,635.8 L1145.1,636.1 L1146.1,632.2 L1147.1,628.6 L1148.1,624.3 L1149.1,620.9 L1150.1,617.1 L1150.9,618.3 L1151.7,619.9 L1152.5,624.1 L1153.3,624.4 L1154.1,627.1 L1155.5,629.2 L1156.9,629.2 L1158.3,632.5 L1159.7,633.7 L1161.1,634.1 L1161.9,635.2 L1162.7,635.6 L1163.5,635.5 L1164.3,636.3 L1165.1,636.1 L1166.1,634.1 L1167.1,634.1 L1168.1,634 L1169.1,631.3 L1170.1,631.1 L1171.3,630.6 L1172.5,628.9 L1173.7,626.1 L1174.9,624.4 L1176.1,623.1 L1177.5,626.6 L1178.9,630 L1180.3,635.2 L1181.7,637.2 L1183.1,641.1 L1184.9,636.3 L1186.7,632.9 L1188.5,630.9 L1190.3,628 L1192.1,623.1 L1192.9,623.3 L1193.7,623.5 L1194.5,623.8 L1195.3,624.6 L1196.1,624.1 L1197.1,622.2 L1198.1,622 L1199.1,620.7 L1200.1,619.6 L1201.1,618.1 L1202.5,617.9 L1203.9,618.4 L1205.3,619.5 L1206.7,621.6 L1208.1,621.1 L1209.1,623.7 L1210.1,627.4 L1211.1,629.6 L1212.1,632.1 L1213.1,636.1 L1214.3,634.2 L1215.5,635.3 L1216.7,634.4 L1217.9,632.6 L1219.1,632.1 L1219.9,631.6 L1220.7,630.6 L1221.5,630.2 L1222.3,629.3 L1223.1,627.1 L1224.1,627.7 L1225.1,630 L1226.1,630.7 L1227.1,630.6 L1228.1,631.1 L1229.8,634.9 L1231.4,636.7 L1233,639.2 L1234.6,641.7 L1236.2,645.1 L1238.2,641.7 L1240.2,635.4 L1242.2,630.8 L1244.2,628.3 L1246.2,623.1 L1247.6,621.6 L1249,618.7 L1250.4,617.4 L1251.8,613.1 L1253.2,612.1 L1253.8,612.5 L1254.4,613.6 L1255,614.9 L1255.6,615.2 L1256.2,617.1 L1257.4,620.6 L1258.6,625.9 L1259.8,632 L1261,636.8 L1262.2,640.1 L1263,639.8 L1263.8,638.1 L1264.6,636.5 L1265.4,637.3 L1266.2,635.1 L1267.2,635.6 L1268.2,636.5 L1269.2,635.1 L1270.2,636 L1271.2,637.1 L1273.4,635.6 L1275.6,633.1 L1277.8,630.9 L1280,627.8 L1282.2,625.1 L1283.4,626.7 L1284.6,628.9 L1285.8,631.4 L1287,631.8 L1288.2,634.1 L1290.4,631 L1292.6,627.1 L1294.8,625.2 L1297,620 L1299.2,618.1 L1301,620.8 L1302.8,623.7 L1304.6,623.5 L1306.4,627.2 L1308.2,629.1 L1309,629.7 L1309.8,630.4 L1310.6,629.9 L1311.4,629.3 L1312.2,630.1 L1312.8,631.7 L1313.4,634.9 L1314,636.6 L1314.6,636.4 L1315.2,639.1 L1317,635.3 L1318.8,632.5 L1320.6,629.5 L1322.5,627.8 L1324.3,625.1 L1325.1,626.2 L1325.9,630.1 L1326.7,631.5 L1327.5,632.1 L1328.3,635.1 L1329.5,634.8 L1330.7,633.9 L1331.9,633.9 L1333.1,632.8 L1334.3,633.1 L1335.5,629.4 L1336.7,626.7 L1337.9,624.4 L1339.1,622.5 L1340.3,619.1 L1341.5,622.8 L1342.7,625.1 L1343.9,630.5 L1345.1,634.5 L1346.3,637.1 L1347.1,636.6 L1347.9,635.5 L1348.7,632.2 L1349.5,632.2 L1350.3,631.1 L1351.7,627 L1353.1,625.8 L1354.5,621.3 L1355.9,619.7 L1357.3,616.1 L1358.1,619.1 L1358.9,623.8 L1359.7,626.4 L1360.5,629.3 L1361.3,634.1 L1362.9,633.6 L1364.5,633.2 L1366.1,634.6 L1367.7,632.8 L1369.3,633.1 L1370.3,629.7 L1371.3,626.4 L1372.3,624.1 L1373.3,618.5 L1374.3,616.1 L1375.3,620.4 L1376.3,624.1 L1377.3,628.7 L1378.3,633.3 L1379.3,636.1 L1380.3,634.2 L1381.3,633.8 L1382.3,632 L1383.3,630.7 L1384.3,629.1 L1385.5,629.2 L1386.7,632.3 L1387.9,634 L1389.1,633.5 L1390.3,635.1 L1391.5,635.6 L1392.7,638.4 L1393.9,637.1 L1395.1,638 L1396.3,640.1 L1397.1,638.6 L1397.9,640.1 L1398.7,639.6 L1399.5,638.4 L1400.3,638.1 L1402.1,634.2 L1403.9,628.5 L1405.7,625.9 L1407.5,621.2 L1409.3,617.1 L1411.1,616.7 L1412.9,616 L1414.8,615.6 L1416.6,614.8 L1418.4,615.1 L1418.8,612.9 L1419.2,612.9 L1419.6,611.4 L1420,611.6 L1420.4,610.1 L1421.6,612.7 L1422.8,614.3 L1424,615.4 L1425.2,616.6 L1426.4,619.1 L1427.4,623.6 L1428.4,628.7 L1429.4,633.9 L1430.4,639.5 L1431.4,643.1 L1432.6,639.8 L1433.8,638.7 L1435,636.5 L1436.2,634.9 L1437.4,632.1 L1438.8,635.9 L1440.2,638.4 L1441.6,640.9 L1443,644 L1444.4,646.1"/><path d="M1110,696.2 L1111,695.6 L1112,691.6 L1113,689.5 L1114,690.3 L1115,687.2 L1116.2,688.2 L1117.4,689.8 L1118.6,693 L1119.8,694 L1121,696.2 L1121.8,696.8 L1122.6,694.7 L1123.4,696.2 L1124.2,694.1 L1125,694.2 L1126,689.4 L1127,685.3 L1128,679.6 L1129,675.3 L1130,669.2 L1131.2,670.5 L1132.4,669.6 L1133.6,672.5 L1134.8,672.6 L1136,673.2 L1136.9,675.9 L1137.7,678.8 L1138.5,683.7 L1139.3,686.2 L1140.1,689.2 L1141.1,692.3 L1142.1,693.9 L1143.1,696.4 L1144.1,697.4 L1145.1,699.2 L1146.1,697.3 L1147.1,694.7 L1148.1,691.3 L1149.1,690.8 L1150.1,687.2 L1151.3,686.3 L1152.5,687.1 L1153.7,687.2 L1154.9,686 L1156.1,685.2 L1156.9,682.4 L1157.7,682.4 L1158.5,680.2 L1159.3,677.1 L1160.1,676.2 L1161.1,677.6 L1162.1,681.4 L1163.1,682.8 L1164.1,687.7 L1165.1,689.2 L1166.1,690.2 L1167.1,691.2 L1168.1,691.9 L1169.1,693.6 L1170.1,694.2 L1171.3,693.5 L1172.5,690.1 L1173.7,688.4 L1174.9,687.2 L1176.1,685.2 L1177.3,685.8 L1178.5,687.8 L1179.7,688.9 L1180.9,689.8 L1182.1,691.2 L1183.3,690.6 L1184.5,689.2 L1185.7,687.1 L1186.9,688.5 L1188.1,686.2 L1189.3,683.6 L1190.5,681.6 L1191.7,679.3 L1192.9,678.5 L1194.1,675.2 L1195.3,677.7 L1196.5,678 L1197.7,679.1 L1198.9,679.7 L1200.1,682.2 L1201.3,686 L1202.5,686.9 L1203.7,690.7 L1204.9,693 L1206.1,696.2 L1207.3,692.9 L1208.5,690.2 L1209.7,687 L1210.9,683.8 L1212.1,682.2 L1213.5,685.5 L1214.9,689.3 L1216.3,692.2 L1217.7,694.2 L1219.1,698.2 L1220.1,697.3 L1221.1,694.2 L1222.1,693.7 L1223.1,693.4 L1224.1,691.2 L1225.3,689.7 L1226.5,685.9 L1227.7,684.3 L1229,680.8 L1230.2,678.2 L1231.8,678.6 L1233.4,679.2 L1235,680.6 L1236.6,680.4 L1238.2,680.2 L1239,680.9 L1239.8,682.4 L1240.6,682.9 L1241.4,683 L1242.2,684.2 L1243.4,684.1 L1244.6,683.4 L1245.8,682 L1247,682.1 L1248.2,680.2 L1249.2,682.7 L1250.2,687.8 L1251.2,691.9 L1252.2,695 L1253.2,699.2 L1255,695.1 L1256.8,693.3 L1258.6,689.4 L1260.4,685.8 L1262.2,683.2 L1263.6,681.4 L1265,683.2 L1266.4,681 L1267.8,679.8 L1269.2,680.2 L1271,681.6 L1272.8,683.9 L1274.6,687.7 L1276.4,688.1 L1278.2,691.2 L1280,687.4 L1281.8,683.7 L1283.6,681.5 L1285.4,677.6 L1287.2,675.2 L1289.4,678.4 L1291.6,683 L1293.8,687.1 L1296,690.4 L1298.2,693.2 L1299.8,692.8 L1301.4,694.5 L1303,696.5 L1304.6,695.2 L1306.2,697.2 L1307.4,695.4 L1308.6,695.2 L1309.8,693.9 L1311,693.8 L1312.2,692.2 L1313.4,690.3 L1314.6,687.3 L1315.8,684.3 L1317,681.9 L1318.2,680.2 L1320.2,681.2 L1322.3,682.2 L1324.3,685.4 L1326.3,685.7 L1328.3,688.2 L1329.5,688 L1330.7,686.2 L1331.9,683.4 L1333.1,683.4 L1334.3,682.2 L1335.5,680 L1336.7,676.2 L1337.9,674.9 L1339.1,671.3 L1340.3,670.2 L1342.3,675.3 L1344.3,677.7 L1346.3,683.7 L1348.3,689 L1350.3,692.2 L1351.7,695.3 L1353.1,695.9 L1354.5,698.9 L1355.9,700 L1357.3,703.2 L1359.3,697.2 L1361.3,692.9 L1363.3,687.2 L1365.3,679.5 L1367.3,675.2 L1368.3,676 L1369.3,677.9 L1370.3,677.9 L1371.3,680.8 L1372.3,681.2 L1373.5,682.6 L1374.7,682.1 L1375.9,682 L1377.1,683.7 L1378.3,683.2 L1379.5,684.8 L1380.7,685.6 L1381.9,687.4 L1383.1,688.7 L1384.3,691.2 L1386.3,690.3 L1388.3,687.6 L1390.3,686.3 L1392.3,684.8 L1394.3,682.2 L1395.9,686.4 L1397.5,687.4 L1399.1,690.9 L1400.7,695.2 L1402.3,697.2 L1404.3,695.7 L1406.3,692.5 L1408.3,691 L1410.3,687.6 L1412.3,686.2 L1413.8,683.5 L1415.2,681.4 L1416.6,680.5 L1418,678.3 L1419.4,677.2 L1421.2,679.8 L1423,683.6 L1424.8,684.1 L1426.6,687.7 L1428.4,690.2 L1429.2,689.5 L1430,687.2 L1430.8,685.4 L1431.6,684.5 L1432.4,682.2 L1433.6,680.7 L1434.8,682.9 L1436,682.1 L1437.2,682.2 L1438.4,681.2 L1439.6,685.4 L1440.8,686.9 L1442,690.2 L1443.2,693.9 L1444.4,698.2"/><path d="M1626.6,520.6 L1627.4,519.1 L1628.2,519 L1629.1,519.4 L1629.9,519.7 L1630.7,519 L1631.5,518.6 L1632.4,519 L1633.2,519.8 L1634,521.6 L1634.9,521.4 L1635.7,522.6 L1636.5,526 L1637.3,527.8 L1638.2,528.5 L1639,531.4 L1639.8,530.3 L1640.6,528.9 L1641.5,527.7 L1642.3,527.9 L1643.1,525.6 L1643.8,525.6 L1644.5,526.4 L1645.1,529.6 L1645.8,529.3 L1646.4,530.5 L1647.4,528 L1648.4,526.5 L1649.4,524.8 L1650.4,524.4 L1651.4,521.4 L1652.1,522.2 L1652.7,523.7 L1653.4,526.1 L1654.1,527.5 L1654.7,528.9 L1655.7,529 L1656.7,527.7 L1657.7,525.6 L1658.7,524.2 L1659.7,523.9 L1660.4,525.9 L1661,527.4 L1661.7,526.3 L1662.4,529.1 L1663,529.7 L1664.2,527.6 L1665.3,524.1 L1666.5,520.1 L1667.7,518.5 L1668.8,514.8 L1669.6,516.4 L1670.5,516.1 L1671.3,518.1 L1672.1,518.1 L1673,519.8 L1673.9,517 L1674.9,516.1 L1675.9,514.4 L1676.9,512.9 L1677.9,511.5 L1678.9,515.7 L1679.9,519.9 L1680.9,524 L1681.9,527.9 L1682.9,530.5 L1683.9,529.7 L1684.9,527.3 L1685.9,524.1 L1686.9,521.8 L1687.9,520.6 L1688.9,522.1 L1689.9,523 L1690.8,524.5 L1691.8,524.3 L1692.8,526.4 L1694.2,529 L1695.5,534 L1696.8,536.6 L1698.1,540.1 L1699.5,543 L1700.8,538.7 L1702.1,536.1 L1703.4,534 L1704.8,530.1 L1706.1,526.4 L1707.9,523.9 L1709.7,518.4 L1711.6,515.4 L1713.4,512.6 L1715.2,508.2 L1715.9,510.4 L1716.5,513.5 L1717.2,515.3 L1717.9,516.6 L1718.5,519.8 L1719.3,518.2 L1720.2,519.6 L1721,516.9 L1721.8,516.4 L1722.7,516.5 L1723.6,516.6 L1724.6,518 L1725.6,518.8 L1726.6,518.4 L1727.6,519 L1728.6,522.1 L1729.6,525.9 L1730.6,527.9 L1731.6,531.2 L1732.6,534.7 L1733.6,532.1 L1734.6,529.4 L1735.6,525.1 L1736.6,522.5 L1737.6,520.6 L1738.2,520.7 L1738.9,523.1 L1739.6,524.1 L1740.2,525.7 L1740.9,525.6 L1742,524.9 L1743.2,522.3 L1744.4,522.2 L1745.5,521.4 L1746.7,519 L1748,521.4 L1749.3,523.4 L1750.7,527.1 L1752,529.7 L1753.3,533 L1754.3,529.9 L1755.3,527.3 L1756.3,525.2 L1757.3,524.6 L1758.3,521.4 L1759.1,520.5 L1759.9,522 L1760.8,521.2 L1761.6,521.4 L1762.4,522.3 L1763.2,526 L1764.1,527.7 L1764.9,530.4 L1765.7,534.1 L1766.6,537.2 L1767.7,535.5 L1768.9,532.9 L1770,531.6 L1771.2,528.3 L1772.4,526.4 L1773.5,524.3 L1774.7,522.6 L1775.8,519.9 L1777,518.3 L1778.2,515.7 L1779.3,517.7 L1780.5,519.1 L1781.6,521.2 L1782.8,524.9 L1784,526.4 L1785.1,524.8 L1786.3,523.2 L1787.4,520.4 L1788.6,518 L1789.8,515.7 L1790.4,516.5 L1791.1,519.8 L1791.7,519.7 L1792.4,522.1 L1793.1,523.9 L1793.9,521.6 L1794.7,520.7 L1795.5,519 L1796.4,517.8 L1797.2,516.5 L1798.2,516.7 L1799.2,515.9 L1800.2,514.9 L1801.2,515.8 L1802.2,514.8 L1803.7,520.8 L1805.2,526.5 L1806.6,530.1 L1808.1,536.9 L1809.6,542.1 L1810.8,542.2 L1812,539.9 L1813.1,538.9 L1814.3,539.6 L1815.4,538 L1816.1,534 L1816.8,530.5 L1817.4,527.8 L1818.1,523.1 L1818.7,519.8 L1819.9,517.4 L1821.1,515.8 L1822.2,514.5 L1823.4,513.6 L1824.5,511.5 L1825.4,513.7 L1826.2,517.1 L1827,517.9 L1827.9,520.8 L1828.7,523.9 L1830,524.4 L1831.3,524.2 L1832.7,524.4 L1834,525.6 L1835.3,524.8 L1836.3,526.4 L1837.3,528.3 L1838.3,530.1 L1839.3,533.3 L1840.3,535.5 L1841.6,531.5 L1842.9,528.5 L1844.3,523.9 L1845.6,520.4 L1846.9,518.1 L1848.2,518.3 L1849.6,519.7 L1850.9,519.1 L1852.2,521.1 L1853.5,520.6 L1854.2,522 L1854.9,522.7 L1855.5,524.8 L1856.2,524.6 L1856.8,526.4 L1857.5,525.3 L1858.2,524.6 L1858.8,522.5 L1859.5,520.7 L1860.2,519.8 L1861.2,519.8 L1862.1,522 L1863.1,522 L1864.1,523.5 L1865.1,524.8 L1865.8,524.4 L1866.5,524.8 L1867.1,523.7 L1867.8,522.8 L1868.4,522.3 L1869.4,525.9 L1870.4,527.4 L1871.4,530.4 L1872.4,533.9 L1873.4,536.3 L1874.4,535.5 L1875.4,533.7 L1876.4,533.1 L1877.4,533.1 L1878.4,531.4 L1879.7,527.4 L1881,525.2 L1882.4,520.4 L1883.7,519.2 L1885,514.8 L1886.3,518.1 L1887.7,520 L1889,524.4 L1890.3,526.8 L1891.6,528.9 L1893,524.7 L1894.3,522 L1895.6,519.4 L1896.9,517.5 L1898.3,513.2 L1898.9,513.6 L1899.6,514.7 L1900.3,516.7 L1900.9,517.4 L1901.6,519.8 L1902.4,518.6 L1903.2,517.9 L1904.1,516.7 L1904.9,515 L1905.7,514.8 L1906.7,517.3 L1907.7,522.8 L1908.7,525.6 L1909.7,529.3 L1910.7,533 L1911.4,531.8 L1912,531.2 L1912.7,530.5 L1913.3,529.2 L1914,527.2 L1914.8,528.6 L1915.7,528.5 L1916.5,528.9 L1917.3,529.6 L1918.1,531.4 L1919.3,530.6 L1920.5,527 L1921.6,526.6 L1922.8,525.7 L1923.9,523.1 L1924.4,524.2 L1924.9,525.8 L1925.4,527.4 L1925.9,530.1 L1926.4,530.5 L1927.8,527.2 L1929.1,523.7 L1930.4,518 L1931.7,515.9 L1933.1,511.5 L1933.9,513.5 L1934.7,515.6 L1935.5,518.7 L1936.4,520.7 L1937.2,522.3 L1938.4,524.1 L1939.5,524.5 L1940.7,525.7 L1941.8,525.4 L1943,526.4 L1943.8,527.7 L1944.7,529.4 L1945.5,529.8 L1946.3,530.2 L1947.1,532.2 L1948.3,531.1 L1949.5,530.4 L1950.6,529.1 L1951.8,526 L1952.9,525.6 L1953.8,524.1 L1954.6,522.6 L1955.4,521.7 L1956.2,522 L1957.1,519.8"/></g><path d="M1384.1,794.7 L1384.2,795.2 L1384.4,797 L1384.6,798.7 L1384.7,801.6 L1384.9,802.2 L1385.9,802 L1386.9,802.4 L1387.9,800.7 L1388.9,801.5 L1389.9,801.3 L1390.5,801.3 L1391.2,799.7 L1391.9,799.9 L1392.5,798.9 L1393.2,797.2 L1394,796.7 L1394.9,795.7 L1395.7,797.3 L1396.5,795.6 L1397.3,796.4 L1398,794.9 L1398.7,796.3 L1399.3,796.2 L1400,795.9 L1400.6,794.7 L1401.6,793.8 L1402.6,790 L1403.6,787.8 L1404.6,785.9 L1405.6,784.8 L1406.3,787.3 L1406.9,786.5 L1407.6,787.9 L1408.3,788.9 L1408.9,791.4 L1409.4,789.8 L1409.9,789.3 L1410.4,789.6 L1410.9,788.6 L1411.4,788.9 L1412.1,789.3 L1412.7,791.6 L1413.4,790.6 L1414.1,793 L1414.7,793.1 L1415.4,793.3 L1416.1,792.6 L1416.7,792.3 L1417.4,792.4 L1418,791.4 L1418.9,793.3 L1419.7,794.1 L1420.5,796 L1421.4,797.4 L1422.2,799.7 L1423,798.8 L1423.8,799.5 L1424.7,797.5 L1425.5,796 L1426.3,796.4 L1427.5,798.5 L1428.6,801.4 L1429.8,802.7 L1431,805.5 L1432.1,807.1 L1433.1,803.2 L1434.1,800.1 L1435.1,798.6 L1436.1,794.1 L1437.1,792.2 L1437.4,793.7 L1437.8,795.9 L1438.1,797.5 L1438.4,799.1 L1438.8,802.2 L1439.7,800 L1440.7,801.3 L1441.7,799.6 L1442.7,799.3 L1443.7,797.2 L1444.4,798.3 L1445,800.6 L1445.7,801.6 L1446.4,802.1 L1447,803 L1448.2,802.9 L1449.4,802.7 L1450.5,801.8 L1451.7,802 L1452.8,802.2 L1453.8,798.4 L1454.8,792.8 L1455.8,790.1 L1456.8,785 L1457.8,780.6 L1459,786 L1460.1,791.7 L1461.3,796.4 L1462.4,800.3 L1463.6,806.3 L1464.8,804.9 L1465.9,803.5 L1467.1,802.7 L1468.2,804.1 L1469.4,802.2 L1470.4,802.7 L1471.4,804 L1472.4,803.8 L1473.4,803.1 L1474.4,803.8 L1475.2,804.5 L1476,803.9 L1476.9,802.2 L1477.7,800.8 L1478.5,801.3 L1479.7,799.3 L1480.8,797.2 L1482,796.1 L1483.2,793.7 L1484.3,793.1 L1485.3,791.1 L1486.3,789.2 L1487.3,784.9 L1488.3,783.8 L1489.3,780.6 L1490.1,783.7 L1490.9,786.2 L1491.8,790.1 L1492.6,791.6 L1493.4,794.7 L1494.1,795.3 L1494.7,793.3 L1495.4,795.3 L1496.1,793.3 L1496.7,793.9 L1497.6,795.5 L1498.4,800.4 L1499.2,802.9 L1500.1,805.6 L1500.9,808 L1501.7,807.6 L1502.5,805.7 L1503.4,804.1 L1504.2,803.6 L1505,803 L1506,806.6 L1507,809.1 L1508,809.8 L1509,812.8 L1510,815.4 L1510.8,811 L1511.6,807.8 L1512.5,801.3 L1513.3,799 L1514.1,793.9 L1515.3,794.8 L1516.5,797 L1517.6,797.5 L1518.8,798.9 L1519.9,801.3 L1520.6,800.9 L1521.3,798.7 L1521.9,798.5 L1522.6,796.9 L1523.2,794.7 L1524.1,795 L1524.9,793 L1525.7,793.9 L1526.6,794.6 L1527.4,793.1 L1528.5,794.4 L1529.7,794.7 L1530.9,796.3 L1532,799.5 L1533.2,799.7 L1534.3,799.5 L1535.5,796.4 L1536.7,795.3 L1537.8,794.9 L1539,793.1 L1539.8,792.1 L1540.6,790.3 L1541.5,791.2 L1542.3,789.4 L1543.1,788.1 L1544.3,790.1 L1545.4,791.6 L1546.6,795.1 L1547.8,798 L1548.9,799.7 L1550.2,795.9 L1551.6,792.7 L1552.9,791.3 L1554.2,788.8 L1555.5,784.8 L1556.9,786.5 L1558.2,788.7 L1559.5,791.1 L1560.9,792.8 L1562.2,794.7 L1563.5,796.8 L1564.8,800.1 L1566.2,803 L1567.5,805.9 L1568.8,809.6 L1569.6,807 L1570.5,806.1 L1571.3,804 L1572.1,803.8 L1572.9,801.3 L1573.8,801.6 L1574.6,803.8 L1575.4,804.1 L1576.3,803.4 L1577.1,804.7 L1578.1,803.5 L1579.1,804.2 L1580.1,803.6 L1581.1,803.4 L1582.1,803 L1582.7,800.1 L1583.4,799.1 L1584,797.7 L1584.7,794.9 L1585.4,793.1 L1585.9,791.6 L1586.4,792.4 L1586.9,790.1 L1587.4,790.9 L1587.9,788.9 L1588.8,792 L1589.8,793 L1590.8,796.7 L1591.8,798.7 L1592.8,802.2 L1593.8,800.4 L1594.8,797 L1595.8,793.7 L1596.8,793.3 L1597.8,789.8 L1598.5,790.5 L1599.1,790 L1599.8,789.9 L1600.4,788.7 L1601.1,789.8 L1602.3,794.6 L1603.4,796.6 L1604.6,800.7 L1605.7,804.3 L1606.9,808 L1608.2,805.6 L1609.6,802.2 L1610.9,802 L1612.2,798.7 L1613.5,796.4 L1614.5,794.8 L1615.5,794.6 L1616.5,793.3 L1617.5,791.6 L1618.5,789.8 L1619.8,792.4 L1621.2,792.7 L1622.5,793.8 L1623.8,796 L1625.1,798 L1626.5,797.3 L1627.8,796.7 L1629.1,795.6 L1630.4,794.4 L1631.8,793.1 L1633.6,796.6 L1635.4,800.1 L1637.2,803.2 L1639,805.2 L1640.9,809.6 L1642.2,805.3 L1643.5,800.1 L1644.8,795.2 L1646.2,792 L1647.5,787.3 L1648.3,789.7 L1649.2,790.1 L1650,792.6 L1650.8,794.2 L1651.6,795.5 L1652.3,794.8 L1653,794.1 L1653.6,792.5 L1654.3,789.9 L1655,789.8 L1655.8,790 L1656.6,789.4 L1657.4,789.6 L1658.3,790.2 L1659.1,789.8 L1659.9,790.6 L1660.8,793.4 L1661.6,795.8 L1662.4,795.4 L1663.2,798 L1664.6,797.6 L1665.9,795.9 L1667.2,793.8 L1668.5,793.4 L1669.9,791.4 L1670.9,790.1 L1671.8,789.9 L1672.8,791.6 L1673.8,790.4 L1674.8,789.8 L1675.8,792.3 L1676.8,795.5 L1677.8,799.6 L1678.8,803.1 L1679.8,806.3 L1681,805.8 L1682.1,802.2 L1683.3,801.7 L1684.4,799.5 L1685.6,798 L1686.6,798.7 L1687.6,800.1 L1688.6,798.6 L1689.6,800.8 L1690.6,800.5 L1691.4,799.6 L1692.2,797 L1693.1,795.1 L1693.9,795.1 L1694.7,793.1 L1695.7,794.6 L1696.7,794 L1697.7,794.2 L1698.7,795.8 L1699.7,796.4 L1700.7,798.9 L1701.7,800.3 L1702.7,802.6 L1703.7,804 L1704.7,807.1 L1705.5,804.1 L1706.3,802.2 L1707.1,801.3 L1708,797.6 L1708.8,796.4 L1709.8,795.3 L1710.8,795.6 L1711.8,794.7 L1712.8,794.4 L1713.8,794.7" fill="none" stroke="#1f78be" stroke-width="2.7" stroke-linejoin="round"/><rect x="1103.4" y="524.8" width="337.6" height="61" fill="none" stroke="#9ccc88" stroke-width="3.6"/><rect x="357.5" y="428.8" width="311.4" height="207.4" fill="none" stroke="#4fb866" stroke-width="7.6"/><path d="M1510,525 H1574" stroke="#222" stroke-width="3.6"/><path d="M1493,525 L1515,515.5 L1510.5,525 L1515,534.5 Z" fill="#222"/><path d="M1590.5,525 L1568.5,515.5 L1573,525 L1568.5,534.5 Z" fill="#222"/><path d="M1550.6,700 V765" stroke="#000" stroke-width="4" stroke-linecap="round"/><path d="M1550.6,673 L1566.3,709.5 L1550.6,704 L1535.2,709.5 Z" fill="#000"/><path d="M931,662 C950,830 1040,935 1169,941 C1250,944 1310,900 1352,845" stroke="#000" stroke-width="4" fill="none" stroke-linecap="round"/><path d="M1374,814.6 L1366,851.4 L1357,840 L1341.4,835.4 Z" fill="#000"/>
<g transform="translate(1960,420) scale(0.190178)" fill="none" stroke="#000" stroke-width="12" stroke-linecap="round" stroke-linejoin="round"><path d="M270,158 C300,100 380,70 445,98"/><path d="M440,100 C455,55 530,38 640,45"/><path d="M665,68 C720,55 800,50 825,80 C845,110 800,155 720,155"/><path d="M830,105 C950,120 1030,200 1045,310"/><path d="M275,330 C200,350 100,385 70,345 C45,300 120,195 260,160 C310,150 330,185 345,230 C355,280 352,330 350,365"/><path d="M225,285 C260,250 290,225 320,205"/><path d="M338,222 C370,255 410,278 450,295"/><path d="M70,370 C40,420 45,545 120,570 L160,570"/><path d="M160,570 C150,620 220,645 300,630"/><path d="M300,622 C350,560 420,510 480,495 C510,485 520,472 522,462"/><path d="M165,565 C200,510 280,480 355,460"/><path d="M245,505 C260,520 270,545 275,560"/><path d="M305,625 C320,680 370,740 440,745"/><path d="M440,745 C520,752 600,735 660,715 C760,680 880,630 1020,650"/><path d="M445,740 C470,670 520,620 580,580"/><path d="M435,600 L500,635"/><path d="M650,720 C660,800 700,880 760,950"/><path d="M660,720 C730,780 830,830 900,822 C960,812 1000,765 1030,700 L1055,632"/><path d="M1050,630 C1090,612 1100,575 1070,562 C980,532 860,528 775,540"/><path d="M1080,560 C1100,500 1120,400 1090,350 C1060,320 950,330 800,352 L788,342"/><path d="M930,355 C940,410 980,460 1030,445"/><path d="M620,455 L685,560"/><path d="M425,360 C440,420 490,445 560,440 C640,430 700,428 750,445"/><path d="M680,312 L685,425"/><path d="M510,250 C560,210 600,200 630,205"/><path d="M655,175 C620,250 595,290 570,320"/><path d="M640,45 C660,120 665,250 745,255"/><path d="M432,147 L540,140"/><path d="M440,100 C440,150 432,190 425,205"/><path d="M785,152 C792,190 830,240 885,215"/><path d="M175,370 C200,390 220,410 225,440"/></g><circle cx="2135" cy="557" r="10.8" fill="#e62228"/>
<g clip-path="url(#eclip)"><rect x="1870" y="700" width="300" height="300" fill="#8c8c90"/><g fill="#6c6c70" filter="url(#blur1)"><path d="M2022,716 L2052,712 L2082,740 L2064,750 Z" opacity="0.8"/><path d="M2070,754 L2090,750 L2110,778 L2094,784 Z" opacity="0.8"/><path d="M2104,782 L2126,778 L2163,804 L2163,818 Z" opacity="0.8"/><path d="M2091.6,856 L2131.4,871.8 L2163.3,881.4 L2163.3,908.5 L2096.4,879.8 L2088.5,863.9 Z"/><path d="M2067.8,892.5 L2088.5,898.9 L2123.5,922.8 L2163.3,935.5 L2163.3,964 L2131,964 L2091.6,961 L2106,951.4 L2075.7,935.5 L2071,911.6 L2060,915 Z"/><path d="M2036,967.4 L2050,960 L2080,965 L2083.7,977 Z"/><path d="M1890,800 L1925,770 L1935,790 L1900,830 Z"/></g><g fill="#bebec6" filter="url(#blur1)"><path d="M2058,716 L2068,713 L2098,744 L2094,752 Z"/><path d="M2103,756 L2110,754 L2133,777 L2127,782 Z"/><path d="M2088,776 L2100,772 L2122,797 L2114,803 Z"/><path d="M2100,712 L2163,712 L2163,752 L2140,735 Z"/><path d="M2142,768 L2150,765 L2163,790 L2163,802 Z"/><path d="M2130,808 L2150,810 L2150,815 L2132,813 Z"/><path d="M2067.8,852.7 L2080.5,843.2 L2109,844.8 L2163.3,856 L2163.3,881.4 L2131.4,871.8 L2091.6,856 L2088.5,863.9 L2096.4,879.8 L2163.3,908.5 L2163.3,935.5 L2123.5,922.8 L2088.5,898.9 L2067.8,892.5 L2058.2,887.8 L2058.2,881.4 L2067.8,875 L2066.2,863.9 Z"/><path d="M2071,911.6 L2075.7,935.5 L2106,951.4 L2091.6,961 L2131.4,964.2 L2163.3,964.2 L2163.3,983.3 L2083.7,977 L2036,967.4 L2020,961 L2036,941.9 L2039,929 L2059.8,919.6 Z"/><path d="M1884,812 C1890,800 1900,790 1910,786 L1913,792 C1902,800 1895,812 1890,825 Z"/><path d="M1892,777 L1950,737 L1955,745 L1900,785 Z"/><path d="M1880,870 C1882,850 1886,830 1890,815 L1895,818 C1892,835 1889,855 1888,875 Z"/></g><path d="M2022,736 L2163,852" stroke="#f4f4fa" stroke-width="2.2" fill="none"/><path d="M2022,748 L2090,800" stroke="#d8d8e2" stroke-width="3" fill="none" opacity="0.6" filter="url(#blur1)"/><path d="M2064,815 L2109,840 L2163,864" stroke="#f0f0f8" stroke-width="2.3" fill="none"/><ellipse cx="2044" cy="786" rx="7" ry="6" fill="#ffffff" filter="url(#blur2)"/><g filter="url(#bandblur)"><g clip-path="url(#bandclip)"><rect x="1870" y="700" width="300" height="300" fill="#74bf52"/><path d="M1988,730 L2030,730 C2045,760 2060,790 2062,815 L2030,830 L2000,815 C1990,790 1985,760 1988,730 Z" fill="#78ccee" filter="url(#blur4)"/><path d="M1940,735 L1990,735 C1985,760 1975,775 1965,790 L1950,785 Z" fill="#7ad0d8" filter="url(#blur4)" opacity="0.6"/><ellipse cx="2033" cy="803" rx="20" ry="14" fill="#4352c2" filter="url(#blur4)"/><ellipse cx="2022" cy="745" rx="9" ry="7" fill="#ffffff" filter="url(#blur4)" opacity="0.7"/><path d="M1930,865 C1945,845 1958,828 1966,815 L1992,862 C1984,880 1972,895 1962,905 L1922,900 Z" fill="#dede44" filter="url(#blur8)"/><path d="M2040,860 L2055,845 L2050,880 L2030,905 L2020,895 Z" fill="#e0d840" filter="url(#blur8)" opacity="0.8"/><path d="M2030,900 L2048,885 L2035,930 L2010,960 L2000,945 Z" fill="#d03a24" filter="url(#blur4)" opacity="0.8"/><path d="M1876,878 C1900,872 1930,880 1960,900 C1985,905 2005,900 2025,885 L2040,895 C2020,930 2000,950 1970,955 C1930,950 1900,940 1876,925 Z" fill="#e08a30" filter="url(#blur8)"/><path d="M1876,905 C1900,925 1930,945 1965,955 C1985,950 2000,935 2010,925 L2000,990 L1930,990 C1905,970 1885,945 1876,930 Z" fill="#c82222" filter="url(#blur8)"/><ellipse cx="1950" cy="850" rx="8" ry="14" fill="#e0a030" filter="url(#blur2)" opacity="0.6"/></g></g></g><path d="M1990.5,738 C1989.03,742.83 1986.12,756.83 1981.7,767 C1977.28,777.17 1969.33,786.67 1964,799 C1958.67,811.33 1955.9,830.17 1949.7,841 C1943.5,851.83 1933,857.83 1926.8,864 C1920.6,870.17 1917.3,873.83 1912.5,878 C1907.7,882.17 1903.08,886.05 1898,889 C1892.92,891.95 1884.67,894.58 1882,895.7" stroke="#000" stroke-width="3.6" fill="none"/><path d="M2061,828 C2059.33,830 2055.85,832.7 2051,840 C2046.15,847.3 2037.73,860.67 2031.9,871.8 C2026.07,882.93 2021.32,896.72 2016,906.8 C2010.68,916.88 2005.83,924.6 2000,932.3 C1994.17,940 1985.77,950.08 1981,953 C1976.23,955.92 1976.73,951.4 1971.4,949.8 C1966.07,948.2 1956.95,944.2 1949,943.4 C1941.05,942.6 1931.1,944.9 1923.7,945 C1916.3,945.1 1907.78,944.17 1904.6,944" stroke="#000" stroke-width="3.6" fill="none"/><path d="M2029.8,788.9 C2028.73,791.42 2025.53,798.53 2023.4,804 C2021.27,809.47 2020.63,813.58 2017,821.7 C2013.37,829.82 2005.77,844.35 2001.6,852.7 C1997.43,861.05 1995.43,865.75 1992,871.8 C1988.57,877.85 1984.43,883.97 1981,889 C1977.57,894.03 1975.65,898.5 1971.4,902 C1967.15,905.5 1962.13,907.87 1955.5,910 C1948.87,912.13 1938.77,913.2 1931.6,914.8 C1924.43,916.4 1918.33,917.62 1912.5,919.6 C1906.67,921.58 1899.25,925.52 1896.6,926.7" stroke="#000" stroke-width="4" fill="none" stroke-dasharray="8,6"/><circle cx="2014.6" cy="841" r="16" fill="#dfe9dd" stroke="#707070" stroke-width="0.8"/><path d="M2009,838 L2012,831" stroke="#b0a8a8" stroke-width="2.2"/><rect x="1950.5" y="716.8" width="68" height="21.6" rx="3" fill="#646866"/><rect x="2136.3" y="714" width="20.4" height="21.6" rx="3" fill="#6a6e6c"/><circle cx="1909" cy="745" r="34" fill="#fff"/><path d="M1909,711 A34,34 0 0 1 1909,779 Z" fill="url(#polg)"/><circle cx="1909" cy="745" r="34" fill="none" stroke="#000" stroke-width="3"/><path d="M1909,711 V779" stroke="#000" stroke-width="3"/><path d="M1881,745 H1943" stroke="#000" stroke-width="2.6" stroke-dasharray="5.5,4.5"/><rect x="1869" y="993" width="304" height="6" fill="#f2f2f6"/>
</svg></body></html>
